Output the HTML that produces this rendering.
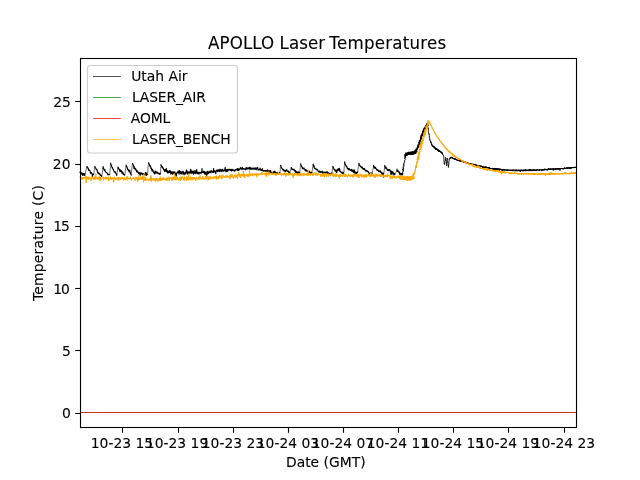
<!DOCTYPE html>
<html lang="en"><head><meta charset="utf-8"><title>APOLLO Laser Temperatures</title>
<style>html,body{margin:0;padding:0;background:#fff;overflow:hidden}svg{display:block}text{font-family:'DejaVu Sans','Liberation Sans',sans-serif;fill:#000;stroke:#000;stroke-width:0.1px}.t10{font-size:13.89px}.t12{font-size:16.67px}</style></head><body>
<svg width="640" height="480" viewBox="0 0 640 480">
<rect width="640" height="480" fill="#fff"/>
<g fill="none" stroke-width="0.7" stroke-linejoin="round">
<path d="M80.00 173.0 L80.20 171.7 L80.40 172.4 L80.60 173.0 L80.80 174.2 L81.00 172.4 L81.20 174.2 L81.40 173.0 L81.60 173.0 L81.80 173.0 L82.00 174.2 L82.00 173.0 L82.20 173.6 L82.40 173.6 L82.60 175.5 L82.80 174.8 L83.00 175.5 L83.20 173.6 L83.40 174.2 L83.60 174.8 L83.80 173.6 L84.00 174.8 L84.20 174.8 L84.40 174.2 L84.60 175.5 L84.80 173.6 L85.00 174.8 M86.90 166.3 L87.00 167.1 L87.20 167.0 L87.40 167.0 L87.60 167.0 L87.80 167.4 L88.00 168.8 L88.20 168.4 L88.40 168.5 L88.50 169.0 L88.60 170.2 L88.80 169.7 L89.00 170.3 L89.20 170.5 L89.40 170.5 L89.60 170.0 L89.80 170.6 L90.00 170.9 L90.00 171.4 L90.20 171.7 L90.40 173.1 L90.60 173.1 L90.80 173.6 L91.00 172.3 L91.20 173.4 L91.40 173.3 L91.60 172.9 L91.80 173.5 L92.00 173.5 L92.20 174.2 L92.40 176.4 L92.50 177.3 L92.60 174.2 L92.80 174.2 L93.00 174.8 L93.20 174.2 L93.40 174.8 L93.60 174.2 L93.80 174.5 M94.75 166.2 L94.80 166.3 L95.00 166.8 L95.20 167.2 L95.40 167.6 L95.60 167.9 L95.80 168.4 L96.00 168.8 L96.20 169.3 L96.40 169.8 L96.50 169.5 L96.60 169.4 L96.80 169.2 L97.00 170.0 L97.20 170.1 L97.40 172.0 L97.60 172.5 L97.80 172.5 L98.00 173.3 L98.20 172.4 L98.40 173.4 L98.60 173.4 L98.80 173.7 L99.00 173.1 L99.00 173.6 L99.20 174.0 L99.40 173.5 L99.60 174.0 L99.80 174.4 L100.00 173.9 L100.20 174.9 L100.40 175.5 L100.60 175.0 L100.80 175.7 L101.00 175.2 L101.20 175.9 L101.40 175.4 L101.60 176.6 L101.80 176.4 L101.90 176.3 M102.90 169.2 L103.00 167.7 L103.20 166.6 L103.40 168.6 L103.60 168.4 L103.80 169.0 L104.00 169.1 L104.20 170.1 L104.40 170.5 L104.60 170.0 L104.80 170.8 L105.00 169.6 L105.00 171.2 L105.20 171.2 L105.40 171.2 L105.60 171.5 L105.80 172.2 L106.00 172.4 L106.20 172.5 L106.40 172.6 L106.60 172.5 L106.80 172.9 L107.00 173.0 L107.00 173.0 L107.20 173.0 L107.40 173.0 L107.60 174.2 L107.80 174.8 L108.00 174.2 L108.20 174.2 L108.40 174.2 L108.60 174.8 L108.80 174.8 L109.00 174.2 L109.00 174.8 L109.20 174.2 L109.40 174.8 L109.60 174.8 L109.80 174.6 M110.60 162.8 L110.60 162.9 L110.80 163.7 L111.00 164.4 L111.20 164.8 L111.40 165.4 L111.60 166.0 L111.80 166.7 L112.00 167.3 L112.00 167.7 L112.20 167.2 L112.40 167.2 L112.60 168.3 L112.80 168.7 L113.00 169.4 L113.20 169.2 L113.40 169.4 L113.60 170.3 L113.80 170.8 L114.00 171.2 L114.00 171.1 L114.20 171.9 L114.40 172.1 L114.60 172.3 L114.80 172.2 L115.00 172.3 L115.20 171.6 L115.40 172.5 L115.60 172.7 L115.80 173.1 L116.00 174.0 L116.20 173.6 L116.40 174.4 L116.60 174.1 L116.80 175.5 L116.90 174.6 M117.90 167.3 L118.00 167.0 L118.20 168.4 L118.40 167.6 L118.60 168.1 L118.80 168.8 L119.00 169.5 L119.20 169.0 L119.40 169.6 L119.50 169.2 L119.60 171.1 L119.80 169.8 L120.00 170.5 L120.20 170.2 L120.40 169.9 L120.60 171.7 L120.80 170.7 L121.00 170.5 L121.20 170.5 L121.40 171.0 L121.60 171.5 L121.80 172.4 L122.00 172.9 L122.00 173.4 L122.20 172.8 L122.40 171.9 L122.60 172.1 L122.80 172.6 L123.00 172.4 L123.20 174.4 L123.40 174.0 L123.60 174.3 L123.80 174.7 L124.00 174.3 L124.20 174.8 L124.40 175.2 L124.60 174.9 L124.75 175.4 M126.00 165.6 L126.00 165.0 L126.20 166.2 L126.40 166.0 L126.60 166.3 L126.80 166.3 L127.00 167.6 L127.20 167.3 L127.40 169.2 L127.50 168.3 L127.60 168.8 L127.80 169.7 L128.00 169.7 L128.20 170.1 L128.40 169.8 L128.60 169.8 L128.80 171.0 L129.00 171.7 L129.00 171.3 L129.20 171.7 L129.40 171.2 L129.60 170.9 L129.80 170.0 L130.00 172.4 L130.20 171.9 L130.40 173.1 L130.60 173.5 L130.80 174.0 L131.00 174.5 L131.20 175.2 L131.25 174.5 M132.50 163.2 L132.60 163.5 L132.80 163.9 L133.00 164.3 L133.20 164.8 L133.40 165.4 L133.60 166.1 L133.80 166.5 L134.00 168.2 L134.00 168.5 L134.20 166.2 L134.40 167.7 L134.60 168.0 L134.80 168.2 L135.00 169.3 L135.20 168.9 L135.40 168.4 L135.60 169.2 L135.80 168.9 L136.00 170.4 L136.00 170.2 L136.20 170.7 L136.40 170.1 L136.60 171.9 L136.80 170.7 L137.00 170.9 L137.20 170.9 L137.40 170.8 L137.60 171.0 L137.80 172.4 L138.00 172.3 L138.00 172.8 L138.20 172.5 L138.40 173.3 L138.60 173.6 L138.80 172.3 L139.00 173.3 L139.20 172.8 L139.40 173.9 L139.60 173.7 L139.80 174.2 L140.00 172.4 L140.00 173.6 L140.20 175.5 L140.40 173.6 L140.60 173.6 L140.80 173.6 L141.00 173.6 L141.20 173.6 L141.40 173.0 L141.60 173.6 L141.80 173.0 L142.00 173.0 L142.20 174.8 L142.40 174.8 L142.60 174.8 L142.80 174.8 L143.00 174.2 L143.00 173.6 L143.20 174.2 L143.40 174.2 L143.60 173.6 L143.80 174.2 L144.00 174.2 L144.20 174.2 L144.40 174.8 L144.60 174.2 L144.80 174.2 L145.00 174.2 L145.20 173.0 L145.40 173.6 L145.60 172.4 L145.80 173.6 L146.00 175.5 L146.20 175.5 L146.40 175.5 L146.60 173.0 L146.80 174.2 L147.00 174.2 L147.20 174.8 L147.40 174.8 L147.50 175.1 M148.50 162.3 L148.60 162.8 L148.80 163.3 L149.00 163.8 L149.20 164.1 L149.40 164.7 L149.60 165.3 L149.80 165.7 L150.00 166.3 L150.00 166.3 L150.20 166.3 L150.40 166.8 L150.60 165.8 L150.80 168.1 L151.00 167.5 L151.20 168.3 L151.40 168.7 L151.60 169.8 L151.80 169.0 L152.00 170.6 L152.00 170.2 L152.20 171.3 L152.40 169.3 L152.60 170.1 L152.80 170.5 L153.00 171.1 L153.20 170.7 L153.40 172.3 L153.60 171.6 L153.80 172.4 L154.00 173.1 L154.20 173.7 L154.40 172.4 L154.60 173.6 L154.80 173.9 L155.00 173.6 L155.00 172.4 L155.20 171.1 L155.40 172.4 L155.60 173.0 L155.80 172.4 L156.00 171.7 L156.20 172.4 L156.40 173.0 L156.60 172.4 L156.80 171.7 L157.00 173.0 L157.00 172.4 L157.20 172.4 L157.40 172.4 L157.60 173.0 L157.80 173.0 L158.00 173.6 L158.20 173.6 L158.40 173.6 L158.60 173.0 L158.80 173.6 L159.00 173.6 L159.20 174.2 L159.40 173.7 L159.40 173.6 L159.60 174.2 L159.80 173.8 L160.00 173.1 L160.20 173.5 L160.30 174.5 M161.00 165.2 L161.00 164.6 L161.20 165.7 L161.40 165.6 L161.60 166.6 L161.80 167.2 L162.00 166.5 L162.20 167.6 L162.40 167.1 L162.50 166.8 L162.60 167.6 L162.80 167.2 L163.00 168.3 L163.20 168.6 L163.40 168.4 L163.60 170.0 L163.80 169.9 L164.00 169.7 L164.20 169.8 L164.40 170.4 L164.60 171.5 L164.80 171.1 L165.00 170.5 L165.00 171.1 L165.20 169.3 L165.40 169.3 L165.60 171.1 L165.80 169.3 L166.00 170.5 L166.20 169.9 L166.40 168.6 L166.60 171.7 L166.80 170.5 L167.00 171.7 L167.20 170.5 L167.40 170.5 L167.50 172.4 L167.60 173.0 L167.80 172.4 L168.00 173.0 L168.20 173.0 L168.40 172.4 L168.60 171.1 L168.80 171.7 L169.00 172.4 L169.20 171.1 L169.40 171.7 L169.60 170.5 L169.80 171.7 L170.00 172.4 L170.00 170.5 L170.20 171.7 L170.40 172.4 L170.60 171.1 L170.80 174.2 L171.00 173.6 L171.20 173.6 L171.40 173.6 L171.60 172.4 L171.80 171.7 L172.00 172.4 L172.20 171.7 L172.40 173.0 L172.50 174.2 L172.60 173.0 L172.80 173.0 L173.00 172.4 L173.20 173.6 L173.40 171.7 L173.60 172.4 L173.80 173.0 L174.00 172.4 L174.20 173.0 L174.40 173.0 L174.60 171.7 L174.80 172.4 L175.00 174.8 L175.20 174.2 L175.40 174.2 L175.60 174.2 L175.80 173.0 L176.00 174.2 L176.20 176.1 L176.40 174.8 L176.60 173.0 L176.80 173.6 L177.00 173.0 L177.20 172.4 L177.40 172.4 L177.60 173.0 L177.80 172.4 L178.00 171.1 L178.20 172.4 L178.40 171.7 L178.60 173.0 L178.80 172.4 L179.00 174.2 L179.20 170.5 L179.40 171.1 L179.60 171.7 L179.80 173.0 L180.00 173.0 L180.00 171.1 L180.20 173.0 L180.40 171.7 L180.60 173.6 L180.80 171.7 L181.00 172.4 L181.20 174.2 L181.40 172.4 L181.60 173.6 L181.80 171.7 L182.00 173.0 L182.20 173.0 L182.40 171.7 L182.60 173.0 L182.80 172.4 L183.00 171.1 L183.20 174.8 L183.40 173.0 L183.60 172.4 L183.80 172.4 L184.00 173.0 L184.20 172.4 L184.40 173.6 L184.60 173.6 L184.80 174.8 L185.00 173.6 L185.20 173.6 L185.40 173.6 L185.60 171.7 L185.80 171.7 L186.00 173.0 L186.20 172.4 L186.40 170.5 L186.60 169.9 L186.80 170.5 L187.00 173.0 L187.20 171.7 L187.40 174.2 L187.60 171.7 L187.80 173.6 L188.00 171.7 L188.20 172.4 L188.40 172.4 L188.60 173.6 L188.80 173.0 L189.00 171.7 L189.20 173.0 L189.40 172.4 L189.60 172.4 L189.80 172.4 L190.00 173.6 L190.00 171.7 L190.20 173.0 L190.40 169.9 L190.60 169.9 L190.80 169.3 L191.00 171.7 L191.20 172.4 L191.40 171.7 L191.60 171.1 L191.80 173.6 L192.00 173.0 L192.20 173.0 L192.40 173.0 L192.60 171.7 L192.80 171.1 L193.00 171.7 L193.20 173.0 L193.40 171.7 L193.60 174.2 L193.80 172.4 L194.00 173.0 L194.20 170.5 L194.40 172.4 L194.60 171.7 L194.80 172.4 L195.00 173.0 L195.20 173.6 L195.40 173.0 L195.60 173.6 L195.80 170.5 L196.00 172.4 L196.20 170.5 L196.40 170.5 L196.60 169.9 L196.80 169.9 L197.00 173.6 L197.20 173.0 L197.40 173.6 L197.60 172.4 L197.80 173.0 L198.00 173.6 L198.20 173.6 L198.40 172.4 L198.60 173.6 L198.80 173.0 L199.00 174.2 L199.20 172.4 L199.40 173.0 L199.60 173.0 L199.80 172.4 L200.00 173.0 L200.00 173.0 L200.20 173.0 L200.40 173.0 L200.60 172.4 L200.80 172.4 L201.00 173.6 L201.20 172.4 L201.40 172.4 L201.60 171.7 L201.80 172.4 L202.00 168.6 L202.20 172.4 L202.40 171.7 L202.60 172.4 L202.80 171.7 L203.00 171.7 L203.20 173.0 L203.40 171.7 L203.60 172.4 L203.80 171.1 L204.00 172.4 L204.20 172.4 L204.40 173.0 L204.60 171.7 L204.80 174.2 L205.00 174.2 L205.20 174.2 L205.40 174.2 L205.60 174.2 L205.80 172.4 L206.00 171.7 L206.20 171.7 L206.40 174.8 L206.60 176.1 L206.80 173.0 L207.00 174.2 L207.20 174.2 L207.40 174.2 L207.60 171.7 L207.80 171.1 L208.00 171.7 L208.20 173.0 L208.40 173.6 L208.60 173.0 L208.80 172.4 L209.00 173.0 L209.20 173.0 L209.40 171.7 L209.60 171.7 L209.80 171.1 L210.00 172.4 L210.00 171.7 L210.20 172.4 L210.40 171.7 L210.60 171.7 L210.80 171.1 L211.00 173.0 L211.20 171.7 L211.40 171.1 L211.60 171.7 L211.80 170.5 L212.00 171.7 L212.20 171.7 L212.40 171.7 L212.60 172.4 L212.80 171.7 L213.00 172.4 L213.20 171.7 L213.40 171.7 L213.60 168.6 L213.80 172.4 L214.00 171.1 L214.20 171.1 L214.40 170.5 L214.60 171.7 L214.80 171.7 L215.00 171.1 L215.00 171.1 L215.20 171.7 L215.40 172.4 L215.60 171.7 L215.80 173.6 L216.00 171.1 L216.20 171.1 L216.40 170.5 L216.60 171.1 L216.80 170.5 L217.00 169.9 L217.20 170.5 L217.40 171.1 L217.60 171.7 L217.80 169.9 L218.00 170.5 L218.20 170.5 L218.40 170.5 L218.60 171.1 L218.80 169.9 L219.00 169.9 L219.20 169.3 L219.40 171.7 L219.60 170.5 L219.80 171.1 L220.00 170.5 L220.00 171.1 L220.20 170.5 L220.40 169.9 L220.60 169.3 L220.80 170.5 L221.00 170.5 L221.20 171.7 L221.40 169.9 L221.60 169.9 L221.80 171.1 L222.00 170.5 L222.20 169.3 L222.40 170.5 L222.60 171.1 L222.80 169.3 L223.00 170.5 L223.20 170.5 L223.40 171.1 L223.60 171.1 L223.80 170.5 L224.00 171.1 L224.20 170.5 L224.40 169.9 L224.60 169.9 L224.80 170.5 L225.00 168.0 L225.00 169.9 L225.20 167.4 L225.40 169.3 L225.60 169.3 L225.80 171.7 L226.00 169.9 L226.20 169.9 L226.40 171.1 L226.60 171.1 L226.80 171.7 L227.00 169.3 L227.20 170.5 L227.40 171.1 L227.60 170.5 L227.80 171.1 L228.00 169.3 L228.20 170.5 L228.40 169.3 L228.60 169.9 L228.80 169.9 L229.00 169.9 L229.20 169.9 L229.40 169.3 L229.60 169.9 L229.80 169.9 L230.00 169.9 L230.00 169.3 L230.20 170.5 L230.40 169.9 L230.60 170.5 L230.80 169.3 L231.00 169.9 L231.20 170.5 L231.40 169.3 L231.60 171.1 L231.80 169.9 L232.00 170.5 L232.20 169.9 L232.40 169.3 L232.60 169.9 L232.80 169.9 L233.00 170.5 L233.20 170.5 L233.40 169.9 L233.60 169.9 L233.80 170.5 L234.00 170.5 L234.20 171.1 L234.40 171.1 L234.60 170.5 L234.80 171.1 L235.00 170.5 L235.00 169.9 L235.20 169.9 L235.40 169.9 L235.60 169.9 L235.80 169.3 L236.00 169.9 L236.20 169.9 L236.40 169.9 L236.60 169.9 L236.80 169.9 L237.00 169.3 L237.20 168.6 L237.40 169.3 L237.60 170.5 L237.80 168.6 L238.00 168.6 L238.20 168.6 L238.40 170.5 L238.60 170.5 L238.75 169.3 L238.80 169.9 L239.00 169.9 L239.20 169.9 L239.40 169.9 L239.60 169.3 L239.80 168.6 L240.00 169.3 L240.00 168.6 L240.20 168.0 L240.40 168.6 L240.60 168.6 L240.80 167.4 L241.00 168.0 L241.20 168.0 L241.40 169.3 L241.60 168.6 L241.80 169.3 L242.00 169.3 L242.20 168.6 L242.40 167.4 L242.60 168.6 L242.80 168.6 L243.00 169.3 L243.20 169.3 L243.40 169.3 L243.60 168.6 L243.80 168.6 L244.00 169.3 L244.20 169.3 L244.40 169.3 L244.60 169.3 L244.80 169.3 L245.00 168.6 L245.00 169.3 L245.20 169.3 L245.40 169.9 L245.60 168.6 L245.80 168.0 L246.00 169.3 L246.20 168.6 L246.40 167.4 L246.60 169.3 L246.80 168.0 L247.00 169.3 L247.20 168.0 L247.40 168.0 L247.60 168.6 L247.80 168.0 L248.00 168.6 L248.20 168.6 L248.40 168.6 L248.60 168.6 L248.80 168.0 L249.00 167.4 L249.20 169.3 L249.40 167.4 L249.60 169.3 L249.80 168.0 L250.00 168.6 L250.00 168.6 L250.20 167.4 L250.40 168.6 L250.60 169.3 L250.80 169.3 L251.00 168.6 L251.20 168.6 L251.40 168.6 L251.60 168.0 L251.80 169.3 L252.00 168.6 L252.20 169.3 L252.40 169.3 L252.60 168.0 L252.80 168.6 L253.00 168.6 L253.20 168.0 L253.40 168.6 L253.60 168.6 L253.80 169.3 L254.00 169.3 L254.20 168.0 L254.40 168.6 L254.60 168.6 L254.80 168.0 L255.00 169.3 L255.00 169.3 L255.20 168.6 L255.40 168.0 L255.60 168.6 L255.80 168.0 L256.00 168.6 L256.20 169.9 L256.40 168.6 L256.60 168.0 L256.80 168.6 L257.00 168.0 L257.20 168.6 L257.40 167.4 L257.60 167.4 L257.80 168.0 L258.00 169.9 L258.20 169.9 L258.40 169.3 L258.60 169.3 L258.75 169.9 L258.80 169.9 L259.00 169.9 L259.20 169.9 L259.40 169.3 L259.60 169.9 L259.80 169.3 L260.00 168.0 L260.20 168.0 L260.40 169.3 L260.60 169.9 L260.80 169.9 L261.00 170.5 L261.20 169.9 L261.40 169.9 L261.60 169.9 L261.80 169.3 L262.00 169.3 L262.00 170.5 L262.20 169.9 L262.40 168.6 L262.60 169.9 L262.80 170.5 L263.00 170.5 L263.20 171.1 L263.40 170.5 L263.60 171.1 L263.80 170.5 L264.00 170.5 L264.20 170.5 L264.40 170.5 L264.60 171.1 L264.80 170.5 L265.00 170.5 L265.20 171.1 L265.40 170.5 L265.60 171.1 L265.80 171.1 L266.00 171.1 L266.20 170.5 L266.40 170.5 L266.60 171.1 L266.80 171.7 L267.00 171.7 L267.20 171.1 L267.40 169.9 L267.50 171.1 L267.60 171.1 L267.80 170.5 L268.00 170.5 L268.20 170.5 L268.40 171.1 L268.60 171.1 L268.80 171.7 L269.00 171.1 L269.20 170.5 L269.40 171.1 L269.60 171.7 L269.80 172.4 L270.00 171.7 L270.20 171.7 L270.40 171.1 L270.60 170.5 L270.80 171.1 L271.00 173.0 L271.20 173.0 L271.40 173.0 L271.60 172.4 L271.80 173.0 L272.00 173.6 L272.00 173.0 L272.20 173.6 L272.40 173.0 L272.60 172.4 L272.80 172.4 L273.00 172.4 L273.20 172.4 L273.40 171.7 L273.60 172.4 L273.80 171.7 L274.00 173.0 L274.20 171.7 L274.40 171.7 L274.60 172.4 L274.80 171.1 L275.00 172.4 L275.20 172.4 L275.40 173.0 L275.60 172.4 L275.80 172.4 L276.00 173.0 L276.00 173.6 L276.20 173.6 L276.40 173.0 L276.60 173.0 L276.80 173.0 L277.00 173.0 L277.20 172.4 L277.40 173.6 L277.60 173.6 L277.80 173.6 L278.00 174.2 L278.20 173.6 L278.40 173.6 L278.60 173.6 L278.80 173.6 L279.00 173.0 L279.20 173.0 L279.40 173.0 L279.60 173.0 L279.80 172.4 L280.00 172.8 M280.60 164.9 L280.60 165.0 L280.80 165.8 L281.00 166.3 L281.20 166.6 L281.40 167.4 L281.60 168.2 L281.80 168.1 L282.00 168.6 L282.00 168.6 L282.20 168.6 L282.40 169.3 L282.60 169.3 L282.80 169.9 L283.00 169.3 L283.20 169.3 L283.40 169.9 L283.60 169.9 L283.80 169.3 L284.00 171.1 L284.00 171.1 L284.20 171.1 L284.40 171.1 L284.60 171.1 L284.80 170.5 L285.00 170.5 L285.20 170.5 L285.40 171.7 L285.60 171.7 L285.80 171.1 L286.00 171.1 L286.20 169.9 L286.40 169.9 L286.60 170.5 L286.80 170.5 L287.00 169.9 L287.00 170.5 L287.20 170.5 L287.40 171.1 L287.60 171.1 L287.80 171.7 L288.00 171.7 L288.20 171.1 L288.40 171.7 L288.60 172.4 L288.80 171.1 L289.00 172.4 L289.20 172.4 L289.40 173.0 L289.60 172.4 L289.80 173.0 L290.00 172.3 M291.25 167.2 L291.40 168.0 L291.60 169.3 L291.80 168.6 L292.00 168.8 L292.20 168.8 L292.40 169.3 L292.60 169.5 L292.80 169.5 L293.00 169.9 L293.00 169.3 L293.20 169.3 L293.40 169.9 L293.60 169.9 L293.80 169.3 L294.00 169.9 L294.20 169.3 L294.40 170.5 L294.60 170.5 L294.80 171.1 L295.00 171.1 L295.20 170.5 L295.40 171.7 L295.60 172.4 L295.80 171.1 L296.00 171.7 L296.00 171.1 L296.20 171.7 L296.40 172.4 L296.60 171.7 L296.80 173.0 L297.00 173.0 L297.20 173.0 L297.40 172.4 L297.60 173.6 L297.80 171.7 L298.00 172.4 L298.20 172.4 L298.40 171.7 L298.60 173.6 L298.80 173.0 L299.00 173.6 L299.20 172.4 L299.40 173.6 L299.60 172.4 L299.75 173.0 M300.60 163.5 L300.60 163.6 L300.80 164.3 L301.00 164.9 L301.20 165.3 L301.40 165.7 L301.60 166.2 L301.80 166.6 L302.00 167.4 L302.00 166.8 L302.20 167.1 L302.40 168.4 L302.60 167.9 L302.80 167.8 L303.00 168.9 L303.20 168.3 L303.40 168.3 L303.60 168.2 L303.80 168.7 L304.00 168.0 L304.00 168.0 L304.20 168.6 L304.40 169.3 L304.60 169.3 L304.80 169.3 L305.00 169.9 L305.20 170.5 L305.40 169.3 L305.60 170.5 L305.80 171.1 L306.00 171.1 L306.00 169.9 L306.20 170.5 L306.40 170.5 L306.60 169.9 L306.80 170.5 L307.00 171.1 L307.20 170.5 L307.40 171.7 L307.60 171.1 L307.80 171.1 L308.00 171.7 L308.20 171.7 L308.40 171.7 L308.60 173.0 L308.80 172.4 L309.00 171.1 L309.00 171.7 L309.20 171.1 L309.40 172.4 L309.60 172.4 L309.80 171.7 L310.00 172.4 L310.20 173.0 L310.40 173.6 L310.60 173.0 L310.80 173.0 L311.00 172.4 L311.20 173.0 L311.40 172.4 L311.60 173.0 L311.80 172.4 L311.90 173.2 M313.10 163.8 L313.20 163.9 L313.40 165.0 L313.60 167.0 L313.80 165.5 L314.00 165.7 L314.20 166.5 L314.40 168.0 L314.60 168.5 L314.80 168.0 L315.00 168.4 L315.00 168.1 L315.20 168.3 L315.40 169.0 L315.60 168.9 L315.80 169.0 L316.00 168.8 L316.20 169.6 L316.40 169.4 L316.60 169.4 L316.80 169.6 L317.00 169.3 L317.00 169.9 L317.20 169.9 L317.40 169.9 L317.60 169.9 L317.80 169.9 L318.00 171.1 L318.20 171.1 L318.40 171.1 L318.60 171.7 L318.80 171.7 L319.00 171.7 L319.20 172.4 L319.40 171.1 L319.60 171.1 L319.80 171.7 L320.00 171.7 L320.00 171.1 L320.20 171.7 L320.40 172.4 L320.60 172.4 L320.80 171.7 L321.00 171.7 L321.20 171.7 L321.40 171.7 L321.60 171.7 L321.80 172.4 L322.00 172.4 L322.00 171.7 L322.20 171.1 L322.40 173.0 L322.60 173.6 L322.80 173.0 L323.00 172.4 L323.20 173.6 L323.40 173.0 L323.60 172.4 L323.80 173.0 L324.00 171.7 L324.20 173.0 L324.40 172.4 L324.60 173.0 L324.80 173.6 L325.00 173.0 L325.20 173.0 L325.40 172.4 L325.60 172.4 L325.80 172.4 L326.00 172.4 L326.00 171.7 L326.20 173.0 L326.40 172.4 L326.60 173.6 L326.80 173.6 L327.00 173.0 L327.20 171.7 L327.40 172.4 L327.60 173.0 L327.80 173.0 L328.00 172.4 L328.20 173.0 L328.40 173.0 L328.60 173.6 L328.80 173.0 L329.00 173.0 L329.00 173.0 L329.20 173.6 L329.40 173.6 L329.60 173.6 L329.80 173.6 L330.00 174.2 L330.20 174.2 L330.40 173.6 L330.60 174.8 L330.80 173.0 L331.00 173.0 L331.20 173.6 L331.40 173.0 L331.60 173.0 L331.80 173.6 L331.90 173.8 M332.75 166.2 L332.80 166.2 L333.00 166.9 L333.20 167.2 L333.40 167.8 L333.60 168.2 L333.80 168.5 L334.00 169.2 L334.00 169.5 L334.20 169.2 L334.40 169.8 L334.60 169.6 L334.80 170.0 L335.00 170.4 L335.20 171.0 L335.40 170.8 L335.60 171.1 L335.60 171.1 L335.80 169.9 L336.00 171.7 L336.20 171.1 L336.40 172.4 L336.60 171.7 L336.80 172.4 L337.00 171.8 L337.00 172.0 L337.20 169.6 L337.40 169.3 L337.60 170.2 L337.80 169.9 L338.00 169.7 L338.20 169.0 L338.40 170.2 L338.60 168.9 L338.75 169.1 L338.80 168.6 L339.00 170.1 L339.20 168.8 L339.40 168.3 L339.60 170.9 L339.80 169.6 L340.00 171.0 L340.00 171.3 L340.20 171.5 L340.40 171.3 L340.60 171.7 L340.80 172.3 L341.00 171.9 L341.20 172.0 L341.40 172.5 L341.60 172.4 L341.80 172.3 L342.00 173.6 L342.00 173.0 L342.20 172.4 L342.40 172.4 L342.60 172.4 L342.80 173.6 L343.00 173.6 L343.20 172.4 L343.40 173.0 L343.60 173.6 L343.75 173.9 M344.60 162.1 L344.60 161.9 L344.80 163.0 L345.00 163.6 L345.20 164.3 L345.40 164.7 L345.60 165.1 L345.80 165.4 L346.00 165.2 L346.00 166.0 L346.20 166.1 L346.40 166.6 L346.60 166.4 L346.80 167.0 L347.00 166.6 L347.20 168.0 L347.40 168.6 L347.60 168.7 L347.80 169.1 L348.00 168.6 L348.00 168.6 L348.20 168.6 L348.40 168.6 L348.60 169.9 L348.80 168.6 L349.00 168.6 L349.20 168.6 L349.40 169.3 L349.60 169.9 L349.80 169.3 L350.00 169.9 L350.00 169.3 L350.20 169.9 L350.40 170.5 L350.60 170.5 L350.80 169.9 L351.00 170.5 L351.20 169.9 L351.40 169.3 L351.60 171.1 L351.80 170.5 L352.00 169.9 L352.20 171.1 L352.40 171.1 L352.60 171.7 L352.80 170.5 L353.00 171.7 L353.00 169.9 L353.20 171.1 L353.40 171.7 L353.60 172.4 L353.80 172.4 L354.00 172.4 L354.20 169.9 L354.40 170.5 L354.60 173.0 L354.80 173.6 L355.00 172.4 L355.00 173.0 L355.20 171.7 L355.40 173.0 L355.60 172.4 L355.80 172.4 L356.00 172.4 L356.20 173.0 L356.40 173.6 L356.60 173.6 L356.80 172.4 L357.00 173.0 L357.20 172.4 L357.40 171.7 L357.50 173.2 M358.75 163.9 L358.80 163.3 L359.00 163.6 L359.20 164.9 L359.40 164.8 L359.60 165.7 L359.80 165.5 L360.00 165.4 L360.20 166.2 L360.40 166.6 L360.50 166.2 L360.60 166.8 L360.80 166.8 L361.00 166.8 L361.20 167.4 L361.40 167.4 L361.60 166.8 L361.80 168.0 L362.00 166.8 L362.20 168.0 L362.40 168.0 L362.60 167.4 L362.80 168.6 L363.00 168.6 L363.20 169.3 L363.40 168.6 L363.60 168.6 L363.75 169.3 L363.80 168.6 L364.00 168.6 L364.20 169.9 L364.40 168.6 L364.60 168.6 L364.80 169.3 L365.00 169.9 L365.20 169.9 L365.40 170.5 L365.60 170.5 L365.80 171.1 L366.00 171.4 L366.00 171.2 L366.20 170.4 L366.40 171.0 L366.60 170.7 L366.80 171.0 L367.00 170.7 L367.20 171.3 L367.40 171.7 L367.60 171.7 L367.80 171.3 L368.00 171.3 L368.20 171.8 L368.40 172.0 L368.60 172.8 L368.80 172.5 L369.00 173.0 L369.00 173.0 L369.20 174.2 L369.40 174.2 L369.60 173.6 L369.80 173.6 L370.00 173.6 L370.20 173.6 L370.40 173.0 L370.60 173.6 L370.80 173.6 L371.00 173.0 L371.20 174.2 L371.40 174.2 L371.60 173.0 L371.80 173.0 L371.90 174.3 M373.50 166.7 L373.60 165.4 L373.80 166.8 L374.00 167.9 L374.20 167.0 L374.40 166.8 L374.60 168.3 L374.80 167.1 L375.00 167.9 L375.20 167.9 L375.40 167.2 L375.50 168.2 L375.60 167.5 L375.80 168.7 L376.00 168.9 L376.20 169.0 L376.40 168.9 L376.60 169.2 L376.80 170.2 L377.00 169.7 L377.20 170.0 L377.40 170.5 L377.60 169.7 L377.80 169.9 L378.00 169.9 L378.00 170.5 L378.20 171.1 L378.40 170.5 L378.60 171.7 L378.80 171.7 L379.00 171.7 L379.20 171.7 L379.40 171.1 L379.60 171.7 L379.80 171.1 L380.00 170.5 L380.20 170.5 L380.40 171.7 L380.60 172.4 L380.80 172.4 L381.00 172.4 L381.00 171.7 L381.20 172.4 L381.40 172.4 L381.60 173.0 L381.80 174.2 L382.00 173.6 L382.20 173.0 L382.40 174.2 L382.60 173.0 L382.80 174.2 L383.00 173.6 L383.20 174.2 L383.40 177.3 L383.60 173.0 L383.75 173.7 M384.75 166.9 L384.80 165.4 L385.00 166.2 L385.20 168.3 L385.40 167.1 L385.60 167.3 L385.80 167.4 L386.00 167.0 L386.20 168.1 L386.40 168.1 L386.60 168.3 L386.80 168.4 L387.00 169.6 L387.00 169.1 L387.20 169.9 L387.40 169.2 L387.60 170.0 L387.80 170.5 L388.00 170.0 L388.20 169.5 L388.40 170.0 L388.60 170.8 L388.80 170.8 L389.00 170.2 L389.20 170.0 L389.40 169.6 L389.60 170.1 L389.80 170.3 L390.00 169.9 L390.00 169.9 L390.20 171.1 L390.40 171.7 L390.60 171.1 L390.80 174.2 L391.00 172.4 L391.20 173.6 L391.40 173.0 L391.60 171.1 L391.80 174.2 L392.00 173.0 L392.20 171.7 L392.40 173.0 L392.60 173.0 L392.80 171.7 L393.00 172.4 L393.00 172.4 L393.20 173.6 L393.40 175.5 L393.60 173.6 L393.80 174.2 L394.00 173.0 L394.20 174.8 L394.40 173.6 L394.60 174.2 L394.80 174.8 L395.00 174.3 M396.90 170.2 L397.00 169.1 L397.20 171.4 L397.40 170.8 L397.60 171.5 L397.80 171.1 L398.00 170.5 L398.20 171.6 L398.40 171.6 L398.50 172.0 L398.60 171.9 L398.80 172.4 L399.00 171.7 L399.20 172.8 L399.40 172.8 L399.60 173.4 L399.80 172.3 L400.09 173.6" stroke="#000" stroke-width="1.1"/>
<path d="M85.00 174.8 L86.90 166.3 M93.80 174.5 L94.75 166.2 M101.90 176.3 L102.90 169.2 M109.80 174.6 L110.60 162.8 M116.90 174.6 L117.90 167.3 M124.75 175.4 L126.00 165.6 M131.25 174.5 L132.50 163.2 M147.50 175.1 L148.50 162.3 M160.30 174.5 L161.00 165.2 M280.00 172.8 L280.60 164.9 M290.00 172.3 L291.25 167.2 M299.75 173.0 L300.60 163.5 M311.90 173.2 L313.10 163.8 M331.90 173.8 L332.75 166.2 M343.75 173.9 L344.60 162.1 M357.50 173.2 L358.75 163.9 M371.90 174.3 L373.50 166.7 M383.75 173.7 L384.75 166.9 M395.00 174.3 L396.90 170.2" stroke="#000" stroke-width="0.55"/>
<path d="M400.09 173.6 L399.66 174.2 L400.29 173.0 L399.95 174.2 L399.87 174.2 L400.20 173.6 L400.00 174.2 L400.03 174.2 L399.98 174.8 L400.43 173.6 L400.42 173.6 L400.23 174.2 L400.60 173.6 L400.49 174.2 L400.69 173.6 L400.97 173.0 L400.53 174.2 L400.30 174.8 L400.78 173.6 L400.73 174.2 L400.89 173.6 L400.95 173.6 L400.82 174.2 L400.68 174.8 L400.58 174.8 L400.83 174.8 L401.20 173.6 L401.35 173.6 L400.83 174.8 L401.08 174.2 L401.33 174.2 L401.42 173.6 L401.42 174.2 L401.04 174.8 L401.35 174.2 L401.69 173.6 L401.22 174.8 L401.39 174.8 L401.56 174.2 L401.42 174.8 L401.77 174.2 L401.40 174.8 L401.94 173.6 L401.89 174.2 L402.03 174.2 L401.89 174.2 L401.96 174.2 L401.93 174.2 L401.90 174.8 L401.84 174.8 L401.97 174.8 L401.95 174.8 L401.72 175.5 L402.16 174.8 L402.45 174.2 L402.67 174.8 L403.09 174.9 L402.29 174.8 L402.66 174.5 L401.98 174.1 L402.44 173.9 L402.71 173.6 L402.59 173.6 L402.18 173.2 L403.14 173.1 L402.62 172.7 L402.97 172.4 L402.76 172.4 L402.99 172.1 L403.07 171.8 L402.66 171.5 L403.13 171.2 L403.51 171.3 L403.56 171.0 L403.20 170.6 L403.62 170.4 L402.48 169.9 L403.58 170.1 L403.08 169.7 L402.40 169.3 L403.22 169.1 L403.59 168.9 L402.93 168.7 L403.96 168.6 L403.83 168.3 L402.85 167.8 L403.80 167.7 L403.44 167.6 L403.23 167.3 L403.38 167.0 L403.32 167.0 L403.07 166.6 L403.42 166.4 L403.87 166.4 L404.21 166.2 L404.28 165.9 L403.52 165.4 L403.75 165.2 L403.46 165.1 L404.26 164.9 L403.25 164.5 L403.41 164.2 L403.75 163.9 L404.10 164.0 L403.92 163.6 L404.11 163.4 L404.17 163.1 L404.29 162.8 L403.79 162.7 L404.12 162.4 L404.53 162.2 L404.46 161.9 L404.83 161.6 L404.11 161.5 L404.81 161.3 L405.08 161.0 L404.49 160.6 L404.70 160.3 L404.69 160.3 L404.86 160.1 L404.85 159.8 L405.33 159.5 L405.00 159.2 L405.14 159.2 L404.98 158.8 L404.49 158.4 L405.12 158.2 L404.91 157.9 L404.75 157.9 L404.70 157.5 L405.07 157.3 L404.87 157.2 L405.82 157.4 L405.79 157.3 L405.10 157.0 L405.51 157.0 L405.73 157.0 L405.29 156.6 L406.07 156.8 L405.74 156.7 L405.41 156.4 L403.99 155.7 L404.74 155.8 L405.87 156.1 L405.23 155.9 L405.63 155.9 L405.04 155.5 L405.96 155.7 L405.42 155.4 L404.50 155.0 L405.56 155.3 L405.42 155.1 L404.65 154.6 L406.94 155.9 L405.95 155.0 L405.78 154.8 L406.54 155.4 L406.05 154.8 L406.66 155.3 L405.22 153.9 L405.52 154.1 L406.61 155.1 L407.28 155.6 L406.37 154.6 L406.54 154.7 L405.86 154.1 L406.43 154.5 L406.03 154.0 L406.44 154.3 L407.08 154.8 L405.41 153.3 L406.79 154.4 L406.17 153.8 L406.32 153.8 L407.55 154.8 L406.99 154.3 L407.47 154.7 L405.74 153.0 L406.68 153.7 L406.70 153.6 L406.61 153.6 L407.34 154.1 L407.69 154.4 L406.42 153.1 L406.57 153.1 L406.37 152.9 L408.01 154.4 L407.27 153.1 L407.29 153.8 L407.33 153.1 L407.34 152.5 L407.42 153.8 L407.48 153.8 L407.56 154.4 L407.54 153.1 L407.58 153.1 L407.56 153.1 L407.75 155.0 L407.77 154.4 L407.75 153.8 L407.84 154.4 L407.76 153.1 L407.97 155.0 L407.86 153.1 L407.92 153.1 L407.98 153.1 L408.11 155.0 L408.06 153.8 L408.17 154.4 L408.14 153.1 L408.12 152.5 L408.25 154.4 L408.21 153.1 L408.21 152.5 L408.32 153.1 L408.44 154.4 L408.52 155.0 L408.36 152.5 L408.38 151.9 L408.61 154.4 L408.62 153.8 L408.56 153.1 L408.68 153.8 L408.75 154.4 L408.87 155.0 L408.79 153.1 L408.89 154.4 L408.82 153.1 L408.87 153.1 L408.98 153.8 L408.93 152.5 L408.91 152.5 L409.11 154.4 L408.98 151.9 L409.16 153.8 L409.18 153.1 L409.18 153.1 L409.16 152.5 L409.18 151.9 L409.31 153.1 L409.32 152.5 L409.37 153.1 L409.46 153.8 L409.45 152.5 L409.48 152.5 L409.62 153.8 L409.55 152.5 L409.59 152.5 L409.68 153.1 L409.77 153.8 L409.92 155.0 L409.91 155.0 L409.77 152.5 L409.81 152.5 L409.95 153.8 L410.05 153.8 L409.99 153.1 L410.18 155.0 L410.16 154.4 L410.26 155.0 L410.11 153.1 L410.11 152.5 L410.10 152.5 L410.24 153.1 L410.18 152.5 L410.29 152.5 L410.36 153.1 L410.49 154.4 L410.40 153.1 L410.36 151.9 L410.51 153.1 L410.62 153.8 L410.65 153.8 L410.56 152.5 L410.76 153.8 L410.88 154.4 L410.85 153.8 L410.82 153.8 L410.81 153.1 L410.84 152.5 L410.77 151.9 L411.06 153.8 L410.97 153.1 L411.06 153.1 L411.15 153.8 L411.07 152.5 L411.30 154.4 L411.21 153.1 L411.40 154.4 L411.32 153.1 L411.38 153.8 L411.37 153.1 L411.54 154.4 L411.27 151.9 L411.45 152.5 L411.52 153.1 L411.45 151.9 L411.52 152.5 L411.47 151.9 L411.72 153.1 L411.61 151.9 L411.84 153.8 L411.77 153.1 L411.77 152.5 L411.75 151.9 L411.88 152.5 L412.03 153.8 L411.99 153.1 L412.11 153.8 L412.02 152.5 L412.31 154.4 L412.18 153.1 L412.12 152.5 L412.38 154.4 L412.43 154.4 L412.34 153.1 L412.35 152.5 L412.49 153.8 L412.36 152.5 L412.59 153.8 L412.42 151.9 L412.59 153.1 L412.60 153.1 L412.77 154.4 L412.52 151.3 L412.77 153.1 L412.79 153.1 L412.80 153.1 L412.76 152.5 L412.77 151.9 L412.90 152.5 L412.98 153.1 L413.14 154.4 L413.06 153.1 L413.10 153.1 L413.22 153.8 L413.04 151.9 L413.27 153.8 L413.34 153.8 L413.39 153.8 L413.32 152.5 L413.28 151.9 L413.30 151.9 L413.47 153.1 L413.55 153.8 L413.67 154.4 L413.75 154.4 L413.68 153.8 L413.65 153.1 L413.73 153.1 L413.73 152.5 L413.90 153.8 L413.86 153.8 L413.87 153.1 L413.78 151.9 L414.05 153.8 L413.85 151.9 L414.12 153.8 L414.15 153.8 L413.95 151.3 L414.15 153.1 L414.08 151.9 L414.19 152.5 L414.30 153.1 L414.29 152.5 L414.22 151.9 L414.43 153.1 L414.43 153.1 L414.45 153.1 L414.40 151.9 L414.52 152.5 L414.80 153.0 L414.48 152.8 L415.96 153.8 L414.84 152.9 L414.54 152.6 L415.11 152.9 L413.97 152.0 L415.12 152.8 L416.07 153.3 L414.23 152.0 L415.17 152.5 L415.58 152.7 L413.73 151.5 L416.28 153.0 L414.31 151.6 L414.90 151.9 L415.49 152.2 L415.02 151.9 L415.85 152.3 L415.41 151.9 L415.78 152.0 L415.46 151.7 L416.51 152.4 L414.09 150.7 L415.77 151.7 L415.32 151.3 L414.88 150.9 L414.99 151.0 L415.22 151.0 L416.14 151.5 L415.08 150.7 L415.68 151.0 L416.01 151.2 L414.98 150.4 L416.74 151.5 L417.31 151.7 L415.66 150.5 L416.46 151.1 L415.89 150.6 L416.37 150.8 L416.06 150.5 L417.10 151.0 L416.04 150.4 L416.65 150.6 L416.60 150.5 L415.81 149.9 L415.50 149.6 L416.69 150.3 L416.87 150.4 L416.21 149.9 L416.15 149.8 L417.08 150.1 L417.06 150.0 L417.12 150.0 L416.79 149.7 L416.27 149.4 L416.09 149.2 L415.82 148.9 L416.77 149.3 L417.83 149.7 L417.16 149.2 L416.91 149.0 L416.17 148.5 L416.64 148.7 L417.05 148.8 L416.98 148.6 L417.65 148.8 L417.11 148.4 L417.58 148.7 L417.19 148.3 L417.20 148.2 L418.04 148.5 L416.99 147.9 L417.25 148.0 L416.75 147.6 L417.55 147.8 L418.13 148.0 L417.97 147.8 L418.00 147.8 L418.22 147.8 L418.04 147.5 L418.16 147.5 L418.02 147.3 L417.27 146.9 L418.14 147.2 L418.42 147.2 L417.46 146.6 L418.13 146.8 L418.59 147.0 L417.85 146.5 L417.38 146.2 L418.18 146.4 L419.11 146.6 L417.68 146.1 L418.14 146.3 L417.82 146.0 L418.10 145.9 L418.48 145.9 L419.24 146.0 L417.99 145.6 L418.05 145.4 L418.00 145.2 L417.93 145.1 L417.73 144.8 L418.12 145.0 L418.59 145.0 L418.72 144.8 L419.42 144.9 L418.33 144.4 L418.36 144.4 L418.42 144.2 L419.01 144.3 L418.86 144.1 L419.44 144.1 L418.55 143.8 L419.57 144.0 L419.64 143.8 L419.00 143.5 L418.85 143.2 L419.30 143.4 L418.80 143.1 L420.32 143.4 L419.43 142.9 L419.85 142.9 L418.68 142.5 L418.46 142.3 L419.89 142.6 L419.84 142.4 L419.17 142.0 L419.28 142.1 L419.26 141.9 L419.83 141.9 L420.27 141.9 L418.92 141.3 L420.07 141.7 L419.35 141.3 L419.60 141.2 L419.86 141.1 L419.23 140.7 L421.02 141.3 L421.02 141.3 L420.48 141.0 L420.47 140.8 L419.56 140.4 L421.22 140.8 L420.21 140.4 L420.18 140.2 L420.98 140.3 L420.50 140.0 L419.96 139.7 L420.28 139.8 L420.24 139.6 L420.54 139.5 L420.87 139.5 L420.90 139.3 L421.34 139.5 L420.65 139.1 L421.24 139.1 L421.72 139.1 L420.10 138.4 L421.20 138.8 L420.24 138.3 L420.04 138.1 L421.85 138.5 L421.65 138.3 L421.30 138.2 L420.78 137.8 L421.95 138.0 L420.37 137.3 L421.24 137.5 L421.53 137.4 L422.03 137.4 L420.48 136.7 L420.38 136.5 L421.52 136.7 L421.68 136.6 L421.65 136.5 L421.10 136.1 L421.57 136.3 L420.77 135.8 L421.94 136.1 L422.26 136.0 L421.38 135.6 L420.78 135.3 L421.78 135.5 L421.79 135.4 L421.86 135.4 L422.67 135.6 L422.08 135.2 L423.00 135.6 L422.26 135.1 L421.50 134.7 L422.78 135.0 L422.15 134.6 L421.93 134.6 L422.41 134.6 L422.36 134.4 L421.48 133.9 L421.93 134.0 L423.04 134.4 L422.55 134.1 L422.85 134.1 L423.12 134.0 L423.60 134.1 L422.25 133.5 L422.26 133.4 L422.19 133.2 L422.42 133.2 L422.29 133.0 L422.79 133.2 L422.79 133.1 L423.22 133.1 L422.29 132.6 L422.64 132.6 L423.20 132.8 L423.44 132.7 L422.10 132.1 L422.82 132.2 L423.06 132.2 L422.20 131.8 L423.50 132.2 L423.97 132.3 L422.35 131.4 L422.53 131.4 L423.93 131.9 L424.08 131.9 L422.79 131.2 L423.00 131.1 L423.97 131.4 L423.47 131.2 L423.36 131.0 L424.56 131.4 L423.86 131.1 L422.78 130.4 L423.94 130.9 L423.05 130.4 L424.25 130.9 L424.43 130.9 L424.19 130.6 L424.50 130.6 L424.97 130.9 L424.44 130.5 L423.90 130.1 L423.56 129.8 L424.32 130.1 L423.64 129.7 L423.48 129.5 L424.05 129.7 L423.40 129.2 L423.70 129.3 L424.67 129.7 L424.19 129.4 L424.34 129.3 L424.54 129.3 L423.63 128.7 L424.70 129.2 L424.65 129.1 L424.68 129.0 L424.93 129.0 L423.83 128.3 L425.77 129.3 L424.69 128.6 L424.13 128.2 L425.01 128.5 L424.32 128.1 L425.04 128.4 L425.34 128.4 L424.39 127.8 L425.60 128.3 L425.27 128.0 L425.39 128.1 L425.47 128.0 L425.58 127.9 L425.95 128.0 L425.86 127.8 L425.66 127.7 L425.04 127.3 L425.64 127.5 L425.22 127.2 L424.82 126.9 L425.58 127.2 L425.14 126.9 L426.22 127.5 L425.68 127.1 L425.77 127.0 L426.19 127.2 L425.59 126.8 L425.72 126.8 L426.49 127.1 L425.25 126.2 L425.56 126.3 L425.93 126.6 L426.45 126.8 L426.23 126.5 L425.56 126.0 L425.73 126.0 L427.06 126.8 L426.41 126.3 L425.99 125.9 L426.10 125.9 L427.31 126.6 L427.08 126.4 L425.62 125.4 L426.27 125.7 L426.92 126.0 L426.46 125.6 L427.18 126.0 L427.54 126.2 L426.70 125.5 L426.90 125.5 L426.71 125.3 L427.25 125.6 L427.61 125.8 L427.37 125.5 L426.40 124.8 L427.38 125.3 L426.71 124.9 L427.94 125.5 L427.34 125.0 L427.69 125.1 L427.19 124.7 L427.18 124.7 L427.47 124.8 L427.28 124.6 L428.15 125.0 L426.82 124.0 L427.75 124.6 L427.15 124.1 L427.94 124.5 L426.64 123.6 L426.84 124.2 L427.78 124.1 L428.33 124.0 L427.22 124.5 L427.81 124.8 L427.59 125.2 L427.07 125.7 L428.45 125.5 L428.29 125.9 L427.85 126.3 L427.61 126.7 L428.15 127.0 L428.17 127.0 L427.88 127.4 L427.89 127.8 L427.85 128.2 L428.26 128.5 L428.59 128.4 L428.09 128.5 L428.08 128.9 L428.62 129.2 L428.33 129.7 L428.34 130.1 L428.33 130.1 L428.55 130.4 L428.48 130.9 L428.42 131.3 L428.99 131.6 L428.40 131.7 L428.73 132.0 L428.53 132.4 L428.90 132.8 L429.17 133.2 L428.54 133.2 L428.49 133.6 L429.29 133.9 L429.23 134.3 L428.98 134.8 L429.23 134.7 L428.88 135.2 L429.27 135.5 L429.26 135.9 L429.15 136.3 L429.59 136.3 L429.32 136.7 L428.91 137.2 L429.22 137.5 L429.61 137.8 L429.18 138.0 L429.02 138.0 L429.18 138.1 L429.62 138.2 L429.69 138.4 L429.68 138.5 L429.82 138.5 L429.64 138.7 L429.91 138.8 L429.93 139.0 L429.73 139.3 L429.92 139.2 L429.89 139.4 L429.52 139.7 L429.87 139.8 L429.75 140.0 L429.91 139.9 L429.92 140.1 L430.38 140.2 L430.27 140.4 L430.26 140.6 L430.29 140.6 L430.29 140.7 L430.27 140.9 L430.40 141.1 L430.26 141.3 L430.45 141.2 L430.19 141.4 L430.45 141.4 L430.62 141.4 L430.80 141.4 L430.75 141.6 L430.65 141.6 L430.41 141.9 L430.95 141.8 L430.54 142.1 L430.82 142.1 L430.96 142.0 L431.11 142.1 L430.79 142.3 L431.31 142.2 L431.09 142.5 L431.09 142.5 L431.03 142.5 L430.93 142.7 L431.23 142.7 L431.13 142.9 L431.45 142.9 L431.19 143.0 L431.13 143.2 L431.37 143.2 L431.27 143.4 L431.38 143.5 L431.47 143.5 L431.46 143.6 L431.54 143.7 L431.92 143.7 L431.91 143.9 L431.51 144.0 L432.02 144.0 L431.46 144.3 L432.04 144.2 L431.79 144.5 L431.70 144.5 L431.98 144.6 L431.66 144.8 L432.23 144.7 L431.81 145.1 L431.97 145.0 L432.08 145.1 L431.89 145.3 L432.04 145.4 L432.45 145.4 L431.91 145.6 L432.10 145.8 L432.23 145.6 L432.28 145.7 L432.16 145.9 L432.16 146.0 L432.31 145.8 L432.62 145.6 L432.48 145.8 L432.43 146.0 L432.72 145.8 L432.77 145.7 L432.65 146.0 L432.68 146.0 L432.70 146.1 L432.62 146.3 L433.06 145.8 L432.84 146.1 L432.93 146.1 L432.95 146.2 L432.98 146.3 L432.85 146.4 L432.97 146.4 L433.11 146.3 L433.14 146.4 L433.18 146.4 L433.22 146.4 L433.06 146.7 L433.56 146.2 L433.55 146.3 L433.17 146.9 L433.32 146.7 L433.36 146.8 L433.33 146.9 L433.81 146.4 L433.39 147.0 L433.77 146.6 L433.79 146.7 L433.55 147.0 L433.92 146.7 L433.72 147.0 L433.59 147.2 L433.94 146.9 L433.99 146.9 L433.85 147.2 L433.87 147.3 L433.95 147.2 L434.28 146.9 L433.87 147.5 L434.06 147.4 L434.46 147.0 L434.33 147.2 L434.40 147.2 L434.41 147.3 L434.31 147.5 L434.50 147.4 L434.22 147.7 L434.29 147.7 L434.49 147.6 L434.70 147.4 L434.60 147.7 L434.54 147.7 L434.48 147.9 L434.77 147.7 L434.74 147.8 L434.94 147.7 L434.87 147.7 L434.68 148.1 L434.67 148.2 L435.00 147.9 L435.03 148.2 L435.10 147.6 L435.20 147.6 L435.00 148.2 L435.04 148.2 L435.07 148.2 L435.20 148.2 L435.13 148.2 L435.23 148.2 L435.14 148.2 L435.30 148.2 L435.21 148.8 L435.26 148.2 L435.40 148.2 L435.66 148.2 L435.48 148.8 L435.56 148.8 L435.36 148.8 L435.55 148.8 L435.85 148.2 L435.85 148.2 L435.67 148.8 L435.83 148.8 L436.01 148.2 L435.84 148.8 L435.89 148.8 L436.02 148.8 L435.89 148.8 L436.06 148.8 L435.86 149.4 L436.29 148.8 L436.08 148.8 L436.07 148.8 L436.08 149.4 L436.32 148.8 L436.40 148.8 L436.17 149.4 L436.33 149.4 L436.53 148.8 L436.39 149.4 L436.34 149.4 L436.51 149.4 L436.70 148.8 L436.52 149.4 L436.90 148.8 L436.65 149.4 L436.67 149.4 L436.83 149.4 L436.81 149.4 L436.88 149.4 L437.02 149.4 L437.11 149.4 L437.04 149.4 L437.13 149.4 L436.90 150.0 L437.33 149.4 L436.96 150.0 L437.23 149.4 L437.35 149.4 L437.37 149.4 L437.49 149.4 L437.64 149.4 L437.29 150.0 L437.47 150.0 L437.61 149.4 L437.72 149.4 L437.67 150.0 L437.76 149.4 L437.48 150.0 L437.94 149.4 L437.88 150.0 L437.92 150.0 L437.74 150.0 L437.82 150.0 L437.92 150.0 L437.97 150.0 L437.95 150.0 L438.10 150.0 L437.99 150.7 L438.27 150.0 L438.08 150.7 L438.27 150.0 L438.05 150.7 L438.41 150.0 L438.36 150.7 L438.46 150.0 L438.28 150.7 L438.59 150.0 L438.33 150.7 L438.45 150.7 L438.43 150.7 L438.63 150.7 L438.55 150.7 L438.40 151.3 L438.73 150.7 L438.67 150.7 L438.78 150.7 L438.93 150.7 L438.89 150.7 L438.79 150.7 L438.91 150.7 L439.16 150.7 L438.94 151.3 L439.04 150.7 L438.94 151.3 L439.17 150.7 L438.94 151.3 L439.31 150.7 L439.11 151.3 L439.37 150.7 L439.28 151.3 L439.48 150.7 L439.26 151.3 L439.40 151.3 L439.28 151.3 L439.51 151.3 L439.74 150.7 L439.70 151.3 L439.65 151.3 L439.49 151.3 L439.49 151.9 L439.76 151.3 L439.76 151.3 L439.66 151.9 L439.98 151.3 L439.94 151.3 L439.87 151.9 L439.96 151.3 L440.01 151.3 L440.16 151.3 L440.09 151.9 L440.07 151.9 L440.28 151.3 L440.19 151.9 L440.04 151.9 L440.25 151.9 L440.28 151.9 L440.52 151.3 L440.46 151.9 L440.49 151.9 L440.60 151.9 L440.69 151.9 L440.78 151.9 L440.62 151.9 L440.55 151.9 L440.63 151.9 L440.67 151.9 L440.70 151.9 L440.90 151.9 L440.93 151.9 L440.93 151.9 L441.05 151.9 L440.97 151.9 L441.08 151.9 L440.92 152.5 L441.20 151.9 L441.09 152.5 L441.01 152.5 L441.34 151.9 L441.31 151.9 L441.39 151.9 L441.47 151.9 L441.37 152.5 L441.34 152.5 L441.53 152.5 L441.56 152.5 L441.52 152.5 L441.55 152.5 L441.79 152.3 L441.29 152.7 L441.69 152.5 L441.68 152.6 L441.86 152.6 L441.84 152.7 L441.96 152.6 L441.57 153.0 L442.21 152.6 L441.98 152.9 L441.89 153.1 L442.27 152.8 L441.97 153.1 L441.87 153.3 L442.10 153.2 L442.20 153.3 L442.21 153.2 L442.30 153.3 L442.20 153.5 L442.50 153.3 L442.34 153.5 L442.46 153.5 L442.55 153.5 L442.70 153.5 L442.43 153.8 L442.70 153.7 L442.41 153.9 L442.65 153.8 L442.70 153.9 L442.94 153.8 L443.01 153.9 L442.69 154.0 L442.82 154.0 L442.84 154.2 L442.76 154.4 L442.84 154.5 L443.05 154.6 L442.74 154.7 L442.79 154.9 L443.04 155.0 L443.36 155.1 L443.33 155.2 L443.12 155.3 L443.33 155.4 L443.31 155.6 L443.61 155.7 L443.34 155.9 L443.23 156.0 L443.62 156.0 L443.55 156.2 L443.55 156.2 L443.82 156.7 L443.67 157.1 L443.68 157.1 L443.86 157.6 L443.83 158.0 L443.71 158.5 L443.75 159.0 L443.75 159.0 L443.94 159.4 L444.02 159.9 L443.93 160.3 L444.06 160.8 L443.85 160.8 L443.88 161.2 L444.17 161.7 L444.39 162.1 L444.17 162.6 L444.30 162.6 L444.13 163.1 L444.20 163.5 L444.51 163.9 L444.55 164.4 L444.61 164.4 L444.46 164.4 L444.54 164.2 L444.42 163.9 L444.42 163.6 L444.78 163.4 L444.64 163.3 L444.64 163.1 L444.69 162.8 L444.86 162.6 L444.77 162.3 L444.73 162.3 L444.81 162.0 L444.88 161.7 L444.88 161.5 L445.01 161.2 L444.93 161.2 L444.98 160.9 L445.37 160.7 L445.15 160.4 L445.45 160.2 L445.05 160.1 L445.36 159.9 L445.30 159.6 L445.60 159.4 L445.33 159.1 L445.66 159.1 L445.36 158.8 L445.50 158.6 L445.38 158.3 L445.59 158.0 L445.57 158.0 L445.49 157.7 L445.97 157.5 L445.57 157.5 L445.68 158.0 L445.90 158.4 L445.82 158.4 L445.96 158.8 L445.92 159.3 L445.91 159.8 L445.95 160.2 L446.07 160.2 L446.08 160.6 L446.02 161.1 L446.25 161.5 L446.28 162.0 L446.19 162.0 L446.18 162.5 L446.36 162.9 L446.23 163.4 L446.41 163.8 L446.50 163.8 L446.44 164.3 L446.72 164.7 L446.82 165.1 L446.65 165.6 L446.33 165.6 L446.48 165.6 L446.80 165.0 L446.75 164.5 L446.62 163.9 L446.80 163.3 L446.59 163.3 L446.68 162.7 L446.87 162.1 L447.04 161.6 L446.99 161.0 L446.99 161.0 L446.95 160.4 L447.11 159.8 L447.27 159.3 L447.36 158.7 L447.25 158.7 L447.23 158.1 L447.20 158.1 L447.22 158.5 L447.42 158.9 L447.45 159.3 L447.50 159.3 L447.54 159.7 L447.23 160.2 L447.43 160.6 L447.70 160.9 L447.59 161.0 L447.60 161.4 L447.71 161.8 L447.89 162.2 L447.58 162.6 L447.98 162.6 L447.72 163.0 L447.89 163.4 L448.07 163.8 L448.02 164.2 L448.27 164.2 L448.01 164.6 L447.99 165.1 L448.23 165.4 L448.16 165.9 L448.47 165.8 L448.33 166.3 L448.50 166.7 L448.21 167.1 L448.43 167.5 L448.39 167.5 L448.37 167.5 L448.41 166.9 L448.62 166.4 L448.39 165.8 L448.74 165.2 L448.70 165.2 L448.80 164.6 L448.65 164.0 L448.91 163.5 L448.95 162.9 L448.87 162.9 L449.02 162.3 L448.83 161.7 L448.94 161.1 L449.20 160.6 L449.27 160.6 L448.80 160.0 L449.21 159.5 L448.95 159.3 L449.18 159.3 L449.13 159.2 L449.22 159.3 L449.21 159.2 L449.35 159.2 L449.43 159.1 L449.36 159.0 L449.48 159.0 L449.42 158.9 L449.62 158.9 L449.76 158.9 L449.63 158.7 L449.64 158.7 L449.33 158.4 L449.56 158.5 L449.64 158.4 L449.77 158.4 L449.55 158.3 L449.62 158.2 L449.89 158.3 L449.99 158.3 L450.18 158.3 L450.25 158.3 L450.14 158.2 L450.03 158.0 L450.27 158.0 L450.06 157.8 L450.24 157.9 L450.57 158.1 L450.56 157.9 L450.30 157.6 L450.57 157.7 L450.33 157.6 L450.34 157.5 L450.21 157.3 L450.65 157.5 L450.65 157.4 L450.78 157.5 L450.79 157.4 L450.73 156.9 L450.63 157.5 L450.59 157.5 L450.64 157.5 L450.73 157.5 L450.83 157.5 L450.87 157.5 L450.94 157.5 L451.05 157.5 L450.86 157.5 L450.98 157.5 L451.09 157.5 L451.02 157.5 L451.13 157.5 L451.31 156.9 L451.14 157.5 L451.34 157.5 L451.46 157.5 L451.37 157.5 L451.43 157.5 L451.51 157.5 L451.36 158.1 L451.54 157.5 L451.60 157.5 L451.62 157.5 L451.68 157.5 L451.68 157.5 L451.78 157.5 L451.64 158.1 L451.89 157.5 L451.84 157.5 L451.94 157.5 L452.01 157.5 L452.06 157.5 L452.00 157.5 L451.97 158.1 L452.00 158.1 L452.09 158.1 L452.24 157.5 L452.04 158.1 L452.10 158.1 L452.15 158.1 L452.39 158.1 L452.35 158.1 L452.34 158.1 L452.40 158.1 L452.45 158.1 L452.50 158.1 L452.63 158.1 L452.50 158.1 L452.53 158.1 L452.64 158.1 L452.75 158.1 L452.76 158.1 L452.69 158.1 L452.86 158.1 L452.84 158.1 L453.01 158.1 L452.97 158.1 L453.11 158.1 L453.15 158.1 L452.94 158.7 L453.14 158.1 L453.10 158.7 L453.36 158.1 L453.27 158.1 L453.32 158.1 L453.40 158.1 L453.39 158.1 L453.48 158.1 L453.34 158.7 L453.44 158.7 L453.60 158.1 L453.51 158.7 L453.57 158.7 L453.46 158.7 L453.56 158.7 L453.80 158.1 L453.82 158.1 L453.71 158.7 L453.91 158.1 L453.80 158.7 L453.96 158.7 L453.91 158.7 L453.95 158.7 L453.97 158.7 L454.11 158.7 L454.10 158.7 L454.04 158.7 L454.22 158.7 L454.16 158.7 L454.11 159.3 L454.14 159.3 L454.22 159.3 L454.39 158.7 L454.39 158.7 L454.47 158.7 L454.54 158.7 L454.56 158.7 L454.72 158.7 L454.55 158.7 L454.67 158.7 L454.60 159.3 L454.66 159.3 L454.68 159.3 L454.87 158.7 L454.87 158.7 L454.96 158.7 L455.08 158.7 L455.06 158.7 L455.07 158.7 L454.95 159.3 L455.26 158.7 L455.11 159.3 L455.22 159.3 L455.24 159.3 L455.28 159.3 L455.26 159.3 L455.36 159.3 L455.24 159.3 L455.38 159.3 L455.49 159.3 L455.55 159.3 L455.57 159.3 L455.46 159.3 L455.55 159.3 L455.53 159.3 L455.81 159.3 L455.79 159.3 L455.79 159.3 L455.82 159.3 L455.79 159.3 L455.81 159.3 L455.98 159.3 L456.16 159.3 L456.08 159.3 L456.15 159.3 L456.05 159.3 L455.99 160.0 L456.17 159.3 L456.04 160.0 L456.22 159.3 L456.20 160.0 L456.32 160.0 L456.33 160.0 L456.48 159.3 L456.48 159.3 L456.37 160.0 L456.47 160.0 L456.72 159.3 L456.51 160.0 L456.54 160.0 L456.72 160.0 L456.72 160.0 L456.85 160.0 L456.77 160.0 L456.84 160.0 L456.93 160.0 L456.95 160.0 L457.05 160.0 L456.94 160.0 L457.11 160.0 L457.07 160.0 L457.13 160.0 L457.27 160.0 L457.23 160.0 L457.23 160.0 L457.18 160.6 L457.33 160.0 L457.36 160.0 L457.41 160.0 L457.49 160.0 L457.46 160.0 L457.46 160.0 L457.51 160.0 L457.63 160.0 L457.57 160.0 L457.66 160.0 L457.68 160.0 L457.70 160.6 L457.84 160.0 L457.77 160.0 L457.94 160.0 L457.85 160.6 L458.03 160.0 L458.00 160.0 L458.01 160.0 L458.00 160.6 L458.00 160.6 L458.16 160.0 L458.20 160.0 L458.26 160.0 L458.22 160.6 L458.25 160.6 L458.29 160.6 L458.45 160.0 L458.45 160.0 L458.40 160.6 L458.45 160.6 L458.65 160.0 L458.64 160.0 L458.70 160.0 L458.66 160.6 L458.69 160.6 L458.73 160.6 L458.78 160.6 L458.76 160.6 L458.86 160.6 L458.98 160.0 L458.94 160.6 L458.96 160.6 L459.08 160.0 L459.10 160.0 L459.04 160.6 L459.06 160.6 L459.23 160.6 L459.27 160.0 L459.28 160.6 L459.34 160.6 L459.37 160.6 L459.36 160.6 L459.50 160.0 L459.55 160.0 L459.40 161.2 L459.59 160.6 L459.54 160.6 L459.70 160.0 L459.60 160.6 L459.78 160.6 L459.80 160.6 L459.88 160.6 L459.77 160.6 L459.91 160.6 L459.95 160.6 L459.91 160.6 L459.92 161.2 L459.98 160.6 L460.04 160.6 L460.06 160.6 L460.06 161.2 L460.21 160.6 L460.25 160.6 L460.15 161.2 L460.22 161.2 L460.42 160.6 L460.36 161.2 L460.38 160.6 L460.45 160.6 L460.56 160.6 L460.63 160.6 L460.63 160.6 L460.60 160.6 L460.56 161.2 L460.78 160.6 L460.70 161.2 L460.79 161.2 L460.76 161.2 L460.75 161.2 L460.92 160.6 L460.94 161.2 L461.09 160.6 L461.04 160.6 L460.97 161.2 L461.00 161.2 L461.14 161.2 L461.20 161.2 L461.18 161.2 L461.23 161.2 L461.20 161.2 L461.40 160.6 L461.49 160.6 L461.44 160.6 L461.52 160.6 L461.49 161.2 L461.55 161.2 L461.68 160.6 L461.60 161.2 L461.67 161.2 L461.69 161.2 L461.78 161.2 L461.82 161.2 L461.82 161.2 L461.78 161.2 L461.96 161.2 L461.98 161.2 L462.00 161.2 L462.01 161.2 L461.92 161.2 L462.07 161.2 L462.08 161.2 L462.15 161.2 L462.26 161.2 L462.22 161.2 L462.25 161.2 L462.36 161.2 L462.22 161.8 L462.38 161.2 L462.33 161.8 L462.33 161.8 L462.37 161.8 L462.68 161.2 L462.64 161.2 L462.70 161.2 L462.68 161.2 L462.72 161.2 L462.85 161.2 L462.72 161.8 L462.71 161.8 L462.90 161.2 L462.85 161.8 L462.89 161.8 L462.95 161.8 L463.09 161.2 L462.92 161.8 L462.97 161.8 L463.18 161.2 L463.23 161.2 L463.29 161.2 L463.21 161.8 L463.30 161.8 L463.32 161.8 L463.43 161.8 L463.49 161.2 L463.52 161.2 L463.54 161.8 L463.54 161.8 L463.62 161.8 L463.55 161.8 L463.60 161.8 L463.64 161.8 L463.73 161.8 L463.67 162.4 L463.67 162.4 L463.88 161.8 L463.97 161.8 L463.90 161.8 L463.96 161.8 L463.94 161.8 L464.08 161.8 L464.17 161.8 L464.16 161.8 L464.08 162.4 L464.21 161.8 L464.20 161.8 L464.34 161.8 L464.41 161.8 L464.46 161.8 L464.53 161.8 L464.50 161.8 L464.44 162.4 L464.55 161.8 L464.66 161.8 L464.60 161.8 L464.63 162.4 L464.64 162.4 L464.80 161.8 L464.80 162.4 L464.78 162.4 L464.78 162.4 L464.99 161.8 L464.97 161.8 L465.13 161.8 L465.06 161.8 L465.03 162.4 L464.98 162.4 L465.17 162.4 L465.23 162.4 L465.27 161.8 L465.35 161.8 L465.36 161.8 L465.31 162.4 L465.53 161.8 L465.41 162.4 L465.50 162.4 L465.57 162.4 L465.53 162.4 L465.65 162.4 L465.67 162.4 L465.64 162.4 L465.75 161.8 L465.80 161.8 L465.80 162.4 L465.87 162.4 L465.74 162.4 L465.86 162.4 L465.97 162.4 L465.96 162.4 L465.96 162.4 L465.96 162.4 L465.94 163.1 L466.15 162.4 L466.07 163.1 L466.22 162.4 L466.20 162.4 L466.30 162.4 L466.36 162.4 L466.24 163.1 L466.29 163.1 L466.38 162.4 L466.40 163.1 L466.49 162.4 L466.45 163.1 L466.71 162.4 L466.50 163.1 L466.75 162.4 L466.60 163.1 L466.64 163.1 L466.88 162.4 L466.84 162.4 L466.85 163.1 L466.85 163.1 L467.06 162.4 L467.01 163.1 L466.96 163.1 L467.00 163.1 L467.06 163.1 L467.18 163.1 L467.23 163.1 L467.24 163.1 L467.14 163.1 L467.36 162.4 L467.33 163.1 L467.42 163.1 L467.41 163.1 L467.43 163.1 L467.54 163.1 L467.55 163.1 L467.63 163.1 L467.55 163.1 L467.67 163.1 L467.70 163.1 L467.75 163.1 L467.69 163.7 L467.69 163.7 L467.92 163.1 L467.95 163.1 L468.04 163.1 L468.02 163.1 L468.01 163.1 L468.10 163.1 L468.08 163.1 L468.18 163.1 L468.21 163.1 L468.31 163.1 L468.21 163.1 L468.36 163.1 L468.38 163.1 L468.36 163.1 L468.49 163.1 L468.39 163.7 L468.49 163.1 L468.54 163.1 L468.69 163.1 L468.69 163.1 L468.65 163.1 L468.72 163.1 L468.79 163.1 L468.81 163.1 L468.86 163.1 L468.86 163.1 L468.87 163.7 L469.01 163.1 L469.05 163.1 L469.01 163.7 L469.08 163.1 L469.11 163.7 L469.15 163.7 L469.31 163.1 L469.10 163.7 L469.27 163.7 L469.30 163.7 L469.43 163.1 L469.42 163.7 L469.42 163.7 L469.52 163.1 L469.52 163.7 L469.65 163.1 L469.49 163.7 L469.59 163.7 L469.62 163.7 L469.69 163.7 L469.80 163.7 L469.80 163.7 L469.91 163.1 L469.92 163.7 L469.87 163.7 L469.97 163.7 L470.10 163.1 L470.08 163.7 L470.08 163.7 L470.30 163.1 L470.24 163.7 L470.46 163.7 L470.35 163.7 L470.45 163.7 L470.55 164.3 L470.62 163.7 L470.70 163.7 L470.79 163.7 L470.91 163.7 L470.96 163.7 L471.04 163.7 L471.15 163.7 L471.26 163.7 L471.14 164.3 L471.28 164.3 L471.42 163.7 L471.55 163.7 L471.53 164.3 L471.54 164.3 L471.65 164.3 L471.81 164.3 L471.88 163.7 L471.93 164.3 L472.05 164.3 L472.08 164.3 L472.17 164.3 L472.24 164.3 L472.28 164.3 L472.35 164.3 L472.48 164.3 L472.51 164.3 L472.58 164.3 L472.66 164.3 L472.87 163.7 L472.85 164.3 L472.75 164.9 L472.96 164.9 L473.07 164.3 L473.14 164.3 L473.22 164.3 L473.24 164.3 L473.34 164.9 L473.36 164.9 L473.47 164.9 L473.65 164.3 L473.55 164.9 L473.76 164.3 L473.77 164.9 L473.74 164.9 L473.95 164.9 L474.09 164.3 L474.05 164.9 L474.18 164.9 L474.26 164.3 L474.29 164.9 L474.40 164.9 L474.50 164.9 L474.55 164.9 L474.61 164.9 L474.78 164.3 L474.79 164.9 L474.89 164.3 L474.89 164.9 L475.07 164.9 L474.98 164.9 L475.03 164.9 L475.24 164.9 L475.18 164.9 L475.23 165.5 L475.61 164.3 L475.45 164.9 L475.58 164.9 L475.62 164.9 L475.57 165.5 L475.76 164.9 L475.73 165.5 L475.90 164.9 L475.94 165.5 L476.04 164.9 L476.15 164.9 L476.29 164.9 L476.20 165.5 L476.37 165.5 L476.43 164.9 L476.54 164.9 L476.57 165.5 L476.59 165.5 L476.78 164.9 L476.73 165.5 L476.85 165.5 L476.97 165.5 L476.91 166.2 L477.09 165.5 L477.21 165.5 L477.22 165.5 L477.21 166.2 L477.29 166.2 L477.39 165.5 L477.57 165.5 L477.63 165.5 L477.66 165.5 L477.80 165.5 L477.88 165.5 L477.86 166.2 L478.03 165.5 L478.01 166.2 L478.17 165.5 L478.20 165.5 L478.35 165.5 L478.45 165.5 L478.43 165.5 L478.52 165.5 L478.58 166.2 L478.65 165.5 L478.80 165.5 L478.75 166.2 L478.88 166.2 L478.98 166.2 L478.98 166.2 L479.17 165.5 L479.23 166.2 L479.20 166.2 L479.26 166.2 L479.38 166.2 L479.51 166.2 L479.54 166.2 L479.68 165.5 L479.76 166.2 L479.73 166.2 L479.86 166.2 L479.88 166.8 L480.11 165.5 L480.04 166.2 L480.06 166.2 L480.19 166.2 L480.18 166.2 L480.32 166.2 L480.44 166.2 L480.38 166.8 L480.60 166.2 L480.68 166.2 L480.69 166.2 L480.97 165.5 L480.75 166.8 L480.89 166.8 L481.00 166.2 L481.08 166.2 L481.28 166.2 L481.31 166.2 L481.24 166.8 L481.39 166.8 L481.38 166.8 L481.53 166.8 L481.58 166.8 L481.74 166.2 L481.72 166.8 L481.78 166.8 L481.82 166.8 L481.99 166.8 L482.07 166.2 L482.09 166.8 L482.28 166.2 L482.18 166.8 L482.34 166.8 L482.44 166.8 L482.42 166.8 L482.50 167.4 L482.66 166.8 L482.61 167.4 L482.79 166.8 L482.77 167.4 L482.94 166.8 L482.97 166.8 L482.96 167.4 L483.19 166.8 L483.21 166.8 L483.31 166.8 L483.33 167.4 L483.45 166.8 L483.62 166.8 L483.61 166.8 L483.64 167.4 L483.80 166.8 L483.77 167.4 L483.97 166.8 L483.91 167.4 L484.02 167.4 L484.13 167.4 L484.20 167.4 L484.24 167.4 L484.41 167.4 L484.41 167.4 L484.47 167.4 L484.62 167.4 L484.64 167.4 L484.85 166.8 L484.82 167.4 L484.96 166.8 L485.05 166.8 L485.04 167.4 L484.90 168.0 L485.06 167.4 L485.18 167.4 L485.22 167.4 L485.30 168.0 L485.51 166.8 L485.55 166.8 L485.60 167.4 L485.64 167.4 L485.79 166.8 L485.82 167.4 L485.81 167.4 L485.91 168.0 L486.00 167.4 L486.06 167.4 L486.17 167.4 L486.34 166.8 L486.29 168.0 L486.51 166.8 L486.42 167.4 L486.53 168.0 L486.57 168.0 L486.71 167.4 L486.77 168.0 L486.77 168.0 L486.87 168.0 L487.08 167.4 L487.08 167.4 L487.14 168.0 L487.21 167.4 L487.24 168.0 L487.37 168.0 L487.39 168.0 L487.50 168.0 L487.59 168.0 L487.69 167.4 L487.73 168.0 L487.83 167.4 L487.80 168.0 L487.94 168.0 L488.04 167.4 L488.11 168.0 L488.28 167.4 L488.24 168.0 L488.28 168.6 L488.39 168.0 L488.43 168.0 L488.53 168.0 L488.59 168.0 L488.66 168.0 L488.81 168.0 L488.83 168.0 L489.04 167.4 L489.04 168.0 L489.10 168.0 L489.17 168.0 L489.26 168.0 L489.31 168.0 L489.49 167.4 L489.46 168.0 L489.60 168.0 L489.52 168.6 L489.72 168.0 L489.81 168.0 L489.75 168.6 L489.96 168.0 L489.98 168.0 L490.01 168.0 L490.08 168.0 L490.20 168.0 L490.16 168.6 L490.31 168.0 L490.36 168.6 L490.40 168.0 L490.56 168.0 L490.60 168.0 L490.54 168.6 L490.76 168.6 L490.84 168.0 L490.86 168.6 L491.02 168.0 L491.07 168.0 L491.10 168.6 L491.25 168.0 L491.18 168.6 L491.31 168.6 L491.37 168.6 L491.48 168.6 L491.64 168.0 L491.59 168.6 L491.76 168.0 L491.75 168.6 L491.91 168.0 L491.89 168.6 L492.01 168.6 L492.11 168.0 L492.25 168.0 L492.17 168.6 L492.30 168.6 L492.36 168.6 L492.45 168.6 L492.59 168.6 L492.60 168.6 L492.74 168.0 L492.81 168.6 L492.84 168.6 L492.86 169.3 L492.98 168.6 L493.06 168.6 L493.18 168.6 L493.15 169.3 L493.31 168.6 L493.41 168.6 L493.37 168.6 L493.56 168.6 L493.54 169.3 L493.63 168.6 L493.68 169.3 L493.80 168.6 L493.75 169.9 L493.98 169.3 L493.99 168.6 L494.18 168.6 L494.19 169.3 L494.31 168.6 L494.37 168.6 L494.42 168.6 L494.44 169.3 L494.61 168.6 L494.61 168.6 L494.76 168.6 L494.82 168.6 L494.87 168.6 L494.87 169.3 L495.04 168.6 L495.13 168.6 L495.23 168.6 L495.15 169.3 L495.41 168.6 L495.33 169.3 L495.48 168.6 L495.61 168.6 L495.64 168.6 L495.59 169.3 L495.70 168.6 L495.80 169.3 L495.80 169.3 L495.99 168.6 L496.00 169.3 L496.03 169.3 L496.20 168.6 L496.24 168.6 L496.28 169.3 L496.36 169.9 L496.36 169.9 L496.47 169.9 L496.62 168.6 L496.62 169.3 L496.78 169.3 L496.78 169.3 L496.88 169.3 L497.05 168.6 L496.98 169.3 L497.18 168.6 L497.13 169.9 L497.16 169.9 L497.38 169.3 L497.40 169.3 L497.48 169.3 L497.59 169.3 L497.58 169.3 L497.77 168.6 L497.83 169.3 L497.82 169.3 L497.95 169.3 L498.02 169.3 L498.12 168.6 L498.19 169.3 L498.21 169.3 L498.29 169.9 L498.37 169.9 L498.42 169.9 L498.55 169.3 L498.59 169.3 L498.66 169.9 L498.82 169.3 L498.84 168.6 L498.90 169.9 L498.99 169.3 L499.03 169.3 L499.16 169.3 L499.26 168.6 L499.20 170.5 L499.32 170.5 L499.41 169.3 L499.50 169.9 L499.60 169.3 L499.63 169.3 L499.73 169.9 L499.77 169.9 L499.90 169.3 L499.98 169.9 L499.95 169.9 L500.19 168.6 L500.16 169.9 L500.22 169.9 L500.38 169.3 L500.40 169.3 L500.47 169.9 L500.61 169.3 L500.59 169.9 L500.78 169.3 L500.79 169.9 L500.81 169.9 L500.94 169.9 L500.99 169.9 L501.10 169.3 L501.20 169.9 L501.23 169.3 L501.32 169.9 L501.40 169.9 L501.43 169.9 L501.52 169.9 L501.58 169.9 L501.70 169.3 L501.83 169.3 L501.82 169.3 L501.94 169.3 L502.03 169.3 L501.98 170.5 L502.12 169.9 L502.22 169.3 L502.28 169.9 L502.33 170.5 L502.45 169.3 L502.51 169.9 L502.54 170.5 L502.64 169.9 L502.78 169.9 L502.76 169.9 L502.82 170.5 L503.00 169.9 L502.98 169.9 L503.02 169.3 L503.12 169.9 L503.19 169.9 L503.25 169.9 L503.37 169.9 L503.39 169.9 L503.46 169.9 L503.62 169.3 L503.61 169.9 L503.71 169.9 L503.83 169.3 L503.86 169.3 L503.94 169.9 L503.99 169.9 L504.08 169.9 L504.20 169.9 L504.17 170.5 L504.32 169.9 L504.41 169.9 L504.48 169.3 L504.55 169.9 L504.61 169.9 L504.69 169.9 L504.80 169.9 L504.82 169.9 L504.91 169.9 L505.00 169.9 L504.99 170.5 L505.17 169.9 L505.19 169.9 L505.29 169.9 L505.39 169.9 L505.42 169.9 L505.52 169.9 L505.60 169.9 L505.63 169.9 L505.79 169.3 L505.79 169.9 L505.88 169.9 L505.98 170.5 L506.01 169.9 L506.12 169.9 L506.22 169.9 L506.26 169.9 L506.35 170.5 L506.39 169.9 L506.48 169.9 L506.60 169.9 L506.59 169.9 L506.71 170.5 L506.79 170.5 L506.81 170.5 L506.96 169.9 L506.97 170.5 L507.09 169.9 L507.19 170.5 L507.20 169.9 L507.31 170.5 L507.40 169.9 L507.41 170.5 L507.60 169.3 L507.58 170.5 L507.67 170.5 L507.79 170.5 L507.77 170.5 L507.90 170.5 L508.03 169.9 L508.02 170.5 L508.17 169.9 L508.20 169.9 L508.27 170.5 L508.42 169.9 L508.42 169.9 L508.52 169.9 L508.60 169.9 L508.65 169.9 L508.78 169.9 L508.80 169.9 L508.89 169.9 L509.00 169.9 L508.97 170.5 L509.11 170.5 L509.18 170.5 L509.25 169.9 L509.33 170.5 L509.40 169.9 L509.47 170.5 L509.60 170.5 L509.59 170.5 L509.75 169.9 L509.80 170.5 L509.83 170.5 L509.93 170.5 L509.99 170.5 L510.09 169.9 L510.23 169.9 L510.19 170.5 L510.35 169.9 L510.40 170.5 L510.43 170.5 L510.56 170.5 L510.60 169.9 L510.71 169.9 L510.80 170.5 L510.78 170.5 L510.92 170.5 L511.01 169.9 L511.03 170.5 L511.15 170.5 L511.18 170.5 L511.25 169.9 L511.28 169.9 L511.40 170.5 L511.40 170.5 L511.51 170.5 L511.60 169.9 L511.64 170.5 L511.75 170.5 L511.80 170.5 L511.88 170.5 L512.00 169.9 L512.00 170.5 L512.12 170.5 L512.19 170.5 L512.23 171.1 L512.37 169.9 L512.40 169.9 L512.48 170.5 L512.60 169.9 L512.60 169.9 L512.71 170.5 L512.80 169.9 L512.84 170.5 L512.97 169.9 L513.00 169.9 L513.08 169.9 L513.20 169.9 L513.20 170.5 L513.32 170.5 L513.41 169.9 L513.44 169.9 L513.56 170.5 L513.60 169.9 L513.67 171.1 L513.79 170.5 L513.80 170.5 L513.93 169.9 L514.01 169.9 L514.04 169.9 L514.16 169.9 L514.20 169.9 L514.27 171.1 L514.40 170.5 L514.40 170.5 L514.52 169.9 L514.60 170.5 L514.64 170.5 L514.76 170.5 L514.80 170.5 L514.87 171.1 L515.01 169.9 L515.00 170.5 L515.13 169.9 L515.20 170.5 L515.24 170.5 L515.35 171.1 L515.40 170.5 L515.49 169.9 L515.60 169.9 L515.59 171.1 L515.73 169.9 L515.80 170.5 L515.84 169.9 L515.96 170.5 L516.00 170.5 L516.08 169.9 L516.20 169.9 L516.20 170.5 L516.31 171.1 L516.40 170.5 L516.44 169.9 L516.56 170.5 L516.60 169.9 L516.68 170.5 L516.80 169.9 L516.80 170.5 L516.91 171.1 L517.00 169.9 L517.03 171.1 L517.16 170.5 L517.20 170.5 L517.28 170.5 L517.40 170.5 L517.40 170.5 L517.51 170.5 L517.60 170.5 L517.64 170.5 L517.75 171.1 L517.80 170.5 L517.88 170.5 L518.00 170.5 L518.01 169.9 L518.11 171.1 L518.20 169.9 L518.24 170.5 L518.36 170.5 L518.41 169.9 L518.48 170.5 L518.60 170.5 L518.60 170.5 L518.72 170.5 L518.80 170.5 L518.85 169.9 L518.96 170.5 L519.00 169.9 L519.00 170.5 L519.08 169.9 L519.20 170.5 L519.20 169.9 L519.32 170.5 L519.41 171.1 L519.44 170.5 L519.56 170.5 L519.60 170.5 L519.68 170.5 L519.81 171.1 L519.80 170.5 L519.92 170.5 L520.00 170.5 L520.05 171.1 L520.16 170.5 L520.20 170.5 L520.30 171.7 L520.39 169.9 L520.40 170.5 L520.52 170.5 L520.60 169.9 L520.64 169.9 L520.76 170.5 L520.80 170.5 L520.88 170.5 L521.00 169.9 L521.00 170.5 L521.12 170.5 L521.20 169.9 L521.24 169.9 L521.36 170.5 L521.39 169.9 L521.48 170.5 L521.60 169.9 L521.60 170.5 L521.72 170.5 L521.80 170.5 L521.84 170.5 L521.95 169.9 L522.00 170.5 L522.08 170.5 L522.20 170.5 L522.20 170.5 L522.32 170.5 L522.41 171.1 L522.44 170.5 L522.57 171.1 L522.60 169.9 L522.68 170.5 L522.80 170.5 L522.80 170.5 L522.92 170.5 L523.00 170.5 L523.05 171.1 L523.15 169.9 L523.20 169.9 L523.28 170.5 L523.41 171.1 L523.40 169.9 L523.52 170.5 L523.61 171.1 L523.64 170.5 L523.77 171.1 L523.79 169.9 L523.88 169.9 L523.99 169.9 L524.00 169.9 L524.12 170.5 L524.20 169.9 L524.24 170.5 L524.36 170.5 L524.40 169.9 L524.48 170.5 L524.60 169.9 L524.60 169.9 L524.72 170.5 L524.81 171.1 L524.84 170.5 L524.96 169.9 L525.00 170.5 L525.08 170.5 L525.20 170.5 L525.20 170.5 L525.31 169.3 L525.40 170.5 L525.44 170.5 L525.56 170.5 L525.60 169.9 L525.67 169.9 L525.80 170.5 L525.81 171.1 L525.92 170.5 L526.00 169.9 L526.04 170.5 L526.16 170.5 L526.19 169.9 L526.28 170.5 L526.41 170.5 L526.41 171.1 L526.52 170.5 L526.61 170.5 L526.63 169.9 L526.76 169.9 L526.80 170.5 L526.88 170.5 L526.89 169.9 L526.99 169.9 L526.99 169.9 L527.13 170.5 L527.20 169.9 L527.24 170.5 L527.37 170.5 L527.40 170.5 L527.47 169.9 L527.60 170.5 L527.59 169.9 L527.72 170.5 L527.81 170.5 L527.85 170.5 L527.97 170.5 L528.01 170.5 L528.09 170.5 L528.20 170.5 L528.21 170.5 L528.32 170.5 L528.40 170.5 L528.44 170.5 L528.57 170.5 L528.61 170.5 L528.68 169.9 L528.79 169.9 L528.80 170.5 L528.93 171.1 L529.01 170.5 L529.02 169.3 L529.17 170.5 L529.19 169.9 L529.28 170.5 L529.39 169.9 L529.38 169.3 L529.53 170.5 L529.61 170.5 L529.65 170.5 L529.76 170.5 L529.79 169.9 L529.90 171.1 L529.98 169.3 L530.00 169.9 L530.12 169.9 L530.19 169.9 L530.22 169.3 L530.35 169.9 L530.40 169.9 L530.49 170.5 L530.59 169.9 L530.60 170.5 L530.72 170.5 L530.81 170.5 L530.84 169.9 L530.97 170.5 L530.99 169.9 L531.08 170.5 L531.19 169.9 L531.19 169.9 L531.32 169.9 L531.39 169.9 L531.43 169.9 L531.56 170.5 L531.61 170.5 L531.68 169.9 L531.81 170.5 L531.79 169.9 L531.92 169.9 L532.01 170.5 L532.05 170.5 L532.16 169.9 L532.22 171.1 L532.28 170.5 L532.39 169.9 L532.40 170.5 L532.51 169.9 L532.61 170.5 L532.64 169.9 L532.76 169.9 L532.80 170.5 L532.88 169.9 L532.99 169.3 L532.98 169.3 L533.12 169.9 L533.20 170.5 L533.24 170.5 L533.36 169.9 L533.39 169.9 L533.48 169.9 L533.59 169.9 L533.60 169.9 L533.71 169.9 L533.80 169.9 L533.83 169.3 L533.97 170.5 L534.00 169.9 L534.09 170.5 L534.20 169.9 L534.20 169.9 L534.32 169.9 L534.39 169.9 L534.44 169.9 L534.56 169.9 L534.60 170.5 L534.67 169.9 L534.80 170.5 L534.80 170.5 L534.91 169.9 L535.00 169.9 L535.01 170.5 L535.05 170.5 L535.16 169.9 L535.22 170.5 L535.27 169.9 L535.42 170.5 L535.39 169.9 L535.51 169.9 L535.61 170.5 L535.67 170.5 L535.75 169.9 L535.78 169.9 L535.88 169.9 L535.99 169.9 L536.02 170.5 L536.12 169.9 L536.19 169.9 L536.25 170.5 L536.37 170.5 L536.38 169.9 L536.51 171.1 L536.62 170.5 L536.60 169.9 L536.72 169.9 L536.82 170.5 L536.84 169.9 L536.96 169.9 L536.98 169.3 L537.07 169.9 L537.18 169.3 L537.20 169.9 L537.33 169.9 L537.36 169.3 L537.44 169.9 L537.54 169.3 L537.61 169.9 L537.68 169.9 L537.79 169.9 L537.80 169.9 L537.92 169.9 L538.00 169.9 L538.06 170.5 L538.16 169.9 L538.18 169.9 L538.28 169.9 L538.40 169.9 L538.40 169.9 L538.52 169.9 L538.61 170.5 L538.66 170.5 L538.78 170.5 L538.79 169.9 L538.87 169.9 L539.01 169.9 L539.00 169.9 L539.15 170.5 L539.21 169.9 L539.23 169.9 L539.34 169.3 L539.40 169.9 L539.50 170.5 L539.59 169.9 L539.60 169.9 L539.72 169.9 L539.79 169.9 L539.85 170.5 L539.98 170.5 L540.00 169.9 L540.06 169.3 L540.19 169.9 L540.20 169.9 L540.32 169.9 L540.40 169.9 L540.44 169.9 L540.55 169.9 L540.60 169.9 L540.69 169.9 L540.79 169.9 L540.81 169.9 L540.93 169.9 L541.01 169.9 L541.04 169.9 L541.14 169.3 L541.21 169.9 L541.30 170.5 L541.42 170.5 L541.41 169.9 L541.54 170.5 L541.60 169.9 L541.65 169.9 L541.75 169.9 L541.79 169.9 L541.89 169.9 L542.00 169.9 L541.99 169.3 L542.13 169.9 L542.20 169.9 L542.26 170.5 L542.34 169.3 L542.39 169.9 L542.47 169.9 L542.50 169.9 L542.61 169.9 L542.58 169.3 L542.74 169.9 L542.79 169.9 L542.86 169.9 L542.99 170.5 L543.04 170.5 L543.06 169.3 L543.19 169.9 L543.21 169.9 L543.34 169.9 L543.39 169.9 L543.46 169.9 L543.56 169.9 L543.59 169.3 L543.67 169.3 L543.82 169.9 L543.80 169.9 L543.91 169.9 L544.04 170.5 L544.04 169.9 L544.14 169.3 L544.20 169.9 L544.28 169.9 L544.39 169.9 L544.41 169.9 L544.47 169.3 L544.60 169.9 L544.62 169.3 L544.77 169.9 L544.83 169.9 L544.83 168.6 L545.01 169.9 L545.01 169.9 L545.12 169.9 L545.18 169.3 L545.26 169.9 L545.38 169.9 L545.38 169.3 L545.48 169.9 L545.63 169.9 L545.62 169.9 L545.74 169.9 L545.80 169.3 L545.86 169.9 L545.99 169.9 L546.04 169.9 L546.09 169.9 L546.21 169.9 L546.21 169.9 L546.32 169.3 L546.40 169.3 L546.44 169.3 L546.55 169.3 L546.60 169.3 L546.68 169.3 L546.81 169.9 L546.80 169.3 L546.93 169.9 L547.01 169.9 L547.05 169.9 L547.21 170.5 L547.22 169.9 L547.25 169.3 L547.37 169.3 L547.42 169.9 L547.54 169.9 L547.59 169.3 L547.64 169.3 L547.76 169.3 L547.80 169.3 L547.90 169.9 L547.98 169.3 L547.99 169.3 L548.13 169.9 L548.19 169.3 L548.24 169.3 L548.37 169.3 L548.30 168.0 L548.49 169.9 L548.60 169.3 L548.64 169.9 L548.77 169.9 L548.77 168.6 L548.84 169.3 L548.95 169.3 L549.00 169.3 L549.06 169.3 L549.18 169.3 L549.16 168.6 L549.31 169.3 L549.41 169.3 L549.45 169.3 L549.61 169.9 L549.63 169.9 L549.66 169.3 L549.80 169.3 L549.83 169.9 L549.93 169.3 L550.00 169.3 L549.98 169.3 L550.04 169.3 L550.11 168.6 L550.23 169.9 L550.29 169.3 L550.41 169.3 L550.40 169.3 L550.49 168.6 L550.60 169.3 L550.65 169.3 L550.79 169.9 L550.79 169.3 L550.85 168.6 L551.01 169.3 L551.02 169.3 L551.12 169.3 L551.21 169.3 L551.28 169.9 L551.35 169.3 L551.41 169.3 L551.49 169.3 L551.61 169.3 L551.61 169.3 L551.74 169.3 L551.80 169.3 L551.81 168.6 L551.97 169.3 L552.01 169.3 L552.08 169.3 L552.19 169.3 L552.21 169.3 L552.29 168.6 L552.43 169.3 L552.43 169.3 L552.55 169.3 L552.59 169.3 L552.65 168.6 L552.81 169.3 L552.80 169.3 L552.94 169.3 L553.00 169.3 L553.05 169.3 L553.26 170.5 L553.19 169.3 L553.28 169.3 L553.39 168.6 L553.39 169.3 L553.52 169.3 L553.57 168.6 L553.64 169.3 L553.77 169.3 L553.82 169.3 L553.89 169.3 L554.04 169.9 L554.02 169.3 L554.11 168.6 L554.20 169.3 L554.26 169.3 L554.40 169.3 L554.43 169.3 L554.49 169.3 L554.63 169.3 L554.61 169.3 L554.73 169.3 L554.82 169.3 L554.84 169.3 L554.95 168.6 L554.97 168.6 L555.06 168.6 L555.21 169.3 L555.20 168.6 L555.36 169.3 L555.38 168.6 L555.40 168.0 L555.53 168.6 L555.59 168.6 L555.66 168.6 L555.79 168.6 L555.80 169.3 L555.91 168.6 L555.99 168.6 L556.04 168.6 L556.15 168.6 L556.21 169.3 L556.28 168.6 L556.40 168.6 L556.41 169.3 L556.50 168.6 L556.59 168.6 L556.62 168.6 L556.75 168.6 L556.76 168.0 L556.88 168.6 L556.98 168.6 L556.98 168.6 L557.15 169.3 L557.25 169.3 L557.27 169.3 L557.36 168.6 L557.36 168.0 L557.50 169.3 L557.60 168.6 L557.59 168.6 L557.73 168.6 L557.81 168.6 L557.87 169.3 L558.00 169.3 L558.01 168.6 L557.99 168.6 L558.08 168.6 L558.17 168.6 L558.19 168.6 L558.30 168.6 L558.42 169.3 L558.47 169.3 L558.55 168.6 L558.61 168.6 L558.70 169.3 L558.82 168.6 L558.80 168.6 L558.94 169.3 L558.99 168.6 L559.06 169.3 L559.19 169.3 L559.20 168.6 L559.29 168.6 L559.40 168.6 L559.41 168.6 L559.53 168.6 L559.61 168.6 L559.64 168.6 L559.78 168.6 L559.81 168.6 L560.01 170.5 L559.98 168.0 L560.04 169.3 L560.14 168.6 L560.22 168.6 L560.23 168.6 L560.35 168.6 L560.41 168.6 L560.48 168.6 L560.57 168.0 L560.60 168.6 L560.72 168.6 L560.79 168.6 L560.86 168.6 L560.99 168.6 L560.98 168.0 L561.07 168.6 L561.19 168.6 L561.20 168.6 L561.34 168.6 L561.41 168.6 L561.44 168.6 L561.55 168.6 L561.63 168.6 L561.71 168.6 L561.81 168.6 L561.77 168.0 L561.94 168.6 L562.00 168.6 L562.02 168.0 L562.19 168.6 L562.21 168.6 L562.25 168.0 L562.39 168.6 L562.40 168.6 L562.51 168.0 L562.61 168.6 L562.66 168.6 L562.75 168.0 L562.84 169.3 L562.90 168.6 L563.04 168.6 L563.01 168.6 L563.14 168.6 L563.23 168.6 L563.23 168.0 L563.38 168.6 L563.38 168.0 L563.48 168.6 L563.60 168.6 L563.65 169.3 L563.68 168.0 L563.80 168.6 L563.84 168.0 L563.92 168.0 L563.96 168.0 L564.07 168.0 L564.17 168.0 L564.21 168.6 L564.30 168.0 L564.39 168.0 L564.43 168.0 L564.57 168.6 L564.61 168.6 L564.63 167.4 L564.75 167.4 L564.82 168.6 L564.90 168.0 L565.01 168.6 L565.05 168.6 L565.16 168.0 L565.20 168.0 L565.29 168.6 L565.37 168.0 L565.40 168.0 L565.53 168.6 L565.62 168.6 L565.65 168.6 L565.76 168.0 L565.80 168.0 L565.88 168.0 L565.98 168.0 L566.00 168.0 L566.12 168.0 L566.19 168.0 L566.24 168.0 L566.39 168.6 L566.37 167.4 L566.53 168.6 L566.60 168.0 L566.61 168.0 L566.78 168.6 L566.81 168.0 L566.83 168.0 L566.96 168.0 L567.01 168.0 L567.01 168.0 L567.03 167.4 L567.23 168.6 L567.19 168.0 L567.31 168.0 L567.41 168.0 L567.43 168.0 L567.57 168.0 L567.58 168.0 L567.68 168.0 L567.80 168.0 L567.82 168.6 L567.93 168.0 L567.99 168.0 L568.00 167.4 L568.14 168.0 L568.21 168.0 L568.29 168.0 L568.38 167.4 L568.40 168.0 L568.51 168.0 L568.63 168.6 L568.66 168.6 L568.77 168.0 L568.76 167.4 L568.88 168.0 L568.99 168.0 L569.00 168.0 L569.09 167.4 L569.22 168.0 L569.27 168.6 L569.36 168.0 L569.39 168.0 L569.47 168.0 L569.60 168.0 L569.61 168.0 L569.75 168.6 L569.80 168.0 L569.84 168.0 L569.99 168.0 L569.98 167.4 L570.10 168.0 L570.22 168.0 L570.21 168.0 L570.31 167.4 L570.41 168.0 L570.45 168.0 L570.59 168.6 L570.60 168.0 L570.69 168.0 L570.78 167.4 L570.81 168.0 L570.92 168.0 L570.99 167.4 L571.03 168.0 L571.20 168.6 L571.21 168.0 L571.28 168.0 L571.38 167.4 L571.39 167.4 L571.53 168.0 L571.60 168.0 L571.67 168.0 L571.76 168.0 L571.80 168.0 L571.88 168.0 L572.00 168.0 L572.00 168.0 L572.12 168.0 L572.21 168.0 L572.27 168.0 L572.35 167.4 L572.37 167.4 L572.49 168.0 L572.63 168.0 L572.60 167.4 L572.73 168.0 L572.79 167.4 L572.84 168.0 L572.95 167.4 L572.99 167.4 L573.07 167.4 L573.19 167.4 L573.19 167.4 L573.32 168.0 L573.40 168.0 L573.46 168.0 L573.56 167.4 L573.58 167.4 L573.68 167.4 L573.78 167.4 L573.82 168.0 L573.94 168.0 L573.97 167.4 L574.01 167.4 L574.18 168.0 L574.19 167.4 L574.28 167.4 L574.36 166.8 L574.42 168.0 L574.56 168.0 L574.61 167.4 L574.62 167.4 L574.79 168.0 L574.80 167.4 L574.88 167.4 L575.04 168.0 L574.98 167.4 L575.13 168.0 L575.18 167.4 L575.26 168.0 L575.35 167.4 L575.38 167.4 L575.52 168.0 L575.60 167.4 L575.58 167.4 L575.69 166.8 L575.79 167.4 L575.86 168.0 L575.96 167.4 L575.98 167.4 L576.00 168.0" stroke="#000" stroke-width="0.9"/>
<path d="M80 412.5H576" stroke="#008000"/>
<path d="M80 412.5H576" stroke="#ff0000"/>
<path d="M80.00 177.9 L80.20 177.9 L80.40 176.1 L80.60 179.8 L80.80 176.7 L81.00 177.3 L81.20 178.6 L81.40 177.3 L81.60 177.3 L81.80 177.3 L82.00 178.6 L82.20 179.8 L82.40 177.9 L82.60 177.3 L82.80 178.6 L83.00 177.3 L83.20 177.9 L83.40 179.2 L83.60 177.3 L83.80 177.9 L84.00 177.3 L84.20 177.9 L84.40 178.6 L84.60 177.3 L84.80 177.9 L85.00 177.3 L85.20 177.3 L85.40 177.3 L85.60 174.8 L85.80 177.9 L86.00 177.9 L86.20 182.9 L86.40 176.1 L86.60 178.6 L86.80 179.2 L87.00 179.2 L87.20 179.2 L87.40 177.3 L87.60 177.9 L87.80 178.6 L88.00 177.3 L88.20 178.6 L88.40 176.7 L88.60 179.8 L88.80 179.2 L89.00 177.9 L89.20 178.6 L89.40 177.9 L89.60 177.3 L89.80 178.6 L90.00 179.2 L90.20 177.9 L90.40 177.9 L90.60 177.9 L90.80 178.6 L91.00 181.0 L91.20 177.9 L91.40 178.6 L91.60 178.6 L91.80 176.7 L92.00 177.9 L92.20 177.9 L92.40 177.9 L92.60 178.6 L92.80 176.7 L93.00 178.6 L93.20 177.9 L93.40 177.3 L93.60 178.6 L93.80 179.8 L94.00 177.9 L94.20 179.2 L94.40 177.9 L94.60 178.6 L94.80 177.3 L95.00 179.8 L95.20 176.1 L95.40 177.9 L95.60 178.6 L95.80 173.6 L96.00 177.9 L96.20 177.9 L96.40 179.2 L96.60 179.2 L96.80 177.9 L97.00 177.3 L97.20 179.2 L97.40 179.2 L97.60 177.9 L97.80 178.6 L98.00 178.6 L98.20 178.6 L98.40 178.6 L98.60 179.2 L98.80 176.7 L99.00 179.2 L99.20 178.6 L99.40 177.9 L99.60 181.0 L99.80 176.1 L100.00 181.0 L100.00 178.6 L100.20 177.3 L100.40 178.6 L100.60 177.9 L100.80 180.4 L101.00 179.8 L101.20 178.6 L101.40 177.9 L101.60 177.9 L101.80 177.9 L102.00 177.9 L102.20 177.3 L102.40 177.9 L102.60 177.9 L102.80 177.9 L103.00 176.7 L103.20 177.3 L103.40 180.4 L103.60 177.3 L103.80 177.3 L104.00 178.6 L104.20 177.9 L104.40 178.6 L104.60 179.2 L104.80 179.2 L105.00 179.2 L105.20 177.3 L105.40 179.2 L105.60 176.7 L105.80 178.6 L106.00 177.9 L106.20 177.3 L106.40 179.2 L106.60 177.9 L106.80 179.2 L107.00 177.3 L107.20 179.2 L107.40 178.6 L107.60 178.6 L107.80 177.3 L108.00 177.9 L108.20 177.3 L108.40 176.7 L108.60 181.0 L108.80 180.4 L109.00 179.8 L109.20 177.9 L109.40 179.2 L109.60 179.2 L109.80 179.2 L110.00 178.6 L110.20 178.6 L110.40 176.7 L110.60 179.2 L110.80 178.6 L111.00 179.2 L111.20 177.9 L111.40 179.8 L111.60 177.9 L111.80 177.3 L112.00 179.2 L112.20 177.9 L112.40 177.3 L112.60 178.6 L112.80 179.2 L113.00 178.6 L113.20 179.2 L113.40 182.3 L113.60 179.2 L113.80 181.7 L114.00 176.7 L114.20 178.6 L114.40 179.2 L114.60 177.9 L114.80 177.9 L115.00 178.6 L115.20 178.6 L115.40 177.9 L115.60 179.8 L115.80 179.8 L116.00 178.6 L116.20 177.9 L116.40 179.2 L116.60 179.2 L116.80 179.2 L117.00 177.3 L117.20 178.6 L117.40 178.6 L117.60 179.2 L117.80 179.2 L118.00 180.4 L118.20 177.3 L118.40 177.9 L118.60 177.3 L118.80 180.4 L119.00 178.6 L119.20 179.2 L119.40 179.2 L119.60 177.9 L119.80 177.3 L120.00 177.9 L120.00 178.6 L120.20 179.8 L120.40 179.2 L120.60 177.9 L120.80 179.2 L121.00 179.2 L121.20 177.9 L121.40 178.6 L121.60 177.3 L121.80 179.2 L122.00 178.6 L122.20 177.3 L122.40 177.9 L122.60 178.6 L122.80 177.9 L123.00 179.2 L123.20 179.2 L123.40 177.9 L123.60 177.9 L123.80 180.4 L124.00 178.6 L124.20 177.9 L124.40 178.6 L124.60 177.3 L124.80 179.8 L125.00 179.2 L125.20 179.8 L125.40 179.2 L125.60 179.2 L125.80 179.8 L126.00 179.2 L126.20 177.9 L126.40 177.9 L126.60 178.6 L126.80 176.7 L127.00 180.4 L127.20 177.3 L127.40 178.6 L127.60 176.1 L127.80 177.3 L128.00 178.6 L128.20 178.6 L128.40 178.6 L128.60 179.2 L128.80 178.6 L129.00 179.2 L129.20 179.2 L129.40 178.6 L129.60 178.6 L129.80 179.2 L130.00 178.6 L130.20 179.2 L130.40 176.7 L130.60 178.6 L130.80 179.2 L131.00 178.6 L131.20 179.2 L131.40 180.4 L131.60 179.2 L131.80 179.2 L132.00 177.9 L132.20 177.9 L132.40 178.6 L132.60 177.9 L132.80 178.6 L133.00 177.9 L133.20 178.6 L133.40 177.9 L133.60 177.3 L133.80 178.6 L134.00 177.9 L134.20 178.6 L134.40 178.6 L134.60 178.6 L134.80 179.8 L135.00 180.4 L135.20 179.8 L135.40 178.6 L135.60 180.4 L135.80 177.3 L136.00 176.7 L136.20 179.2 L136.40 179.2 L136.60 178.6 L136.80 179.2 L137.00 177.3 L137.20 177.9 L137.40 180.4 L137.60 181.7 L137.80 177.9 L138.00 181.0 L138.20 177.9 L138.40 178.6 L138.60 179.2 L138.80 175.5 L139.00 178.6 L139.20 178.6 L139.40 178.6 L139.60 179.8 L139.80 179.8 L140.00 177.9 L140.00 178.6 L140.20 179.2 L140.40 179.2 L140.60 176.7 L140.80 179.2 L141.00 179.8 L141.20 178.6 L141.40 179.8 L141.60 177.3 L141.80 177.3 L142.00 179.8 L142.20 177.9 L142.40 176.1 L142.60 178.6 L142.80 178.6 L143.00 179.2 L143.20 177.3 L143.40 178.6 L143.60 182.3 L143.80 179.2 L144.00 173.6 L144.20 179.8 L144.40 179.8 L144.60 180.4 L144.80 179.2 L145.00 178.6 L145.20 180.4 L145.40 179.8 L145.60 177.3 L145.80 181.0 L146.00 178.6 L146.20 180.4 L146.40 178.6 L146.60 179.8 L146.80 179.2 L147.00 179.8 L147.20 179.2 L147.40 178.6 L147.60 179.2 L147.80 179.8 L148.00 179.2 L148.20 180.4 L148.40 179.2 L148.60 179.8 L148.80 181.0 L149.00 179.2 L149.20 179.8 L149.40 178.6 L149.60 179.2 L149.80 180.4 L150.00 179.2 L150.20 180.4 L150.40 177.9 L150.60 177.3 L150.80 179.2 L151.00 175.5 L151.20 181.7 L151.40 180.4 L151.60 177.9 L151.80 178.6 L152.00 178.6 L152.20 179.2 L152.40 179.2 L152.60 179.8 L152.80 180.4 L153.00 178.6 L153.20 177.9 L153.40 179.8 L153.60 178.6 L153.80 180.4 L154.00 178.6 L154.20 179.8 L154.40 179.8 L154.60 178.6 L154.80 178.6 L155.00 179.8 L155.20 181.7 L155.40 179.8 L155.60 178.6 L155.80 179.8 L156.00 179.2 L156.20 177.9 L156.40 179.2 L156.60 180.4 L156.80 178.6 L157.00 177.9 L157.20 179.8 L157.40 181.0 L157.60 179.8 L157.80 179.8 L158.00 181.7 L158.20 180.4 L158.40 179.8 L158.60 178.6 L158.80 179.2 L159.00 179.2 L159.20 179.8 L159.40 177.9 L159.60 180.4 L159.80 179.2 L160.00 178.6 L160.00 181.0 L160.20 176.7 L160.40 177.9 L160.60 178.6 L160.80 179.8 L161.00 178.6 L161.20 180.4 L161.40 178.6 L161.60 180.4 L161.80 177.9 L162.00 180.4 L162.20 178.6 L162.40 179.8 L162.60 178.6 L162.80 177.9 L163.00 178.6 L163.20 179.8 L163.40 177.9 L163.60 177.3 L163.80 178.6 L164.00 179.8 L164.20 177.9 L164.40 178.6 L164.60 179.2 L164.80 178.6 L165.00 179.2 L165.20 180.4 L165.40 179.2 L165.60 178.6 L165.80 179.8 L166.00 178.6 L166.20 177.9 L166.40 177.9 L166.60 177.9 L166.80 181.0 L167.00 178.6 L167.20 179.8 L167.40 179.8 L167.60 177.9 L167.80 179.8 L168.00 178.6 L168.20 176.7 L168.40 178.6 L168.60 177.9 L168.80 178.6 L169.00 179.2 L169.20 181.0 L169.40 177.3 L169.60 178.6 L169.80 179.2 L170.00 179.2 L170.20 178.6 L170.40 177.9 L170.60 177.9 L170.80 178.6 L171.00 177.3 L171.20 177.9 L171.40 177.3 L171.60 179.8 L171.80 177.3 L172.00 181.0 L172.20 177.9 L172.40 177.9 L172.60 177.3 L172.80 179.8 L173.00 179.8 L173.20 176.7 L173.40 179.2 L173.60 178.6 L173.80 178.6 L174.00 179.2 L174.20 179.8 L174.40 173.6 L174.60 176.7 L174.80 179.2 L175.00 178.6 L175.20 179.8 L175.40 176.7 L175.60 177.9 L175.80 180.4 L176.00 177.3 L176.20 179.2 L176.40 177.9 L176.60 178.6 L176.80 177.3 L177.00 179.8 L177.20 176.7 L177.40 177.3 L177.60 177.9 L177.80 179.8 L178.00 179.2 L178.20 179.2 L178.40 178.6 L178.60 179.2 L178.80 179.2 L179.00 180.4 L179.20 179.2 L179.40 177.3 L179.60 179.8 L179.80 178.6 L180.00 177.3 L180.00 178.6 L180.20 177.9 L180.40 181.0 L180.60 177.9 L180.80 176.7 L181.00 179.2 L181.20 177.9 L181.40 179.8 L181.60 178.6 L181.80 176.7 L182.00 177.9 L182.20 177.3 L182.40 177.9 L182.60 176.7 L182.80 176.7 L183.00 178.6 L183.20 177.9 L183.40 177.9 L183.60 179.2 L183.80 180.4 L184.00 177.9 L184.20 180.4 L184.40 176.7 L184.60 179.2 L184.80 177.9 L185.00 178.6 L185.20 177.3 L185.40 177.9 L185.60 178.6 L185.80 177.9 L186.00 179.2 L186.20 181.0 L186.40 177.9 L186.60 178.6 L186.80 176.7 L187.00 176.1 L187.20 179.8 L187.40 177.3 L187.60 177.9 L187.80 178.6 L188.00 179.8 L188.20 178.6 L188.40 180.4 L188.60 178.6 L188.80 173.6 L189.00 178.6 L189.20 178.6 L189.40 177.9 L189.60 177.9 L189.80 177.9 L190.00 180.4 L190.20 177.9 L190.40 177.3 L190.60 178.6 L190.80 176.7 L191.00 179.2 L191.20 179.2 L191.40 177.3 L191.60 177.9 L191.80 177.9 L192.00 180.4 L192.20 179.2 L192.40 177.3 L192.60 177.3 L192.80 178.6 L193.00 178.6 L193.20 177.3 L193.40 178.6 L193.60 177.9 L193.80 179.8 L194.00 179.2 L194.20 178.6 L194.40 178.6 L194.60 177.3 L194.80 179.2 L195.00 179.2 L195.20 177.9 L195.40 178.6 L195.60 177.9 L195.80 181.0 L196.00 177.9 L196.20 179.2 L196.40 178.6 L196.60 177.3 L196.80 178.6 L197.00 177.9 L197.20 178.6 L197.40 178.6 L197.60 179.2 L197.80 179.2 L198.00 177.9 L198.20 177.9 L198.40 177.9 L198.60 177.3 L198.80 176.7 L199.00 179.8 L199.20 177.9 L199.40 177.9 L199.60 176.7 L199.80 176.7 L200.00 175.5 L200.00 177.9 L200.20 179.2 L200.40 179.2 L200.60 177.9 L200.80 177.3 L201.00 177.9 L201.20 177.9 L201.40 179.2 L201.60 179.2 L201.80 177.9 L202.00 177.9 L202.20 179.2 L202.40 178.6 L202.60 177.9 L202.80 176.1 L203.00 177.3 L203.20 179.2 L203.40 178.6 L203.60 179.2 L203.80 177.9 L204.00 177.9 L204.20 179.2 L204.40 178.6 L204.60 178.6 L204.80 179.2 L205.00 179.2 L205.20 179.8 L205.40 176.1 L205.60 177.3 L205.80 177.9 L206.00 177.3 L206.20 176.1 L206.40 179.2 L206.60 176.7 L206.80 177.9 L207.00 175.5 L207.20 177.3 L207.40 177.9 L207.60 176.7 L207.80 178.6 L208.00 180.4 L208.20 176.7 L208.40 176.7 L208.60 179.8 L208.80 178.6 L209.00 177.3 L209.20 176.7 L209.40 178.6 L209.60 177.9 L209.80 179.2 L210.00 176.7 L210.20 177.3 L210.40 176.7 L210.60 177.3 L210.80 179.2 L211.00 178.6 L211.20 177.3 L211.40 177.9 L211.60 177.3 L211.80 178.6 L212.00 177.3 L212.20 176.7 L212.40 177.3 L212.60 177.3 L212.80 178.6 L213.00 179.2 L213.20 179.2 L213.40 177.9 L213.60 177.3 L213.80 177.9 L214.00 177.3 L214.20 176.1 L214.40 177.9 L214.60 177.9 L214.80 178.6 L215.00 176.7 L215.20 176.1 L215.40 177.9 L215.60 176.7 L215.80 178.6 L216.00 176.1 L216.20 176.7 L216.40 175.5 L216.60 179.8 L216.80 176.7 L217.00 177.3 L217.20 176.7 L217.40 177.3 L217.60 178.6 L217.80 177.3 L218.00 177.3 L218.20 178.6 L218.40 176.1 L218.60 178.6 L218.80 179.2 L219.00 176.1 L219.20 177.3 L219.40 176.1 L219.60 174.8 L219.80 176.7 L220.00 177.9 L220.00 177.9 L220.20 176.7 L220.40 176.1 L220.60 176.7 L220.80 176.7 L221.00 176.7 L221.20 174.8 L221.40 176.7 L221.60 177.3 L221.80 179.2 L222.00 177.9 L222.20 176.7 L222.40 177.3 L222.60 177.9 L222.80 176.1 L223.00 174.8 L223.20 176.1 L223.40 176.7 L223.60 177.3 L223.80 176.1 L224.00 176.1 L224.20 176.7 L224.40 177.3 L224.60 177.3 L224.80 176.7 L225.00 177.3 L225.20 176.1 L225.40 177.9 L225.60 176.7 L225.80 175.5 L226.00 176.7 L226.20 176.7 L226.40 175.5 L226.60 177.3 L226.80 176.7 L227.00 177.3 L227.20 175.5 L227.40 177.3 L227.60 177.3 L227.80 176.1 L228.00 176.7 L228.20 176.1 L228.40 177.3 L228.60 176.7 L228.80 177.3 L229.00 176.7 L229.20 175.5 L229.40 175.5 L229.60 176.1 L229.80 177.3 L230.00 179.2 L230.20 177.3 L230.40 176.1 L230.60 174.2 L230.80 177.3 L231.00 176.7 L231.20 175.5 L231.40 177.3 L231.60 176.7 L231.80 176.1 L232.00 174.2 L232.20 177.3 L232.40 176.7 L232.60 176.1 L232.80 175.5 L233.00 176.1 L233.20 177.9 L233.40 176.7 L233.60 178.6 L233.80 177.3 L234.00 176.7 L234.20 177.3 L234.40 176.7 L234.60 174.8 L234.80 175.5 L235.00 176.7 L235.00 175.5 L235.20 175.5 L235.40 174.8 L235.60 177.9 L235.80 174.8 L236.00 174.8 L236.20 175.5 L236.40 177.3 L236.60 177.3 L236.80 175.5 L237.00 176.7 L237.20 174.8 L237.40 176.1 L237.60 178.6 L237.80 176.7 L238.00 176.1 L238.20 174.2 L238.40 175.5 L238.60 172.4 L238.80 173.6 L239.00 176.1 L239.20 176.1 L239.40 176.1 L239.60 176.7 L239.80 173.6 L240.00 177.3 L240.00 174.2 L240.20 176.1 L240.40 176.1 L240.60 176.7 L240.80 177.9 L241.00 176.1 L241.20 174.8 L241.40 174.2 L241.60 175.5 L241.80 174.8 L242.00 174.2 L242.20 174.8 L242.40 176.1 L242.60 174.8 L242.80 174.2 L243.00 175.5 L243.20 174.2 L243.40 171.1 L243.60 176.7 L243.80 175.5 L244.00 177.3 L244.20 173.6 L244.40 176.1 L244.60 174.8 L244.80 177.9 L245.00 174.8 L245.20 174.8 L245.40 175.5 L245.60 175.5 L245.80 174.8 L246.00 176.1 L246.20 176.1 L246.40 176.1 L246.60 175.5 L246.80 174.2 L247.00 174.2 L247.20 175.5 L247.40 174.2 L247.60 176.7 L247.80 174.8 L248.00 174.2 L248.20 176.1 L248.40 174.8 L248.60 176.1 L248.80 174.8 L249.00 176.7 L249.20 174.2 L249.40 172.4 L249.60 170.5 L249.80 173.0 L250.00 176.1 L250.00 176.1 L250.20 174.8 L250.40 173.6 L250.60 175.5 L250.80 175.5 L251.00 174.2 L251.20 174.8 L251.40 174.8 L251.60 173.6 L251.80 175.5 L252.00 174.2 L252.20 173.6 L252.40 174.2 L252.60 176.1 L252.80 176.1 L253.00 176.1 L253.20 174.2 L253.40 173.6 L253.60 174.8 L253.80 174.2 L254.00 174.8 L254.20 173.6 L254.40 173.6 L254.60 173.6 L254.80 175.5 L255.00 175.5 L255.20 173.6 L255.40 174.8 L255.60 174.8 L255.80 173.6 L256.00 174.2 L256.20 174.8 L256.40 173.6 L256.60 177.3 L256.80 174.2 L257.00 174.2 L257.20 174.2 L257.40 173.0 L257.60 174.8 L257.80 174.2 L258.00 174.2 L258.20 174.2 L258.40 175.5 L258.60 174.2 L258.80 173.6 L259.00 174.2 L259.20 174.8 L259.40 174.2 L259.60 173.6 L259.80 174.8 L260.00 174.2 L260.20 174.8 L260.40 174.2 L260.60 173.6 L260.80 173.0 L261.00 173.6 L261.20 174.2 L261.40 172.4 L261.60 174.2 L261.80 174.8 L262.00 173.6 L262.20 173.0 L262.40 172.4 L262.60 174.2 L262.80 174.2 L263.00 174.2 L263.20 174.8 L263.40 173.6 L263.60 173.6 L263.80 174.2 L264.00 173.6 L264.20 174.2 L264.40 174.2 L264.60 173.6 L264.80 173.0 L265.00 173.0 L265.00 174.8 L265.20 173.0 L265.40 174.2 L265.60 173.0 L265.80 176.1 L266.00 173.6 L266.20 174.2 L266.40 171.7 L266.60 176.7 L266.80 173.0 L267.00 174.2 L267.20 173.0 L267.40 174.8 L267.60 173.0 L267.80 173.6 L268.00 172.4 L268.20 173.6 L268.40 174.2 L268.60 175.5 L268.80 171.7 L269.00 174.2 L269.20 174.2 L269.40 173.6 L269.60 173.6 L269.80 174.2 L270.00 174.2 L270.20 173.6 L270.40 173.6 L270.60 173.6 L270.80 174.2 L271.00 173.0 L271.20 173.6 L271.40 174.2 L271.60 174.2 L271.80 174.2 L272.00 173.6 L272.20 172.4 L272.40 174.8 L272.60 174.8 L272.80 174.8 L273.00 174.2 L273.20 174.8 L273.40 173.6 L273.60 173.0 L273.80 173.6 L274.00 173.6 L274.20 174.8 L274.40 174.8 L274.60 173.6 L274.80 173.6 L275.00 174.2 L275.20 174.2 L275.40 175.5 L275.60 173.6 L275.80 174.8 L276.00 173.0 L276.20 173.6 L276.40 175.5 L276.60 174.2 L276.80 174.2 L277.00 174.8 L277.20 173.6 L277.40 174.2 L277.60 174.2 L277.80 174.2 L278.00 174.2 L278.20 173.6 L278.40 174.2 L278.60 172.4 L278.80 174.8 L279.00 174.2 L279.20 174.2 L279.40 174.2 L279.60 173.6 L279.80 173.6 L280.00 174.2 L280.00 174.2 L280.20 174.8 L280.40 174.2 L280.60 173.6 L280.80 174.2 L281.00 174.2 L281.20 174.8 L281.40 174.8 L281.60 176.1 L281.80 173.0 L282.00 173.6 L282.20 174.2 L282.40 174.8 L282.60 174.8 L282.80 174.2 L283.00 174.8 L283.20 173.6 L283.40 173.6 L283.60 174.2 L283.80 173.6 L284.00 175.5 L284.20 173.6 L284.40 173.0 L284.60 174.2 L284.80 172.4 L285.00 173.6 L285.20 174.2 L285.40 175.5 L285.60 176.7 L285.80 174.2 L286.00 173.0 L286.20 174.2 L286.40 174.8 L286.60 173.6 L286.80 174.8 L287.00 175.5 L287.20 174.8 L287.40 173.6 L287.60 173.6 L287.80 173.0 L288.00 174.2 L288.20 173.6 L288.40 175.5 L288.60 173.0 L288.80 173.0 L289.00 174.2 L289.20 174.8 L289.40 173.6 L289.60 174.8 L289.80 174.8 L290.00 174.8 L290.00 174.8 L290.20 174.8 L290.40 173.0 L290.60 174.8 L290.80 174.2 L291.00 173.6 L291.20 174.2 L291.40 174.2 L291.60 174.2 L291.80 174.2 L292.00 174.2 L292.20 173.0 L292.40 176.1 L292.60 174.8 L292.80 176.1 L293.00 174.2 L293.20 177.9 L293.40 174.2 L293.60 175.5 L293.80 175.5 L294.00 174.8 L294.20 174.2 L294.40 174.8 L294.60 175.5 L294.80 173.0 L295.00 173.6 L295.20 173.6 L295.40 173.6 L295.60 174.8 L295.80 174.8 L296.00 174.2 L296.20 175.5 L296.40 173.6 L296.60 174.2 L296.80 174.8 L297.00 174.8 L297.20 174.2 L297.40 173.6 L297.60 174.8 L297.80 176.1 L298.00 174.2 L298.20 174.2 L298.40 173.6 L298.60 174.2 L298.80 173.6 L299.00 174.8 L299.20 176.1 L299.40 174.8 L299.60 173.6 L299.80 174.8 L300.00 173.0 L300.20 175.5 L300.40 174.8 L300.60 173.6 L300.80 174.2 L301.00 173.6 L301.20 176.1 L301.40 175.5 L301.60 173.6 L301.80 173.6 L302.00 174.8 L302.20 174.2 L302.40 174.8 L302.60 174.8 L302.80 173.0 L303.00 174.8 L303.20 176.1 L303.40 174.8 L303.60 174.8 L303.80 174.2 L304.00 174.2 L304.20 174.8 L304.40 173.6 L304.60 173.0 L304.80 175.5 L305.00 174.2 L305.20 174.8 L305.40 174.8 L305.60 174.8 L305.80 174.8 L306.00 174.8 L306.20 174.2 L306.40 175.5 L306.60 174.2 L306.80 174.8 L307.00 173.0 L307.20 174.8 L307.40 173.6 L307.60 175.5 L307.80 174.8 L308.00 173.6 L308.20 170.5 L308.40 173.0 L308.60 175.5 L308.80 174.2 L309.00 175.5 L309.20 174.2 L309.40 174.2 L309.60 173.6 L309.80 174.8 L310.00 175.5 L310.20 175.5 L310.40 174.8 L310.60 173.6 L310.80 174.8 L311.00 173.6 L311.20 173.6 L311.40 174.8 L311.60 173.6 L311.80 174.8 L312.00 174.2 L312.20 175.5 L312.40 174.2 L312.60 174.8 L312.80 175.5 L313.00 175.5 L313.20 174.8 L313.40 173.0 L313.60 175.5 L313.80 173.0 L314.00 174.2 L314.20 172.4 L314.40 173.6 L314.60 174.2 L314.80 174.2 L315.00 173.6 L315.20 174.2 L315.40 173.6 L315.60 174.2 L315.80 175.5 L316.00 172.4 L316.20 174.2 L316.40 174.2 L316.60 173.0 L316.80 174.2 L317.00 175.5 L317.20 174.8 L317.40 173.0 L317.60 174.8 L317.80 175.5 L318.00 173.6 L318.20 174.2 L318.40 174.2 L318.60 174.2 L318.80 174.8 L319.00 174.2 L319.20 174.8 L319.40 174.2 L319.60 174.2 L319.80 174.2 L320.00 174.8 L320.00 174.2 L320.20 174.2 L320.40 175.5 L320.60 176.7 L320.80 174.2 L321.00 175.5 L321.20 174.2 L321.40 174.8 L321.60 175.5 L321.80 175.5 L322.00 176.7 L322.20 174.2 L322.40 174.8 L322.60 176.1 L322.80 176.1 L323.00 173.0 L323.20 174.8 L323.40 175.5 L323.60 176.1 L323.80 174.2 L324.00 174.8 L324.20 173.0 L324.40 177.3 L324.60 176.1 L324.80 173.6 L325.00 174.8 L325.20 173.6 L325.40 174.2 L325.60 175.5 L325.80 175.5 L326.00 175.5 L326.20 173.6 L326.40 173.0 L326.60 176.7 L326.80 174.8 L327.00 174.8 L327.20 174.8 L327.40 174.2 L327.60 174.8 L327.80 174.2 L328.00 174.2 L328.20 173.6 L328.40 176.7 L328.60 175.5 L328.80 175.5 L329.00 175.5 L329.20 174.8 L329.40 174.2 L329.60 175.5 L329.80 175.5 L330.00 175.5 L330.20 174.8 L330.40 173.6 L330.60 175.5 L330.80 175.5 L331.00 174.8 L331.20 174.8 L331.40 174.8 L331.60 174.8 L331.80 173.6 L332.00 174.8 L332.20 174.8 L332.40 175.5 L332.60 174.2 L332.80 175.5 L333.00 172.4 L333.20 175.5 L333.40 176.7 L333.60 174.8 L333.80 175.5 L334.00 176.1 L334.20 175.5 L334.40 175.5 L334.60 174.2 L334.80 174.8 L335.00 176.7 L335.20 175.5 L335.40 175.5 L335.60 176.7 L335.80 173.6 L336.00 176.1 L336.20 176.7 L336.40 173.6 L336.60 174.8 L336.80 175.5 L337.00 174.8 L337.20 174.8 L337.40 176.1 L337.60 175.5 L337.80 175.5 L338.00 175.5 L338.20 175.5 L338.40 175.5 L338.60 177.3 L338.80 176.1 L339.00 174.8 L339.20 176.1 L339.40 175.5 L339.60 178.6 L339.80 174.2 L340.00 176.1 L340.00 176.1 L340.20 176.7 L340.40 174.8 L340.60 174.2 L340.80 176.1 L341.00 176.1 L341.20 176.1 L341.40 176.1 L341.60 175.5 L341.80 176.1 L342.00 175.5 L342.20 174.8 L342.40 176.7 L342.60 174.8 L342.80 174.2 L343.00 175.5 L343.20 175.5 L343.40 175.5 L343.60 175.5 L343.80 176.1 L344.00 175.5 L344.20 173.6 L344.40 176.7 L344.60 175.5 L344.80 176.7 L345.00 175.5 L345.20 176.1 L345.40 176.7 L345.60 174.2 L345.80 176.7 L346.00 175.5 L346.20 176.1 L346.40 175.5 L346.60 175.5 L346.80 175.5 L347.00 174.8 L347.20 175.5 L347.40 177.3 L347.60 176.7 L347.80 176.7 L348.00 175.5 L348.20 175.5 L348.40 175.5 L348.60 173.6 L348.80 175.5 L349.00 174.8 L349.20 176.1 L349.40 176.1 L349.60 176.1 L349.80 174.8 L350.00 174.8 L350.20 176.7 L350.40 176.1 L350.60 176.7 L350.80 175.5 L351.00 176.1 L351.20 175.5 L351.40 174.8 L351.60 176.1 L351.80 174.8 L352.00 174.8 L352.20 176.7 L352.40 177.3 L352.60 175.5 L352.80 175.5 L353.00 176.7 L353.20 174.8 L353.40 173.6 L353.60 177.3 L353.80 174.2 L354.00 175.5 L354.20 173.6 L354.40 173.6 L354.60 176.1 L354.80 174.2 L355.00 176.1 L355.20 175.5 L355.40 175.5 L355.60 176.1 L355.80 176.1 L356.00 176.7 L356.20 174.2 L356.40 174.8 L356.60 176.1 L356.80 176.1 L357.00 174.8 L357.20 174.8 L357.40 175.5 L357.60 173.0 L357.80 174.2 L358.00 177.9 L358.20 174.2 L358.40 177.3 L358.60 175.5 L358.80 176.1 L359.00 177.9 L359.20 176.1 L359.40 175.5 L359.60 174.8 L359.80 174.8 L360.00 173.6 L360.00 176.1 L360.20 175.5 L360.40 174.8 L360.60 176.1 L360.80 174.2 L361.00 174.2 L361.20 174.8 L361.40 175.5 L361.60 176.1 L361.80 177.3 L362.00 174.8 L362.20 176.1 L362.40 176.7 L362.60 176.1 L362.80 176.1 L363.00 174.8 L363.20 175.5 L363.40 177.3 L363.60 176.1 L363.80 175.5 L364.00 174.8 L364.20 176.1 L364.40 177.3 L364.60 174.8 L364.80 174.8 L365.00 175.5 L365.20 175.5 L365.40 174.8 L365.60 177.3 L365.80 176.1 L366.00 174.2 L366.20 175.5 L366.40 177.3 L366.60 175.5 L366.80 176.1 L367.00 174.8 L367.20 176.1 L367.40 175.5 L367.60 176.1 L367.80 175.5 L368.00 174.8 L368.20 176.1 L368.40 176.1 L368.60 176.1 L368.80 174.2 L369.00 175.5 L369.20 175.5 L369.40 175.5 L369.60 175.5 L369.80 175.5 L370.00 176.7 L370.20 177.3 L370.40 176.7 L370.60 176.1 L370.80 173.0 L371.00 174.8 L371.20 176.1 L371.40 173.6 L371.60 176.7 L371.80 174.8 L372.00 176.1 L372.20 175.5 L372.40 176.1 L372.60 174.2 L372.80 174.8 L373.00 174.8 L373.20 174.8 L373.40 174.2 L373.60 176.7 L373.80 174.8 L374.00 177.3 L374.20 175.5 L374.40 176.1 L374.60 175.5 L374.80 175.5 L375.00 174.8 L375.20 177.9 L375.40 176.7 L375.60 176.7 L375.80 173.6 L376.00 174.8 L376.20 174.2 L376.40 176.1 L376.60 174.8 L376.80 176.1 L377.00 175.5 L377.20 176.1 L377.40 176.7 L377.60 173.6 L377.80 175.5 L378.00 174.8 L378.20 176.1 L378.40 175.5 L378.60 175.5 L378.80 174.8 L379.00 176.1 L379.20 175.5 L379.40 176.1 L379.60 175.5 L379.80 174.2 L380.00 176.7 L380.00 175.5 L380.20 176.1 L380.40 174.2 L380.60 176.7 L380.80 174.8 L381.00 175.5 L381.20 174.8 L381.40 174.8 L381.60 176.7 L381.80 174.8 L382.00 174.8 L382.20 175.5 L382.40 175.5 L382.60 176.1 L382.80 175.5 L383.00 176.1 L383.20 174.8 L383.40 175.5 L383.60 177.3 L383.80 176.7 L384.00 174.8 L384.20 176.1 L384.40 176.1 L384.60 177.3 L384.80 175.5 L385.00 176.7 L385.20 176.7 L385.40 174.8 L385.60 175.5 L385.80 176.7 L386.00 176.1 L386.20 176.7 L386.40 176.7 L386.60 174.8 L386.80 176.1 L387.00 176.7 L387.20 176.1 L387.40 177.3 L387.60 173.6 L387.80 176.1 L388.00 176.1 L388.20 175.5 L388.40 175.5 L388.60 174.8 L388.80 175.5 L389.00 176.1 L389.20 174.8 L389.40 176.1 L389.60 176.1 L389.80 176.1 L390.00 176.7 L390.20 178.6 L390.40 175.5 L390.60 176.7 L390.80 175.5 L391.00 178.6 L391.20 176.1 L391.40 176.1 L391.60 177.3 L391.80 177.3 L392.00 178.6 L392.20 177.9 L392.40 176.7 L392.60 178.6 L392.80 176.1 L393.00 176.7 L393.20 177.3 L393.40 174.8 L393.60 175.5 L393.80 176.7 L394.00 177.3 L394.20 176.1 L394.40 177.9 L394.60 176.1 L394.80 177.9 L395.00 177.9 L395.20 176.7 L395.40 176.7 L395.60 176.7 L395.80 176.1 L396.00 176.7 L396.20 178.6 L396.40 177.3 L396.60 177.3 L396.80 176.1 L397.00 177.3 L397.20 177.9 L397.40 177.3 L397.60 176.7 L397.80 177.3 L398.00 177.9 L398.20 177.3 L398.40 175.5 L398.60 176.7 L398.80 177.3 L399.00 176.1 L399.20 177.3 L399.40 177.9 L399.60 179.2 L399.80 178.6 L399.96 177.9 L400.20 175.5" stroke="#ffa500" stroke-width="0.95"/>
<path d="M400.20 175.5 L400.03 177.9 L400.27 176.1 L400.27 176.1 L400.09 178.6 L400.29 176.7 L400.18 177.9 L400.29 177.9 L400.26 178.6 L400.43 177.3 L400.42 177.3 L400.29 179.2 L400.43 178.6 L400.52 177.9 L400.60 177.3 L400.54 177.9 L400.67 177.3 L400.64 177.9 L400.76 177.3 L400.99 175.5 L400.98 175.5 L400.93 176.7 L400.70 179.8 L400.80 179.2 L401.05 177.3 L401.09 176.7 L401.11 177.3 L401.13 177.3 L401.02 179.2 L401.26 176.7 L401.36 176.1 L401.31 177.3 L401.43 176.1 L401.19 179.2 L401.42 177.3 L401.39 177.9 L401.46 177.3 L401.70 175.5 L401.53 177.9 L401.55 177.9 L401.65 177.3 L401.61 177.9 L401.74 177.3 L401.76 177.3 L401.71 178.6 L401.85 177.3 L401.80 177.9 L401.89 177.9 L401.95 177.9 L402.06 177.3 L402.08 176.7 L402.05 177.9 L401.97 179.2 L402.11 177.9 L402.07 179.2 L402.20 177.9 L402.42 176.1 L402.17 179.2 L402.36 177.9 L402.28 179.2 L402.32 178.6 L402.36 178.6 L402.45 177.9 L402.75 176.1 L402.51 178.6 L402.57 177.9 L402.57 178.6 L402.60 178.6 L402.71 177.9 L402.73 178.6 L402.96 176.1 L402.84 177.9 L402.82 178.6 L402.88 178.6 L403.10 176.7 L403.20 176.1 L403.12 177.3 L403.09 177.9 L403.12 177.9 L403.02 179.8 L403.06 179.2 L403.33 177.3 L403.23 178.6 L403.39 177.3 L403.31 178.6 L403.47 177.3 L403.31 179.2 L403.56 177.3 L403.59 177.3 L403.70 176.7 L403.51 178.6 L403.64 177.9 L403.65 178.6 L403.67 178.6 L403.89 176.7 L403.62 179.8 L403.77 178.6 L403.87 177.9 L403.95 177.9 L404.03 177.3 L404.06 177.3 L403.95 179.2 L404.08 177.9 L404.15 177.9 L404.26 177.3 L404.18 177.9 L404.05 179.8 L404.25 178.6 L404.55 176.1 L404.60 176.1 L404.32 178.6 L404.60 176.7 L404.47 178.6 L404.48 178.6 L404.52 178.6 L404.40 179.8 L404.69 177.3 L404.67 177.9 L404.81 177.3 L404.94 176.7 L404.88 177.3 L404.69 179.8 L404.74 179.8 L405.04 177.3 L404.91 179.2 L405.02 177.9 L404.95 179.2 L405.20 177.3 L405.11 178.6 L405.18 177.9 L405.29 177.3 L405.31 177.3 L405.35 177.3 L405.35 177.9 L405.22 179.8 L405.22 179.8 L405.27 179.8 L405.43 178.6 L405.44 179.2 L405.71 176.7 L405.59 177.9 L405.53 179.2 L405.66 178.6 L405.82 177.3 L405.74 178.6 L405.77 178.6 L405.83 178.6 L405.96 177.3 L405.87 178.6 L406.01 177.9 L406.04 177.3 L406.00 177.9 L406.02 178.6 L406.03 179.8 L406.09 179.2 L406.29 176.1 L406.14 179.2 L406.22 178.6 L406.27 178.6 L406.28 179.8 L406.31 179.8 L406.36 179.2 L406.45 177.9 L406.52 177.3 L406.54 178.6 L406.58 178.6 L406.63 177.3 L406.56 179.8 L406.62 179.8 L406.70 179.2 L406.71 180.4 L406.75 179.2 L406.86 177.9 L406.85 179.2 L406.86 180.4 L407.01 177.9 L407.06 176.7 L407.00 179.2 L407.18 176.1 L407.20 177.3 L407.18 178.6 L407.22 177.9 L407.16 180.4 L407.30 178.6 L407.31 179.2 L407.34 179.2 L407.39 178.6 L407.42 178.6 L407.59 176.1 L407.46 180.4 L407.59 178.6 L407.61 177.9 L407.68 177.3 L407.69 178.6 L407.78 177.3 L407.79 178.6 L407.83 177.3 L407.92 176.7 L407.94 177.3 L407.99 177.3 L407.98 178.6 L407.99 178.6 L408.08 177.9 L408.08 178.6 L408.18 177.3 L408.20 177.9 L408.21 177.9 L408.23 178.6 L408.34 177.3 L408.36 177.9 L408.40 177.9 L408.46 177.3 L408.45 178.6 L408.50 177.9 L408.50 179.2 L408.66 177.3 L408.67 176.7 L408.73 176.7 L408.69 178.6 L408.78 177.9 L408.85 177.3 L408.79 178.6 L408.81 179.2 L408.81 180.4 L408.89 179.8 L409.03 177.3 L408.93 179.8 L409.09 177.3 L409.08 178.6 L409.11 179.2 L409.28 176.7 L409.19 178.6 L409.24 178.6 L409.21 180.4 L409.38 177.3 L409.36 179.2 L409.41 177.9 L409.45 178.6 L409.55 177.3 L409.50 179.2 L409.54 179.8 L409.54 179.8 L409.74 176.7 L409.79 176.1 L409.75 177.9 L409.74 179.8 L409.76 179.2 L409.86 177.9 L409.94 177.3 L409.86 180.4 L409.93 179.8 L410.04 177.3 L410.05 177.9 L410.10 177.9 L410.06 180.4 L410.16 179.2 L410.14 179.8 L410.30 177.3 L410.29 178.6 L410.36 177.9 L410.39 178.6 L410.38 178.6 L410.45 177.9 L410.55 177.3 L410.49 179.8 L410.65 177.3 L410.64 177.3 L410.74 176.1 L410.68 178.6 L410.74 178.6 L410.83 177.3 L410.84 177.3 L410.84 178.6 L410.92 177.9 L411.00 177.3 L410.98 178.6 L410.95 179.2 L411.03 178.6 L411.06 179.2 L411.14 178.6 L411.12 179.8 L411.15 179.2 L411.27 177.9 L411.24 179.8 L411.33 178.6 L411.43 177.9 L411.43 177.3 L411.46 177.9 L411.59 176.1 L411.59 177.3 L411.62 177.9 L411.68 176.7 L411.69 177.3 L411.75 177.3 L411.83 176.7 L411.81 177.9 L411.79 178.6 L411.83 178.6 L411.84 179.8 L411.96 177.9 L412.02 177.9 L412.00 178.6 L411.99 179.8 L412.02 180.4 L412.18 177.9 L412.18 178.6 L412.21 177.9 L412.22 179.2 L412.39 176.7 L412.37 177.9 L410.60 177.6 L410.60 177.6 L412.78 178.6 L411.53 177.9 L413.79 178.8 L413.34 178.4 L413.86 178.5 L413.42 178.3 L412.19 177.6 L413.08 177.9 L411.24 176.9 L411.60 177.0 L413.30 177.8 L414.64 178.2 L413.12 177.4 L411.83 176.7 L412.96 177.1 L413.36 177.3 L413.66 177.3 L413.19 176.9 L414.18 177.2 L413.84 176.9 L413.44 176.8 L413.05 176.5 L414.36 176.9 L413.10 176.2 L413.22 176.1 L412.86 176.0 L413.60 176.2 L412.40 175.7 L413.85 176.1 L412.53 175.5 L414.01 175.7 L412.68 175.4 L412.83 175.2 L413.20 175.1 L413.85 175.1 L413.63 174.8 L413.14 174.7 L413.71 174.6 L414.24 174.6 L412.82 174.0 L414.78 174.3 L413.96 174.1 L412.92 173.6 L414.18 173.7 L414.00 173.5 L413.89 173.2 L413.96 173.3 L413.96 173.1 L414.76 173.1 L414.46 172.8 L414.78 172.7 L414.25 172.5 L415.26 172.6 L414.39 172.2 L414.92 172.1 L414.49 171.8 L414.51 171.8 L415.16 171.9 L415.18 171.7 L414.74 171.4 L414.83 171.2 L414.58 170.9 L415.21 171.1 L415.08 170.9 L415.44 170.7 L415.09 170.4 L415.01 170.2 L415.55 170.3 L414.97 170.0 L415.58 169.9 L415.81 169.7 L416.13 169.6 L415.33 169.4 L415.45 169.2 L415.89 169.1 L415.46 168.8 L415.78 168.7 L415.53 168.6 L415.46 168.4 L415.10 168.1 L415.69 168.0 L416.01 167.9 L415.81 167.8 L415.55 167.5 L415.91 167.4 L416.75 167.4 L415.86 167.0 L415.47 166.9 L416.96 167.0 L415.67 166.5 L416.96 166.6 L416.42 166.3 L415.24 166.0 L416.03 166.0 L416.05 165.7 L416.10 165.5 L416.13 165.3 L416.71 165.5 L416.58 165.2 L417.26 165.2 L416.32 164.7 L416.46 164.6 L416.93 164.7 L416.52 164.4 L416.37 164.1 L416.88 164.0 L416.11 163.6 L416.03 163.6 L416.49 163.5 L417.16 163.5 L417.39 163.3 L416.31 162.8 L416.59 162.9 L417.18 162.8 L417.18 162.6 L416.56 162.2 L417.66 162.3 L416.93 162.1 L417.09 161.9 L416.81 161.7 L417.94 161.7 L417.96 161.5 L417.16 161.3 L418.11 161.3 L418.03 161.1 L417.88 160.9 L417.48 160.5 L418.03 160.7 L417.14 160.2 L417.28 160.1 L417.48 159.9 L418.05 159.8 L418.48 159.9 L416.59 159.3 L417.71 159.3 L417.36 159.0 L418.17 159.0 L417.04 158.7 L418.99 159.0 L417.62 158.4 L418.88 158.5 L417.29 157.9 L418.37 158.2 L419.12 158.2 L418.95 157.9 L417.50 157.3 L417.53 157.1 L417.28 157.1 L418.53 157.4 L417.37 156.9 L419.43 157.2 L418.90 156.8 L419.36 156.8 L418.15 156.4 L418.38 156.3 L418.56 156.1 L417.73 155.7 L417.78 155.5 L418.73 155.8 L418.44 155.5 L418.69 155.3 L418.05 155.0 L419.20 155.0 L419.67 155.2 L419.12 154.8 L418.62 154.5 L419.48 154.5 L419.54 154.3 L419.18 154.2 L418.50 153.8 L417.97 153.5 L420.28 153.8 L419.51 153.4 L418.99 153.3 L418.83 153.0 L418.17 152.7 L420.02 152.9 L419.36 152.6 L419.59 152.6 L419.39 152.4 L419.46 152.2 L419.88 152.1 L418.79 151.6 L419.19 151.7 L419.99 151.7 L420.42 151.6 L420.00 151.2 L420.12 151.1 L419.25 150.8 L419.45 150.7 L420.08 150.6 L420.04 150.4 L419.89 150.2 L420.00 150.2 L419.05 149.7 L419.12 149.6 L420.56 149.7 L420.22 149.4 L419.71 149.3 L420.44 149.3 L421.43 149.3 L419.97 148.7 L420.65 148.7 L420.37 148.6 L420.10 148.3 L420.02 148.1 L421.24 148.2 L420.27 147.7 L419.50 147.6 L421.76 147.9 L420.30 147.3 L421.23 147.4 L420.98 147.1 L420.60 147.0 L421.94 147.1 L420.31 146.5 L421.14 146.5 L421.28 146.3 L420.07 146.0 L420.53 145.9 L421.62 146.0 L422.28 145.9 L421.62 145.6 L420.12 145.0 L422.00 145.2 L420.31 144.6 L420.83 144.5 L421.43 144.5 L421.61 144.3 L421.45 144.1 L421.43 143.8 L422.73 144.2 L420.73 143.5 L421.88 143.5 L422.41 143.5 L422.24 143.2 L420.76 142.8 L422.72 143.1 L422.72 143.0 L421.38 142.5 L421.53 142.4 L422.85 142.6 L422.11 142.4 L421.42 142.0 L422.41 142.1 L421.63 141.7 L421.54 141.5 L421.08 141.4 L422.48 141.6 L421.79 141.2 L421.73 141.0 L422.09 141.0 L422.88 141.2 L422.38 140.9 L423.06 140.9 L422.47 140.6 L423.30 140.6 L423.64 140.7 L422.64 140.3 L422.66 140.1 L421.71 139.6 L422.46 139.7 L423.86 140.1 L423.29 139.7 L421.88 139.1 L422.31 139.1 L422.60 139.0 L423.02 139.1 L423.09 139.0 L423.07 138.8 L423.39 138.7 L423.19 138.5 L422.82 138.4 L423.38 138.4 L422.18 137.8 L422.75 137.8 L423.30 137.8 L423.78 137.9 L423.81 137.8 L424.29 137.7 L424.27 137.6 L423.73 137.2 L423.69 137.2 L423.99 137.1 L423.38 136.8 L423.46 136.6 L423.92 136.6 L423.11 136.3 L423.96 136.4 L424.05 136.2 L424.84 136.3 L423.22 135.6 L423.61 135.8 L424.80 135.9 L423.72 135.4 L424.33 135.4 L423.74 135.1 L425.00 135.5 L423.41 134.8 L423.96 134.8 L423.84 134.6 L425.15 134.8 L424.45 134.6 L423.33 134.1 L425.52 134.6 L423.59 133.8 L424.72 134.0 L425.14 134.1 L424.28 133.6 L424.23 133.5 L423.90 133.2 L423.76 133.0 L425.92 133.6 L425.48 133.3 L425.66 133.2 L423.83 132.4 L424.62 132.5 L424.10 132.3 L425.49 132.6 L426.20 132.6 L424.72 132.0 L424.70 131.8 L426.04 132.2 L424.50 131.6 L425.68 131.8 L425.00 131.4 L425.85 131.5 L425.07 131.2 L424.44 130.9 L425.60 131.0 L424.53 130.7 L425.82 130.9 L426.73 131.0 L426.40 130.9 L424.76 130.2 L424.66 130.0 L424.62 129.8 L425.13 129.8 L424.83 129.7 L425.21 129.6 L427.03 129.9 L426.17 129.5 L426.06 129.3 L425.55 129.1 L426.12 129.1 L426.42 129.0 L426.24 128.7 L426.74 128.7 L426.79 128.7 L425.82 128.2 L425.62 128.0 L427.17 128.2 L425.50 127.6 L426.62 127.9 L426.63 127.7 L427.54 127.8 L426.09 127.2 L425.68 126.9 L427.55 127.4 L426.10 126.8 L425.57 126.5 L425.92 126.4 L426.77 126.4 L427.57 126.6 L427.16 126.3 L426.83 126.1 L426.44 125.8 L427.03 125.7 L427.40 125.8 L426.55 125.4 L427.24 125.4 L428.24 125.5 L427.09 125.0 L427.03 125.0 L427.10 124.8 L427.43 124.7 L426.95 124.4 L427.96 124.5 L427.68 124.4 L427.90 124.3 L427.25 123.9 L428.09 123.9 L428.64 123.9 L427.47 123.6 L427.46 123.4 L427.66 123.3 L427.33 123.0 L427.62 122.9 L428.53 123.1 L428.04 122.8 L427.69 122.5 L427.68 122.3 L427.43 122.0 L428.54 122.4 L427.50 121.9 L428.11 121.9 L428.19 121.7 L427.14 121.2 L428.03 121.5 L428.51 121.4 L427.17 120.8 L427.50 120.7 L428.40 120.8 L428.45 120.8 L428.36 120.8 L428.30 121.0 L428.51 121.0 L428.51 121.1 L428.57 121.2 L428.85 121.0 L428.72 121.2 L428.74 121.3 L428.63 121.5 L428.88 121.4 L428.73 121.5 L428.78 121.6 L429.08 121.5 L429.20 121.6 L428.85 121.9 L429.12 121.7 L428.91 122.0 L429.09 122.0 L429.06 122.1 L429.45 122.0 L428.95 122.3 L429.50 122.1 L429.49 122.2 L429.31 122.4 L429.25 122.6 L429.31 122.5 L429.33 122.6 L429.65 122.6 L429.50 122.8 L429.42 122.9 L429.83 122.7 L429.81 122.8 L429.67 123.0 L429.56 123.2 L429.70 123.2 L429.95 123.1 L429.93 123.2 L429.95 123.3 L430.16 123.3 L429.75 123.6 L430.07 123.5 L430.13 123.5 L430.34 123.5 L430.12 123.8 L430.21 123.8 L430.03 123.9 L430.13 124.0 L430.32 124.0 L430.27 124.1 L430.15 124.3 L430.50 124.1 L430.50 124.2 L430.40 124.4 L430.63 124.4 L430.53 124.5 L430.75 124.4 L430.48 124.6 L430.55 124.6 L430.78 124.7 L430.93 124.7 L430.75 124.9 L430.79 124.9 L431.05 124.9 L430.75 125.2 L431.05 125.1 L430.79 125.4 L430.81 125.4 L431.01 125.4 L431.00 125.5 L431.35 125.5 L431.20 125.7 L431.12 125.7 L431.43 125.7 L431.51 125.8 L431.12 126.1 L431.34 126.1 L431.20 126.2 L431.31 126.3 L431.76 126.1 L431.71 126.3 L431.62 126.5 L431.59 126.5 L431.63 126.6 L431.80 126.6 L431.76 126.8 L431.94 126.8 L431.62 127.0 L431.99 126.9 L431.98 127.0 L431.82 127.2 L432.08 127.2 L431.97 127.3 L432.18 127.3 L432.11 127.5 L432.09 127.6 L432.42 127.6 L432.44 127.5 L432.42 127.7 L432.18 127.9 L432.27 128.0 L432.28 128.1 L432.19 128.2 L432.51 128.1 L432.60 128.2 L432.57 128.3 L432.57 128.5 L432.44 128.5 L432.63 128.6 L432.62 128.7 L432.83 128.7 L433.03 128.7 L432.54 129.0 L432.83 129.0 L432.95 129.0 L432.93 129.2 L432.74 129.4 L433.07 129.2 L433.11 129.3 L433.20 129.4 L433.21 129.5 L433.46 129.5 L433.02 129.7 L433.25 129.7 L433.43 129.8 L433.19 130.0 L433.45 130.0 L433.19 130.1 L433.48 130.1 L433.51 130.2 L433.51 130.4 L433.52 130.5 L433.69 130.4 L433.74 130.5 L433.67 130.6 L434.01 130.6 L434.06 130.7 L433.81 130.8 L433.83 130.9 L433.73 131.1 L433.97 131.1 L433.84 131.3 L433.80 131.3 L434.03 131.3 L434.19 131.4 L434.29 131.5 L434.23 131.6 L434.40 131.5 L434.22 131.7 L434.19 131.9 L434.44 131.9 L434.26 132.1 L434.52 132.0 L434.44 132.1 L434.47 132.2 L434.81 132.2 L434.64 132.4 L434.47 132.5 L434.48 132.6 L434.52 132.7 L434.85 132.7 L434.78 132.8 L435.03 132.7 L434.75 133.0 L434.90 133.0 L434.82 133.2 L435.17 133.1 L434.82 133.3 L434.99 133.2 L435.23 133.2 L435.00 133.4 L434.91 133.6 L435.16 133.5 L435.16 133.5 L435.46 133.4 L435.33 133.6 L435.22 133.8 L435.36 133.8 L435.42 133.8 L435.55 133.8 L435.26 134.1 L435.62 134.0 L435.82 134.0 L435.57 134.1 L435.69 134.2 L435.75 134.2 L435.86 134.3 L435.92 134.4 L435.95 134.3 L435.71 134.6 L436.04 134.5 L436.07 134.6 L435.97 134.8 L435.91 134.8 L436.00 134.8 L436.14 134.9 L436.24 134.9 L436.19 135.0 L436.27 135.0 L436.28 135.1 L436.18 135.3 L436.36 135.3 L436.29 135.4 L436.48 135.3 L436.49 135.4 L436.50 135.5 L436.50 135.6 L436.75 135.6 L436.73 135.6 L436.41 135.9 L436.66 135.8 L436.82 135.8 L437.02 135.8 L436.88 135.9 L436.71 136.1 L436.72 136.2 L437.11 136.1 L437.00 136.3 L436.91 136.3 L436.95 136.4 L437.08 136.4 L437.15 136.5 L437.14 136.6 L437.27 136.5 L437.21 136.7 L437.20 136.8 L437.40 136.8 L437.22 137.0 L437.27 137.0 L437.52 136.9 L437.57 137.0 L437.52 137.1 L437.55 137.2 L437.54 137.2 L437.62 137.3 L437.72 137.3 L437.51 137.6 L437.56 137.7 L437.73 137.5 L437.78 137.6 L437.81 137.7 L437.80 137.8 L437.94 137.8 L437.84 137.9 L438.29 137.7 L438.19 137.9 L438.24 138.0 L438.41 138.0 L438.25 138.1 L438.33 138.1 L438.42 138.2 L438.49 138.2 L438.33 138.5 L438.52 138.3 L438.38 138.5 L438.62 138.5 L438.53 138.7 L438.78 138.6 L438.84 138.6 L438.60 138.8 L438.71 138.9 L438.51 139.1 L438.72 139.1 L438.74 139.1 L438.81 139.1 L438.96 139.1 L438.86 139.3 L439.05 139.3 L438.92 139.4 L439.12 139.4 L438.93 139.6 L439.13 139.6 L439.22 139.6 L439.13 139.7 L439.31 139.7 L439.52 139.6 L439.32 139.8 L439.23 140.0 L439.49 139.9 L439.29 140.0 L439.34 140.1 L439.43 140.1 L439.77 140.0 L439.37 140.4 L439.41 140.3 L439.63 140.3 L439.80 140.3 L439.88 140.3 L440.00 140.3 L439.84 140.4 L439.71 140.6 L440.06 140.5 L439.97 140.6 L439.90 140.8 L439.87 140.8 L440.01 140.8 L440.20 140.8 L439.92 141.1 L440.12 141.0 L440.13 141.0 L440.12 141.1 L440.39 141.1 L440.49 141.1 L440.53 141.1 L440.21 141.4 L440.39 141.4 L440.67 141.3 L440.70 141.3 L440.59 141.5 L440.76 141.4 L440.67 141.6 L440.67 141.7 L440.72 141.7 L440.67 141.9 L440.58 141.9 L440.84 141.9 L440.87 141.9 L440.74 142.1 L440.95 142.1 L440.97 142.1 L440.94 142.2 L441.07 142.2 L441.16 142.2 L441.06 142.4 L441.25 142.3 L441.27 142.4 L441.27 142.5 L441.22 142.6 L441.59 142.4 L441.22 142.7 L441.33 142.7 L441.63 142.6 L441.43 142.9 L441.67 142.8 L441.44 143.0 L441.65 142.9 L441.65 143.0 L441.91 142.9 L441.80 143.1 L441.85 143.1 L441.76 143.2 L441.97 143.2 L441.88 143.3 L441.77 143.5 L442.00 143.4 L441.91 143.5 L442.15 143.5 L442.04 143.6 L442.34 143.5 L442.03 143.8 L442.31 143.6 L442.40 143.7 L442.44 143.8 L442.47 143.8 L442.32 143.9 L442.42 144.0 L442.38 144.1 L442.47 144.1 L442.67 144.1 L442.63 144.1 L442.50 144.3 L442.49 144.4 L442.59 144.5 L442.67 144.5 L442.91 144.3 L443.08 144.3 L442.74 144.7 L442.96 144.6 L443.12 144.6 L443.01 144.7 L442.95 144.8 L443.13 144.8 L443.26 144.8 L443.23 144.9 L443.09 145.0 L443.15 145.1 L443.53 144.9 L443.26 145.2 L443.39 145.2 L443.25 145.3 L443.68 145.1 L443.52 145.3 L443.62 145.3 L443.63 145.4 L443.74 145.4 L443.70 145.5 L443.83 145.5 L443.63 145.7 L443.53 145.8 L443.79 145.7 L443.85 145.7 L443.63 146.0 L443.90 145.8 L443.98 145.9 L443.88 146.0 L444.12 145.8 L444.07 146.0 L444.27 145.9 L444.08 146.2 L444.29 146.1 L444.29 146.1 L444.33 146.2 L444.18 146.4 L444.40 146.3 L444.42 146.4 L444.32 146.5 L444.28 146.6 L444.72 146.3 L444.44 146.7 L444.47 146.8 L444.46 146.8 L444.58 146.8 L444.80 146.7 L444.70 146.9 L444.77 146.9 L444.77 146.9 L444.88 146.9 L444.93 147.0 L445.17 146.9 L444.96 147.1 L444.89 147.2 L444.90 147.3 L444.89 147.4 L444.99 147.4 L445.23 147.3 L445.10 147.4 L445.30 147.4 L445.14 147.6 L445.38 147.5 L445.19 147.7 L445.54 147.5 L445.39 147.7 L445.45 147.7 L445.61 147.7 L445.67 147.7 L445.67 147.7 L445.49 148.0 L445.75 147.9 L445.87 147.9 L445.91 147.9 L445.69 148.1 L445.90 148.0 L445.68 148.3 L445.73 148.4 L445.92 148.3 L446.02 148.2 L445.88 148.5 L446.16 148.3 L445.99 148.6 L446.10 148.6 L446.17 148.5 L446.31 148.5 L446.24 148.7 L446.34 148.7 L446.35 148.8 L446.40 148.7 L446.24 149.0 L446.68 148.7 L446.71 148.8 L446.52 149.0 L446.58 149.0 L446.82 148.9 L446.63 149.1 L446.74 149.1 L447.02 149.0 L446.59 149.4 L446.89 149.2 L446.96 149.3 L447.02 149.3 L447.20 149.3 L447.10 149.3 L446.94 149.6 L447.19 149.5 L447.14 149.6 L447.42 149.5 L447.17 149.7 L447.30 149.7 L447.30 149.8 L447.38 149.8 L447.43 149.9 L447.44 149.8 L447.31 150.1 L447.35 150.1 L447.59 150.0 L447.55 150.2 L447.70 150.0 L447.76 150.1 L447.76 150.2 L447.62 150.4 L448.02 150.2 L447.91 150.3 L447.81 150.4 L447.84 150.5 L447.96 150.5 L448.12 150.5 L447.96 150.6 L447.95 150.7 L447.99 150.8 L448.06 150.7 L448.19 150.7 L448.15 150.8 L448.09 150.9 L448.25 150.8 L448.30 150.9 L448.50 150.8 L448.26 151.1 L448.40 151.0 L448.64 150.8 L448.45 151.1 L448.39 151.3 L448.79 150.9 L448.42 151.3 L448.66 151.2 L448.63 151.3 L448.88 151.1 L448.76 151.4 L448.81 151.3 L448.81 151.4 L449.04 151.2 L449.06 151.3 L449.17 151.3 L448.81 151.7 L448.98 151.6 L449.14 151.5 L449.16 151.6 L449.31 151.5 L449.25 151.6 L449.22 151.7 L449.49 151.5 L449.54 151.6 L449.55 151.7 L449.51 151.7 L449.33 152.0 L449.50 151.9 L449.59 151.9 L449.51 152.1 L449.54 152.1 L449.62 152.1 L449.68 152.1 L449.72 152.2 L449.99 152.0 L449.67 152.3 L449.77 152.3 L449.78 152.4 L449.83 152.5 L449.97 152.4 L449.92 152.5 L450.13 152.3 L449.96 152.6 L450.03 152.6 L450.18 152.6 L450.24 152.5 L450.22 152.6 L450.49 152.4 L450.39 152.6 L450.21 152.9 L450.41 152.7 L450.51 152.7 L450.50 152.8 L450.63 152.8 L450.75 152.7 L450.54 153.0 L450.84 152.7 L450.68 153.0 L450.77 153.0 L450.82 153.0 L450.78 153.1 L450.89 153.1 L450.72 153.4 L450.95 153.2 L450.81 153.5 L451.02 153.2 L451.06 153.3 L451.14 153.3 L451.34 153.2 L451.39 153.2 L451.01 153.6 L451.21 153.5 L451.34 153.5 L451.16 153.8 L451.28 153.7 L451.25 153.8 L451.47 153.6 L451.52 153.7 L451.42 153.9 L451.72 153.6 L451.79 153.6 L451.59 153.9 L451.68 153.9 L451.76 153.9 L451.86 153.9 L451.71 154.1 L452.00 153.8 L451.99 153.9 L451.94 154.1 L452.07 154.0 L452.01 154.1 L452.20 154.0 L452.19 154.1 L452.07 154.3 L452.26 154.2 L452.06 154.5 L452.11 154.5 L452.41 154.3 L452.45 154.3 L452.37 154.5 L452.38 154.5 L452.43 154.6 L452.43 154.6 L452.67 154.5 L452.42 154.9 L452.63 154.6 L452.74 154.6 L452.80 154.6 L452.58 155.0 L452.61 155.0 L452.72 154.9 L452.78 155.0 L452.91 154.9 L453.07 154.8 L453.01 155.0 L453.19 154.8 L453.08 155.0 L452.91 155.3 L453.25 155.0 L453.01 155.4 L453.24 155.1 L453.40 155.1 L453.25 155.3 L453.33 155.3 L453.28 155.5 L453.34 155.4 L453.63 155.2 L453.53 155.4 L453.50 155.6 L453.64 155.5 L453.43 155.7 L453.46 155.8 L453.77 155.5 L453.75 155.7 L453.87 155.6 L453.67 155.9 L453.72 155.9 L454.05 155.6 L453.99 155.6 L453.87 156.2 L454.13 155.6 L453.98 155.6 L454.01 156.2 L454.15 155.6 L454.00 156.2 L454.11 156.2 L454.23 156.2 L454.17 156.2 L454.33 156.2 L454.29 156.2 L454.32 156.2 L454.40 156.2 L454.60 155.6 L454.65 155.6 L454.51 156.2 L454.58 156.2 L454.56 156.2 L454.67 156.2 L454.85 156.2 L454.88 156.2 L454.81 156.2 L454.68 156.2 L454.91 156.2 L454.75 156.9 L455.10 156.2 L455.15 156.2 L455.08 156.2 L455.01 156.9 L455.21 156.2 L455.26 156.2 L455.35 156.2 L455.21 156.9 L455.21 156.9 L455.20 156.9 L455.46 156.2 L455.41 156.9 L455.49 156.9 L455.31 156.9 L455.58 156.9 L455.48 156.9 L455.58 156.9 L455.75 156.9 L455.62 156.9 L455.63 156.9 L455.88 156.9 L455.74 156.9 L455.84 156.9 L455.77 156.9 L455.85 156.9 L456.03 156.9 L455.98 156.9 L456.01 156.9 L456.03 156.9 L456.17 156.9 L456.05 157.5 L456.20 157.5 L456.18 157.5 L456.37 156.9 L456.28 157.5 L456.37 157.5 L456.52 156.9 L456.38 157.5 L456.44 157.5 L456.42 157.5 L456.50 157.5 L456.47 157.5 L456.66 157.5 L456.50 157.5 L456.55 157.5 L456.67 157.5 L456.75 157.5 L456.88 157.5 L456.85 157.5 L457.04 157.5 L456.99 157.5 L456.99 157.5 L456.95 157.5 L456.90 158.1 L457.25 157.5 L457.30 157.5 L457.25 157.5 L457.24 157.5 L457.37 157.5 L457.30 158.1 L457.36 158.1 L457.33 158.1 L457.45 158.1 L457.44 158.1 L457.35 158.1 L457.57 158.1 L457.47 158.1 L457.53 158.1 L457.80 158.1 L457.78 158.1 L457.86 158.1 L457.73 158.1 L457.84 158.1 L457.88 158.1 L457.92 158.1 L457.83 158.7 L458.03 158.1 L458.06 158.1 L458.00 158.1 L458.14 158.1 L458.15 158.1 L458.14 158.7 L458.14 158.7 L458.21 158.7 L458.42 158.1 L458.50 158.1 L458.40 158.7 L458.25 158.7 L458.48 158.7 L458.51 158.7 L458.50 158.7 L458.61 158.7 L458.47 158.7 L458.55 158.7 L458.85 158.7 L458.73 158.7 L458.76 158.7 L458.82 158.7 L458.79 158.7 L458.96 158.7 L458.94 158.7 L459.03 158.7 L459.03 158.7 L458.94 159.3 L459.05 158.7 L459.11 159.3 L459.13 159.3 L459.05 159.3 L459.29 158.7 L459.19 159.3 L459.20 159.3 L459.38 159.3 L459.34 159.3 L459.32 159.3 L459.51 159.3 L459.49 159.3 L459.65 159.3 L459.48 159.3 L459.55 159.3 L459.75 159.3 L459.81 159.3 L459.79 159.3 L459.84 159.3 L459.94 159.3 L459.96 159.3 L459.93 159.3 L460.05 159.3 L460.11 159.3 L460.16 159.3 L460.00 160.0 L460.20 159.3 L460.19 159.3 L460.23 159.3 L460.25 159.3 L460.33 159.3 L460.23 160.0 L460.55 159.3 L460.31 160.0 L460.52 159.3 L460.45 160.0 L460.55 160.0 L460.46 160.0 L460.57 160.0 L460.64 160.0 L460.73 160.0 L460.81 160.0 L460.88 160.0 L460.83 160.0 L460.95 160.0 L460.96 160.0 L461.02 160.0 L461.08 160.0 L461.06 160.0 L461.07 160.0 L461.17 160.0 L461.13 160.0 L461.18 160.0 L461.32 160.0 L461.21 160.0 L461.32 160.0 L461.37 160.0 L461.34 160.6 L461.43 160.0 L461.43 160.0 L461.44 160.6 L461.44 160.6 L461.47 160.6 L461.67 160.0 L461.58 160.6 L461.74 160.0 L461.83 160.0 L461.88 160.0 L461.82 160.6 L461.74 160.6 L461.82 160.6 L461.85 160.6 L461.91 160.6 L462.13 160.6 L462.05 160.6 L462.12 160.6 L462.11 160.6 L462.08 160.6 L462.12 160.6 L462.08 161.2 L462.26 160.6 L462.35 160.6 L462.31 160.6 L462.39 160.6 L462.28 161.2 L462.52 160.6 L462.37 161.2 L462.44 161.2 L462.53 161.2 L462.66 160.6 L462.69 160.6 L462.81 160.6 L462.67 161.2 L462.74 161.2 L462.86 160.6 L462.75 161.2 L462.86 161.2 L462.94 161.2 L463.00 161.2 L462.92 161.2 L463.08 161.2 L463.14 161.2 L463.05 161.2 L463.32 161.2 L463.23 161.2 L463.25 161.2 L463.17 161.2 L463.29 161.2 L463.45 161.2 L463.29 161.8 L463.53 161.2 L463.51 161.2 L463.64 161.2 L463.54 161.2 L463.59 161.2 L463.76 161.2 L463.75 161.2 L463.77 161.2 L463.71 161.8 L463.71 161.8 L463.85 161.8 L463.80 161.8 L464.02 161.2 L464.06 161.2 L464.03 161.8 L464.10 161.2 L464.14 161.8 L464.18 161.8 L464.13 161.8 L464.27 161.8 L464.25 161.8 L464.26 161.8 L464.26 161.8 L464.33 161.8 L464.35 161.8 L464.40 161.8 L464.50 161.8 L464.56 161.8 L464.62 161.8 L464.47 162.4 L464.73 161.8 L464.68 161.8 L464.77 161.8 L464.78 161.8 L464.67 162.4 L464.91 161.8 L465.03 161.8 L465.06 161.8 L465.00 161.8 L465.07 161.8 L465.07 161.8 L465.17 161.8 L465.05 162.4 L465.30 161.8 L465.22 162.4 L465.12 162.4 L465.29 162.4 L465.39 162.4 L465.29 162.4 L465.49 161.8 L465.39 162.4 L465.56 162.4 L465.55 162.4 L465.58 162.4 L465.66 162.4 L465.74 162.4 L465.74 162.4 L465.62 162.4 L465.90 162.4 L465.78 162.4 L465.84 162.4 L465.80 162.4 L466.07 162.4 L466.05 162.4 L466.06 162.4 L466.18 162.4 L466.19 162.4 L466.12 162.4 L466.18 162.4 L466.22 162.4 L466.37 162.4 L466.28 163.1 L466.29 163.1 L466.43 162.4 L466.36 163.1 L466.48 162.4 L466.48 163.1 L466.59 163.1 L466.68 162.4 L466.65 163.1 L466.61 163.1 L466.76 163.1 L466.62 163.1 L466.81 163.1 L466.87 163.1 L466.89 163.1 L466.93 163.1 L467.05 163.1 L467.00 163.1 L467.01 163.1 L467.11 163.1 L467.01 163.1 L467.18 163.1 L467.20 163.1 L467.24 163.1 L467.20 163.1 L467.39 163.1 L467.39 163.1 L467.34 163.7 L467.36 163.1 L467.32 163.7 L467.52 163.1 L467.55 163.1 L467.60 163.1 L467.62 163.1 L467.67 163.1 L467.76 163.1 L467.68 163.7 L467.83 163.7 L467.67 163.7 L467.82 163.7 L467.97 163.7 L467.97 163.7 L468.00 163.7 L468.01 163.7 L468.12 163.7 L468.00 163.7 L468.15 163.7 L468.19 163.7 L468.27 163.7 L468.29 163.7 L468.25 163.7 L468.29 163.7 L468.40 163.7 L468.35 163.7 L468.42 163.7 L468.63 163.7 L468.56 163.7 L468.66 163.7 L468.53 163.7 L468.60 163.7 L468.82 163.7 L468.69 164.3 L468.82 163.7 L468.76 164.3 L468.76 164.3 L468.81 164.3 L468.90 164.3 L468.87 164.3 L468.97 164.3 L469.03 164.3 L469.23 163.7 L469.27 163.7 L469.25 164.3 L469.16 164.3 L469.22 164.3 L469.35 164.3 L469.38 164.3 L469.38 164.3 L469.39 164.3 L469.35 164.3 L469.39 164.3 L469.56 164.3 L469.57 164.3 L469.53 164.3 L469.68 164.3 L469.58 164.9 L469.62 164.9 L469.78 164.3 L469.85 164.3 L469.78 164.9 L469.92 164.3 L469.92 164.3 L469.94 164.3 L469.88 164.9 L470.00 164.3 L469.90 165.5 L470.35 164.3 L470.38 164.3 L470.46 164.3 L470.44 164.3 L470.41 164.9 L470.68 164.3 L470.56 164.9 L470.80 164.3 L471.06 163.7 L470.83 164.9 L471.02 164.9 L471.02 164.9 L471.06 164.9 L471.16 164.9 L471.34 164.3 L471.39 164.9 L471.46 164.9 L471.50 164.9 L471.53 164.9 L471.63 164.9 L471.73 164.9 L472.30 163.7 L471.96 164.9 L471.85 165.5 L472.06 164.9 L472.03 164.9 L472.09 165.5 L472.36 164.9 L472.30 164.9 L472.96 163.7 L472.41 165.5 L472.46 165.5 L472.41 166.2 L472.67 165.5 L472.87 164.9 L472.77 165.5 L472.88 165.5 L472.87 166.2 L473.01 165.5 L473.07 165.5 L473.42 164.9 L473.27 165.5 L473.26 166.2 L473.30 166.2 L473.45 165.5 L473.60 165.5 L473.45 166.2 L473.74 165.5 L473.73 166.2 L473.90 165.5 L473.85 166.2 L473.95 166.2 L474.10 165.5 L474.04 166.2 L474.11 166.2 L474.29 166.2 L474.34 166.2 L474.43 166.2 L474.62 165.5 L474.58 166.2 L474.33 167.4 L474.88 166.2 L474.84 166.2 L474.86 166.2 L475.11 165.5 L475.09 166.2 L475.18 166.2 L475.11 166.8 L475.34 166.2 L475.50 166.2 L475.43 166.2 L475.41 166.8 L475.67 166.2 L475.74 166.2 L475.75 166.2 L475.81 166.2 L475.82 166.8 L476.00 166.8 L475.98 166.8 L476.02 166.8 L476.30 166.2 L476.13 166.8 L476.45 166.2 L476.40 166.8 L476.25 167.4 L476.50 166.8 L476.68 166.2 L476.73 166.8 L476.83 166.8 L476.78 166.8 L476.84 167.4 L476.99 166.8 L477.33 166.2 L477.18 166.8 L477.13 167.4 L477.37 166.8 L477.35 167.4 L477.51 166.8 L477.50 167.4 L477.91 166.2 L478.12 165.5 L477.91 166.8 L477.84 166.8 L477.93 166.8 L477.98 167.4 L478.00 167.4 L478.30 166.8 L478.34 166.8 L478.30 167.4 L478.43 167.4 L478.39 167.4 L478.67 166.8 L478.68 167.4 L478.76 166.8 L478.70 167.4 L478.80 167.4 L478.85 167.4 L478.96 167.4 L478.86 168.0 L479.25 167.4 L479.60 166.2 L479.23 167.4 L479.37 167.4 L479.44 167.4 L479.67 166.8 L479.69 167.4 L479.52 168.0 L479.82 167.4 L479.68 168.0 L479.82 168.0 L479.78 168.6 L480.03 167.4 L479.96 168.0 L480.11 167.4 L480.34 167.4 L480.16 168.0 L480.34 168.0 L480.46 167.4 L480.42 168.0 L480.45 168.6 L480.61 168.0 L480.66 168.0 L480.78 168.0 L480.80 168.0 L480.69 168.6 L481.08 168.0 L480.89 168.6 L481.16 168.0 L481.20 168.0 L481.38 168.0 L481.41 168.0 L481.31 168.6 L481.47 168.6 L481.58 168.0 L481.67 168.0 L481.80 168.0 L481.80 168.0 L481.85 168.6 L481.96 168.6 L481.93 168.6 L482.20 168.0 L482.27 168.0 L482.21 168.6 L482.40 168.0 L482.35 168.6 L482.50 168.6 L482.65 168.0 L482.53 168.6 L482.80 168.0 L482.71 168.6 L482.99 168.0 L482.96 168.6 L482.93 168.6 L483.10 168.6 L483.09 169.3 L483.18 168.6 L483.34 168.6 L483.43 168.6 L483.37 169.3 L483.48 169.3 L483.70 168.0 L483.71 168.6 L483.91 168.6 L483.81 168.6 L483.94 168.6 L483.93 169.3 L483.99 169.3 L484.27 168.6 L484.27 168.6 L484.35 168.6 L484.46 168.6 L484.51 168.6 L484.59 168.6 L484.60 169.3 L484.59 169.3 L484.83 168.6 L484.76 169.3 L484.74 169.9 L485.09 168.6 L485.06 168.6 L485.20 168.6 L485.18 169.3 L485.13 169.3 L485.43 168.6 L485.37 169.3 L485.48 169.3 L485.62 169.3 L485.68 168.6 L485.70 169.3 L485.84 169.3 L486.00 168.6 L486.04 169.3 L486.03 169.3 L486.10 169.3 L486.17 169.3 L486.24 169.3 L486.29 169.3 L486.47 169.3 L486.37 169.9 L486.48 169.9 L486.55 169.9 L486.83 168.6 L486.61 170.5 L486.90 169.3 L486.99 169.3 L486.99 169.9 L487.07 169.3 L487.03 169.9 L487.12 169.9 L487.22 169.3 L487.36 169.3 L487.44 169.3 L487.38 169.9 L487.58 169.3 L487.61 169.9 L487.72 169.3 L487.79 169.3 L487.71 170.5 L487.92 169.3 L488.00 169.9 L488.04 169.3 L488.17 169.3 L488.14 169.9 L488.27 169.9 L488.33 169.9 L488.46 169.3 L488.62 169.3 L488.59 169.9 L488.60 169.9 L488.69 169.9 L488.78 169.9 L488.91 169.3 L488.93 169.9 L488.98 169.9 L489.07 169.9 L489.21 169.9 L489.18 169.9 L489.30 169.9 L489.41 169.9 L489.43 169.9 L489.58 169.9 L489.60 169.9 L489.71 169.9 L489.79 169.9 L489.72 170.5 L489.96 169.9 L490.14 169.3 L490.12 169.9 L490.10 170.5 L490.25 169.9 L490.22 170.5 L490.34 170.5 L490.37 170.5 L490.59 169.9 L490.67 169.9 L490.70 169.9 L490.81 169.9 L490.81 170.5 L490.83 170.5 L490.97 170.5 L490.95 170.5 L491.19 169.9 L491.14 170.5 L491.24 170.5 L491.37 170.5 L491.44 169.9 L491.52 169.9 L491.54 170.5 L491.59 170.5 L491.71 170.5 L491.85 169.9 L491.80 170.5 L491.96 170.5 L492.12 169.9 L492.10 170.5 L492.22 170.5 L492.23 170.5 L492.35 170.5 L492.44 170.5 L492.45 170.5 L492.64 169.9 L492.61 170.5 L492.66 170.5 L492.75 171.1 L492.84 170.5 L492.95 170.5 L492.98 170.5 L492.96 171.1 L493.14 170.5 L493.13 171.1 L493.35 170.5 L493.46 170.5 L493.34 171.1 L493.62 169.9 L493.58 171.1 L493.56 171.1 L493.77 170.5 L493.81 170.5 L493.86 171.1 L494.01 170.5 L494.05 170.5 L494.15 170.5 L494.17 171.1 L494.20 171.1 L494.34 171.1 L494.46 170.5 L494.45 171.1 L494.58 171.1 L494.63 170.5 L494.73 171.1 L494.86 170.5 L494.79 171.1 L494.93 171.1 L495.03 171.1 L495.08 171.1 L495.28 170.5 L495.23 171.1 L495.23 171.7 L495.38 171.1 L495.39 171.1 L495.53 171.1 L495.65 170.5 L495.54 171.7 L495.67 171.1 L495.75 171.7 L495.75 171.7 L495.93 171.1 L496.10 170.5 L496.00 171.7 L496.10 171.7 L496.15 171.7 L496.24 171.7 L496.45 171.1 L496.47 170.5 L496.51 171.1 L496.58 171.1 L496.65 171.1 L496.75 171.1 L496.78 171.7 L496.93 171.1 L497.00 171.1 L497.04 171.1 L497.14 171.1 L497.23 171.1 L497.27 171.1 L497.29 171.7 L497.49 170.5 L497.52 171.1 L497.62 171.1 L497.73 170.5 L497.73 171.1 L497.81 171.1 L497.86 171.1 L497.96 171.7 L498.07 171.1 L498.09 171.1 L498.33 170.5 L498.21 171.7 L498.37 171.1 L498.41 171.7 L498.39 171.7 L498.59 171.1 L498.52 172.4 L498.63 171.7 L498.85 171.1 L498.73 172.4 L498.93 171.7 L499.04 171.1 L499.02 171.7 L499.14 171.7 L499.24 171.1 L499.25 171.7 L499.43 171.7 L499.37 171.7 L499.47 171.7 L499.57 171.7 L499.63 171.7 L499.79 171.7 L499.80 171.7 L499.93 171.1 L499.92 172.4 L499.97 171.7 L500.06 172.4 L500.24 171.7 L500.23 171.7 L500.40 171.7 L500.42 171.7 L500.49 171.7 L500.64 171.7 L500.68 171.1 L500.68 172.4 L500.78 171.7 L500.84 171.7 L500.92 172.4 L500.98 171.7 L501.10 171.7 L501.17 172.4 L501.15 172.4 L501.27 172.4 L501.39 171.7 L501.40 172.4 L501.58 171.7 L501.55 172.4 L501.71 171.7 L501.78 172.4 L501.87 171.7 L501.98 171.7 L502.01 171.7 L501.73 174.2 L502.15 172.4 L502.21 171.7 L502.28 172.4 L502.36 172.4 L502.43 171.7 L502.51 172.4 L502.51 173.0 L502.69 171.7 L502.76 172.4 L502.76 172.4 L502.83 172.4 L503.02 171.7 L502.98 172.4 L503.03 171.7 L503.14 172.4 L503.23 171.7 L503.29 171.7 L503.36 172.4 L503.40 172.4 L503.55 171.7 L503.59 172.4 L503.64 171.7 L503.67 173.0 L503.76 172.4 L503.82 172.4 L503.96 172.4 L504.05 171.7 L504.08 172.4 L504.22 172.4 L504.26 171.7 L504.28 173.0 L504.38 172.4 L504.46 172.4 L504.54 172.4 L504.64 171.7 L504.69 172.4 L504.80 172.4 L504.82 172.4 L504.90 172.4 L504.99 172.4 L505.04 172.4 L505.13 173.0 L505.09 173.6 L505.22 173.0 L505.43 172.4 L505.41 172.4 L505.49 173.0 L505.58 173.0 L505.66 172.4 L505.72 173.0 L505.81 172.4 L505.91 172.4 L506.00 172.4 L506.00 172.4 L506.11 173.0 L506.18 173.0 L506.25 172.4 L506.38 172.4 L506.36 173.0 L506.45 173.0 L506.63 172.4 L506.59 173.0 L506.73 172.4 L506.78 173.0 L506.87 172.4 L506.92 173.0 L507.01 172.4 L507.11 172.4 L507.21 172.4 L507.16 173.0 L507.33 172.4 L507.47 172.4 L507.39 173.0 L507.55 173.0 L507.61 172.4 L507.71 172.4 L507.81 172.4 L507.82 172.4 L507.96 172.4 L507.96 173.0 L507.99 173.0 L508.13 173.0 L508.26 172.4 L508.30 172.4 L508.46 172.4 L508.44 172.4 L508.55 172.4 L508.65 172.4 L508.60 173.0 L508.78 173.0 L508.80 173.0 L508.90 172.4 L508.97 173.0 L509.01 173.0 L509.10 173.0 L509.18 173.0 L509.20 173.0 L509.30 173.6 L509.43 172.4 L509.47 173.0 L509.57 173.0 L509.59 173.0 L509.75 173.0 L509.79 173.0 L509.79 173.6 L509.95 173.0 L509.96 173.6 L510.09 173.0 L510.21 173.0 L510.19 173.0 L510.37 172.4 L510.37 173.6 L510.45 173.0 L510.52 173.6 L510.57 173.6 L510.63 173.6 L510.79 173.0 L510.78 173.0 L510.96 173.0 L511.02 173.0 L511.02 173.6 L511.08 173.6 L511.24 173.0 L511.24 173.6 L511.32 172.4 L511.39 173.0 L511.39 173.0 L511.50 173.6 L511.62 173.0 L511.64 173.0 L511.77 173.0 L511.84 172.4 L511.88 173.0 L512.01 173.0 L512.00 173.0 L512.12 173.0 L512.21 173.0 L512.25 173.0 L512.35 173.6 L512.41 173.0 L512.46 173.6 L512.60 173.0 L512.59 173.6 L512.71 173.0 L512.78 173.6 L512.84 173.0 L512.98 173.0 L513.00 173.0 L513.07 173.6 L513.20 173.0 L513.20 173.0 L513.31 173.6 L513.38 173.6 L513.44 173.0 L513.58 173.0 L513.57 173.6 L513.67 173.6 L513.80 173.0 L513.80 173.0 L513.90 173.6 L513.98 173.6 L514.03 173.6 L514.16 173.0 L514.22 173.0 L514.26 173.6 L514.38 173.6 L514.44 172.4 L514.50 173.6 L514.59 173.6 L514.65 173.0 L514.78 173.0 L514.80 173.6 L514.89 173.0 L515.02 173.0 L515.04 172.4 L515.12 173.0 L515.20 173.6 L515.24 173.6 L515.37 173.0 L515.39 173.6 L515.51 173.0 L515.62 173.0 L515.59 173.6 L515.73 173.0 L515.77 174.2 L515.81 173.6 L515.96 173.0 L516.01 173.0 L516.06 173.6 L516.18 173.6 L516.21 173.0 L516.32 173.6 L516.40 173.6 L516.45 173.0 L516.54 173.6 L516.61 173.0 L516.69 173.0 L516.81 173.0 L516.78 173.6 L516.92 173.6 L517.03 173.0 L517.05 173.0 L517.14 173.6 L517.19 173.6 L517.27 173.6 L517.38 173.6 L517.38 173.6 L517.49 174.2 L517.60 173.6 L517.65 173.6 L517.77 173.0 L517.80 173.6 L517.89 173.6 L518.03 173.0 L518.02 173.0 L518.14 173.0 L518.13 174.8 L518.23 173.6 L518.38 173.0 L518.39 173.6 L518.47 173.6 L518.59 173.6 L518.61 173.6 L518.74 173.0 L518.77 174.2 L518.85 173.6 L518.96 173.6 L519.02 173.0 L519.02 173.0 L519.08 173.6 L519.20 173.6 L519.20 173.6 L519.30 174.2 L519.41 173.6 L519.45 173.6 L519.55 174.2 L519.61 173.0 L519.68 173.6 L519.81 173.0 L519.82 173.0 L519.92 173.6 L520.00 173.6 L520.04 173.6 L520.15 173.6 L520.19 173.6 L520.28 173.6 L520.39 173.6 L520.40 173.6 L520.52 173.6 L520.61 173.6 L520.65 173.0 L520.76 173.6 L520.81 173.0 L520.86 174.2 L521.00 173.6 L521.00 173.6 L521.11 173.6 L521.21 173.0 L521.24 173.6 L521.37 173.6 L521.37 174.8 L521.48 173.6 L521.61 173.0 L521.58 174.2 L521.70 174.2 L521.79 173.6 L521.84 173.6 L521.97 173.6 L522.01 173.6 L522.08 173.6 L522.21 173.0 L522.22 173.0 L522.32 173.6 L522.41 173.6 L522.44 173.6 L522.57 173.6 L522.60 173.6 L522.68 173.6 L522.79 173.6 L522.80 173.6 L522.92 173.6 L523.00 173.6 L523.02 174.2 L523.16 173.6 L523.21 173.6 L523.27 174.2 L523.40 173.6 L523.39 173.6 L523.53 173.6 L523.59 173.6 L523.65 173.6 L523.75 174.2 L523.80 173.6 L523.88 173.6 L523.98 174.2 L523.99 174.2 L524.12 173.6 L524.20 173.6 L524.25 173.6 L524.35 173.6 L524.39 173.6 L524.46 174.2 L524.61 173.6 L524.60 173.6 L524.72 173.6 L524.80 173.6 L524.84 173.6 L524.97 173.6 L525.00 173.6 L525.07 174.2 L525.20 173.6 L525.21 173.6 L525.31 174.2 L525.40 173.6 L525.45 173.6 L525.54 174.2 L525.60 173.6 L525.69 173.6 L525.80 173.6 L525.81 173.6 L525.92 173.6 L526.01 173.6 L526.05 173.6 L526.15 173.6 L526.20 173.6 L526.28 173.6 L526.40 173.6 L526.39 174.2 L526.54 173.0 L526.59 174.2 L526.65 173.0 L526.77 173.6 L526.82 173.0 L526.90 173.0 L526.90 173.6 L527.01 173.6 L527.00 173.6 L527.13 173.6 L527.20 173.6 L527.23 174.2 L527.36 173.6 L527.40 173.6 L527.49 173.6 L527.60 173.6 L527.60 174.2 L527.71 174.2 L527.81 173.6 L527.85 173.6 L527.96 173.6 L527.99 174.2 L528.08 173.6 L528.20 173.6 L528.20 173.6 L528.32 173.6 L528.41 173.6 L528.43 174.2 L528.57 173.6 L528.59 174.2 L528.68 173.6 L528.81 173.6 L528.81 173.6 L528.92 173.6 L529.00 173.6 L529.04 174.2 L529.16 173.6 L529.22 173.6 L529.27 174.2 L529.40 174.2 L529.41 173.6 L529.53 173.6 L529.60 173.6 L529.65 173.6 L529.76 174.2 L529.79 174.2 L529.89 173.6 L530.00 173.6 L530.00 173.6 L530.11 174.2 L530.20 173.6 L530.23 174.2 L530.36 173.6 L530.41 173.6 L530.48 173.6 L530.59 174.2 L530.60 173.6 L530.72 173.6 L530.80 174.2 L530.82 174.2 L530.97 173.6 L531.01 173.6 L531.09 173.6 L531.20 173.6 L531.21 173.6 L531.32 174.2 L531.40 173.6 L531.46 173.6 L531.57 173.6 L531.59 174.2 L531.69 173.6 L531.80 174.2 L531.81 173.6 L531.92 174.2 L532.00 173.6 L532.03 174.2 L532.15 174.2 L532.21 173.6 L532.28 174.2 L532.40 173.6 L532.39 174.2 L532.52 174.2 L532.60 174.2 L532.65 173.6 L532.77 173.6 L532.81 173.6 L532.92 173.0 L533.00 174.2 L533.01 173.6 L533.11 174.2 L533.20 174.2 L533.22 174.8 L533.35 174.2 L533.41 173.6 L533.51 173.0 L533.59 174.2 L533.60 174.2 L533.72 174.2 L533.81 173.6 L533.85 173.6 L533.96 173.6 L533.98 174.8 L534.10 173.6 L534.19 174.2 L534.21 173.6 L534.32 174.2 L534.39 174.2 L534.45 173.6 L534.55 174.2 L534.59 174.2 L534.69 173.6 L534.78 174.8 L534.81 173.6 L534.91 174.2 L535.00 174.2 L535.00 173.6 L535.05 173.6 L535.17 173.6 L535.20 174.2 L535.27 174.2 L535.40 174.2 L535.40 173.6 L535.51 174.2 L535.60 174.2 L535.64 174.2 L535.76 173.6 L535.81 173.6 L535.88 174.2 L535.99 174.2 L536.00 173.6 L536.11 174.2 L536.21 173.6 L536.24 174.2 L536.36 174.2 L536.39 174.2 L536.47 174.2 L536.60 174.2 L536.60 174.2 L536.71 174.2 L536.79 174.2 L536.84 174.2 L536.95 174.2 L537.00 174.2 L537.08 174.2 L537.20 174.2 L537.20 174.2 L537.31 174.2 L537.39 174.2 L537.43 174.2 L537.56 174.2 L537.58 174.8 L537.68 174.2 L537.80 174.2 L537.79 174.8 L537.92 174.2 L538.00 174.2 L538.04 174.2 L538.16 174.2 L538.20 174.2 L538.29 173.6 L538.39 174.2 L538.39 174.2 L538.53 173.6 L538.61 173.6 L538.64 174.2 L538.77 173.6 L538.79 174.2 L538.87 174.2 L538.98 174.8 L539.00 174.2 L539.12 174.2 L539.20 174.2 L539.24 174.2 L539.36 174.2 L539.39 174.2 L539.47 174.8 L539.60 174.2 L539.59 174.2 L539.73 173.6 L539.80 174.2 L539.82 174.8 L539.96 174.2 L540.00 174.2 L540.09 173.6 L540.20 174.2 L540.20 174.2 L540.32 174.2 L540.39 174.2 L540.45 173.6 L540.56 174.2 L540.59 174.2 L540.69 173.6 L540.80 174.2 L540.80 174.2 L540.93 174.2 L541.00 174.2 L541.03 174.2 L541.16 174.2 L541.20 174.2 L541.29 173.6 L541.39 174.2 L541.41 173.6 L541.53 174.2 L541.60 174.2 L541.65 174.2 L541.77 173.6 L541.79 174.2 L541.88 174.2 L542.01 173.6 L542.01 173.6 L542.10 174.8 L542.21 173.6 L542.24 174.2 L542.36 174.2 L542.40 174.2 L542.48 174.2 L542.51 174.2 L542.60 174.2 L542.59 173.6 L542.72 174.2 L542.80 174.2 L542.83 173.6 L542.96 174.2 L542.99 173.6 L543.06 173.6 L543.19 174.2 L543.19 173.6 L543.31 173.6 L543.39 173.6 L543.45 174.2 L543.56 174.2 L543.60 174.2 L543.67 173.6 L543.80 174.2 L543.79 173.6 L543.91 174.2 L544.00 174.2 L544.04 174.2 L544.18 174.8 L544.20 174.2 L544.28 174.2 L544.40 174.2 L544.40 174.2 L544.52 174.2 L544.61 174.8 L544.62 173.6 L544.76 174.2 L544.82 174.8 L544.88 174.2 L544.99 173.6 L545.00 174.2 L545.13 174.2 L545.19 173.6 L545.24 174.2 L545.42 176.1 L545.40 174.2 L545.48 174.2 L545.60 174.2 L545.60 174.2 L545.72 174.2 L545.80 174.2 L545.85 174.2 L545.96 174.2 L546.00 174.2 L546.08 174.2 L546.19 173.6 L546.19 173.6 L546.32 174.2 L546.41 174.2 L546.44 174.2 L546.55 173.6 L546.61 174.2 L546.69 174.2 L546.80 174.2 L546.80 174.2 L546.94 174.8 L547.00 174.2 L547.03 173.6 L547.17 174.2 L547.20 174.2 L547.28 174.2 L547.40 174.2 L547.39 173.6 L547.51 173.6 L547.61 174.2 L547.63 173.6 L547.77 174.2 L547.80 174.2 L547.87 173.6 L548.01 174.2 L548.02 174.8 L548.12 173.6 L548.19 173.6 L548.26 174.8 L548.37 174.2 L548.39 173.6 L548.48 174.2 L548.60 174.2 L548.60 174.2 L548.71 173.6 L548.80 174.2 L548.84 174.2 L548.96 174.2 L548.99 173.6 L549.08 174.2 L549.21 174.2 L549.19 173.6 L549.34 174.8 L549.40 174.2 L549.45 174.8 L549.55 173.6 L549.60 174.2 L549.69 174.2 L549.81 174.2 L549.81 174.2 L549.91 173.6 L549.95 172.4 L550.01 174.2 L550.04 174.2 L550.16 174.2 L550.19 173.6 L550.28 173.6 L550.39 173.6 L550.39 173.6 L550.53 174.2 L550.60 173.6 L550.63 173.6 L550.75 173.6 L550.80 173.6 L550.89 174.2 L551.00 174.2 L550.99 173.6 L551.11 173.6 L551.22 174.8 L551.24 174.2 L551.36 174.2 L551.40 173.6 L551.48 173.6 L551.59 173.6 L551.61 174.2 L551.67 172.4 L551.82 174.2 L551.85 174.2 L551.95 173.6 L551.99 173.6 L552.09 174.2 L552.21 174.2 L552.20 173.6 L552.32 173.6 L552.41 174.2 L552.44 174.2 L552.56 173.6 L552.60 174.2 L552.69 174.2 L552.80 174.2 L552.80 173.6 L552.92 173.6 L553.00 174.2 L553.04 173.6 L553.15 173.6 L553.20 173.6 L553.29 174.2 L553.39 173.6 L553.41 174.2 L553.52 174.2 L553.61 174.2 L553.64 173.6 L553.78 174.2 L553.80 173.6 L553.88 174.2 L554.01 174.2 L553.98 173.6 L554.12 173.6 L554.21 174.2 L554.24 174.2 L554.36 173.6 L554.39 173.6 L554.49 174.2 L554.61 174.2 L554.61 174.2 L554.71 173.6 L554.82 174.2 L554.85 174.2 L554.96 174.2 L555.01 174.2 L555.09 174.2 L555.21 174.2 L555.20 173.6 L555.32 174.2 L555.40 173.6 L555.45 174.2 L555.56 174.2 L555.60 173.6 L555.67 173.6 L555.79 173.6 L555.79 173.6 L555.92 173.6 L556.00 173.6 L556.03 173.6 L556.15 173.6 L556.20 173.6 L556.27 173.6 L556.41 174.2 L556.41 174.2 L556.52 173.6 L556.60 173.6 L556.64 173.6 L556.75 173.6 L556.81 174.2 L556.88 173.6 L557.01 174.2 L557.00 173.6 L557.13 174.2 L557.21 174.2 L557.25 174.2 L557.38 174.2 L557.42 174.2 L557.48 173.6 L557.60 173.6 L557.58 173.0 L557.70 173.0 L557.80 173.6 L557.86 174.2 L557.96 173.6 L558.00 173.6 L558.00 173.6 L558.07 173.6 L558.19 173.6 L558.18 173.0 L558.33 173.6 L558.40 173.6 L558.46 174.2 L558.57 174.2 L558.59 173.6 L558.68 173.6 L558.80 173.6 L558.78 173.0 L558.92 173.6 L558.99 173.6 L559.04 173.6 L559.17 173.6 L559.19 173.6 L559.29 174.2 L559.40 173.6 L559.39 173.6 L559.51 173.6 L559.63 174.2 L559.65 173.6 L559.76 173.6 L559.81 174.2 L559.90 174.2 L560.00 173.6 L560.02 174.2 L560.12 173.6 L560.21 174.2 L560.23 173.6 L560.37 173.6 L560.40 173.6 L560.47 173.6 L560.61 173.6 L560.59 173.6 L560.72 173.6 L560.80 173.6 L560.85 173.6 L560.96 173.6 L561.00 173.6 L561.08 173.6 L561.19 173.6 L561.21 173.6 L561.32 173.6 L561.41 173.6 L561.43 173.6 L561.54 173.0 L561.60 173.6 L561.68 173.6 L561.79 173.6 L561.78 173.0 L561.93 174.2 L561.99 173.0 L562.04 173.6 L562.15 173.6 L562.21 174.2 L562.28 173.6 L562.38 173.0 L562.41 174.2 L562.51 173.0 L562.59 173.6 L562.64 173.6 L562.76 173.6 L562.80 173.6 L562.90 174.2 L562.99 173.0 L562.99 173.6 L563.12 173.6 L563.18 173.0 L563.23 173.6 L563.35 173.0 L563.40 173.6 L563.48 173.6 L563.60 173.6 L563.60 173.6 L563.73 173.6 L563.80 173.6 L563.83 173.0 L563.98 174.2 L564.02 174.2 L564.07 173.6 L564.18 173.0 L564.20 173.6 L564.32 173.6 L564.37 173.0 L564.44 173.6 L564.56 173.6 L564.60 173.6 L564.62 172.4 L564.79 173.6 L564.81 173.6 L564.89 172.4 L564.99 173.0 L565.03 173.0 L565.16 173.6 L565.19 173.0 L565.28 173.6 L565.41 173.6 L565.40 173.6 L565.51 173.0 L565.59 173.6 L565.64 173.6 L565.75 173.0 L565.82 173.6 L565.85 172.4 L566.00 173.6 L566.02 174.2 L566.12 173.6 L566.20 173.6 L566.25 173.6 L566.36 173.6 L566.40 173.6 L566.48 173.6 L566.60 173.6 L566.58 173.0 L566.70 173.0 L566.79 173.0 L566.83 173.0 L566.96 173.6 L566.99 173.0 L566.99 173.0 L567.09 173.6 L567.20 173.6 L567.20 173.0 L567.31 173.0 L567.42 173.6 L567.45 173.6 L567.54 173.0 L567.60 173.6 L567.69 173.6 L567.80 173.6 L567.81 173.6 L567.93 173.6 L568.00 173.0 L568.05 173.6 L568.17 173.6 L568.19 173.0 L568.30 174.2 L568.40 173.6 L568.40 173.6 L568.55 174.2 L568.61 173.6 L568.64 173.0 L568.77 173.6 L568.81 173.6 L568.88 173.6 L569.00 173.0 L569.01 173.6 L569.11 173.0 L569.20 173.0 L569.24 173.0 L569.36 173.6 L569.40 173.6 L569.48 173.0 L569.58 173.0 L569.60 173.6 L569.71 173.0 L569.83 174.2 L569.83 173.0 L569.96 173.6 L569.99 173.0 L570.06 172.4 L570.20 173.0 L570.19 173.0 L570.33 173.6 L570.41 173.6 L570.43 173.0 L570.55 173.0 L570.61 173.6 L570.68 173.6 L570.82 173.6 L570.80 173.6 L570.94 173.6 L570.99 173.0 L571.05 173.6 L571.15 173.0 L571.19 173.0 L571.29 173.6 L571.40 173.0 L571.41 173.6 L571.53 173.6 L571.62 173.6 L571.63 173.0 L571.77 173.6 L571.74 171.7 L571.89 173.6 L572.01 173.6 L572.01 173.6 L572.12 173.0 L572.20 173.0 L572.24 173.0 L572.35 173.0 L572.40 173.0 L572.49 173.6 L572.60 173.6 L572.60 173.0 L572.72 173.6 L572.82 173.6 L572.83 173.0 L572.97 173.6 L572.99 173.0 L573.08 173.6 L573.19 173.0 L573.21 173.6 L573.34 173.6 L573.39 173.0 L573.43 173.0 L573.56 173.6 L573.62 173.6 L573.68 173.6 L573.81 173.6 L573.79 173.0 L573.92 173.0 L573.99 173.0 L574.04 173.0 L574.14 172.4 L574.22 173.6 L574.28 173.0 L574.41 173.6 L574.39 173.0 L574.52 173.0 L574.59 173.0 L574.63 173.0 L574.77 173.6 L574.80 173.0 L574.88 173.0 L574.99 173.0 L575.02 173.6 L575.12 173.0 L575.20 173.0 L575.24 173.0 L575.38 173.6 L575.38 172.4 L575.49 173.6 L575.58 172.4 L575.61 173.6 L575.74 173.6 L575.80 173.0 L575.84 173.0 L575.96 173.0 L575.99 173.0 L576.00 173.0" stroke="#ffa500" stroke-width="0.9"/>
</g>
<rect x="80.5" y="58.5" width="496" height="369" fill="none" stroke="#000" stroke-width="1.1"/>
<g stroke="#000" stroke-width="1.1">
<path d="M122.5 428V432.8"/>
<path d="M178.5 428V432.8"/>
<path d="M233.5 428V432.8"/>
<path d="M288.5 428V432.8"/>
<path d="M343.5 428V432.8"/>
<path d="M398.5 428V432.8"/>
<path d="M453.5 428V432.8"/>
<path d="M508.5 428V432.8"/>
<path d="M564.5 428V432.8"/>
<path d="M80 413.5H75.2"/>
<path d="M80 350.5H75.2"/>
<path d="M80 288.5H75.2"/>
<path d="M80 226.5H75.2"/>
<path d="M80 164.5H75.2"/>
<path d="M80 101.5H75.2"/>
</g>
<g class="t10" text-anchor="middle">
<text x="122.00" y="448">10-23 15</text>
<text x="177.05" y="448">10-23 19</text>
<text x="233.00" y="448">10-23 23</text>
<text x="288.00" y="448">10-24 03</text>
<text x="343.00" y="448">10-24 07</text>
<text x="398.00" y="448">10-24 11</text>
<text x="453.00" y="448">10-24 15</text>
<text x="508.00" y="448">10-24 19</text>
<text x="564.00" y="448">10-24 23</text>
</g>
<g class="t10" text-anchor="end">
<text x="70.8" y="418.0">0</text>
<text x="70.8" y="356.0">5</text>
<text x="69.8" y="294.0" textLength="16.65" lengthAdjust="spacing">10</text>
<text x="69.9" y="231.0" textLength="16.76" lengthAdjust="spacing">15</text>
<text x="70.5" y="169.0">20</text>
<text x="70.8" y="107.0">25</text>
</g>
<text class="t12" transform="translate(208.1 48.9) scale(1 1.065)"><tspan letter-spacing="0.072">APOLLO Laser</tspan><tspan dx="-1.4" letter-spacing="0.24"> Temperatures</tspan></text>
<text class="t10" x="325.8" y="467" text-anchor="middle">Date (GMT)</text>
<text class="t10" transform="translate(42.7 243.1) rotate(-90)" text-anchor="middle" textLength="115.9" lengthAdjust="spacing">Temperature (C)</text>
<rect x="87.5" y="65.5" width="150" height="87.5" rx="2.8" ry="2.8" fill="#fff" fill-opacity="0.8" stroke="#ccc" stroke-width="1.05"/>
<g stroke-width="0.7">
<path d="M93 76.5H120.8" stroke="#000"/>
<path d="M93 97.5H120.8" stroke="#008000"/>
<path d="M93 118.5H120.8" stroke="#ff0000"/>
<path d="M93 139.5H120.8" stroke="#ffa500"/>
</g>
<g class="t10">
<text x="131.2" y="81" textLength="56.3" lengthAdjust="spacing">Utah Air</text>
<text x="131.9" y="102" textLength="73.9" lengthAdjust="spacing">LASER_AIR</text>
<text x="130.8" y="123" textLength="39.4" lengthAdjust="spacing">AOML</text>
<text x="132.1" y="144" textLength="98.7" lengthAdjust="spacing">LASER_BENCH</text>
</g>
</svg></body></html>
